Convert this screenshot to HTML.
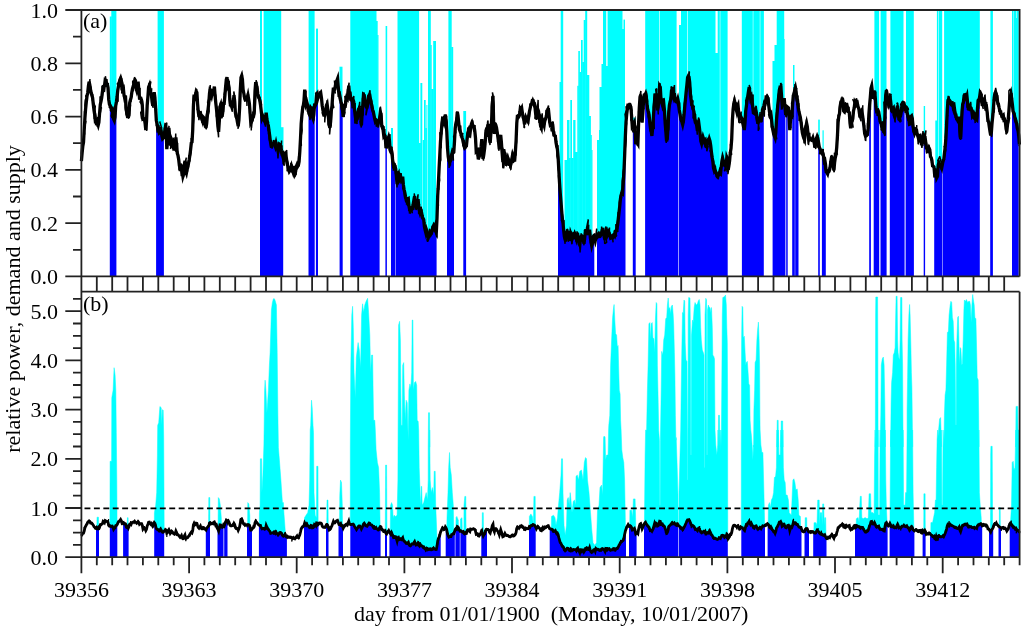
<!DOCTYPE html>
<html><head><meta charset="utf-8"><title>relative power, demand and supply</title>
<style>html,body{margin:0;padding:0;background:#fff}svg{display:block}text{font-family:"Liberation Serif","Times New Roman",serif;fill:#000}</style>
</head><body>
<svg width="1024" height="627" viewBox="0 0 1024 627">
<rect width="1024" height="627" fill="#fff"/>
<defs>
<clipPath id="aboveA"><path d="M81.4,10.0 L81.4,161.1 L82.1,153.0 L82.8,146.3 L83.5,142.4 L84.2,130.0 L84.9,118.2 L85.6,109.0 L86.3,102.2 L87.0,96.2 L87.7,92.7 L88.4,86.3 L89.1,81.7 L89.8,84.7 L90.5,89.8 L91.2,93.3 L91.9,95.6 L92.6,97.8 L93.3,104.3 L94.0,110.2 L94.7,114.8 L95.4,121.6 L96.1,121.4 L96.8,120.4 L97.5,123.1 L98.2,125.2 L98.9,122.3 L99.6,113.0 L100.3,104.4 L101.0,101.4 L101.7,97.7 L102.4,92.0 L103.1,86.9 L103.8,86.0 L104.5,85.6 L105.2,80.0 L105.9,80.5 L106.6,83.3 L107.3,84.3 L108.0,87.6 L108.7,99.2 L109.4,104.1 L110.1,105.3 L110.8,107.2 L111.5,108.5 L112.2,108.4 L112.9,114.7 L113.6,119.0 L114.3,120.5 L115.0,117.0 L115.7,105.9 L116.4,101.7 L117.1,96.8 L117.8,90.0 L118.5,86.3 L119.2,82.7 L119.9,79.8 L120.6,78.2 L121.3,80.7 L122.0,89.4 L122.7,89.9 L123.4,88.8 L124.1,95.8 L124.8,96.5 L125.5,96.7 L126.2,109.4 L126.9,113.4 L127.6,111.9 L128.3,117.9 L129.0,113.6 L129.7,102.7 L130.4,99.9 L131.1,97.7 L131.8,92.5 L132.5,88.6 L133.2,86.2 L133.9,84.1 L134.6,80.5 L135.3,84.2 L136.0,88.2 L136.7,90.5 L137.4,87.5 L138.1,81.7 L138.8,89.7 L139.5,98.3 L140.2,98.4 L140.9,98.3 L141.6,100.4 L142.3,105.2 L143.0,119.1 L143.7,118.8 L144.4,118.8 L145.1,123.4 L145.8,130.0 L146.5,121.6 L147.2,105.2 L147.9,96.8 L148.6,87.1 L149.3,85.4 L150.0,90.6 L150.7,92.9 L151.4,95.1 L152.1,101.7 L152.8,105.8 L153.5,97.7 L154.2,92.3 L154.9,97.4 L155.6,107.8 L156.3,120.2 L157.0,123.8 L157.7,128.0 L158.4,127.5 L159.1,131.5 L159.8,130.3 L160.5,127.3 L161.2,131.5 L161.9,136.2 L162.6,138.9 L163.3,138.2 L164.0,135.6 L164.7,131.5 L165.4,127.1 L166.1,128.3 L166.8,149.2 L167.5,142.3 L168.2,130.6 L168.9,127.9 L169.6,136.0 L170.3,144.2 L171.0,145.0 L171.7,140.4 L172.4,142.3 L173.1,145.9 L173.8,148.9 L174.5,148.7 L175.2,145.0 L175.9,137.5 L176.6,145.5 L177.3,153.3 L178.0,155.4 L178.7,159.5 L179.4,165.6 L180.1,168.4 L180.8,168.2 L181.5,164.8 L182.2,171.6 L182.9,176.3 L183.6,173.9 L184.3,164.9 L185.0,160.9 L185.7,171.2 L186.4,173.1 L187.1,169.6 L187.8,167.2 L188.5,163.2 L189.2,159.5 L189.9,154.9 L190.6,149.6 L191.3,143.0 L192.0,142.2 L192.7,130.3 L193.4,106.4 L194.1,94.7 L194.8,98.8 L195.5,94.7 L196.2,91.4 L196.9,92.5 L197.6,103.8 L198.3,112.0 L199.0,117.1 L199.7,112.7 L200.4,112.6 L201.1,116.3 L201.8,119.1 L202.5,121.1 L203.2,117.0 L203.9,117.7 L204.6,121.7 L205.3,124.9 L206.0,127.9 L206.7,123.3 L207.4,115.3 L208.1,109.1 L208.8,102.9 L209.5,93.4 L210.2,88.7 L210.9,93.4 L211.6,95.7 L212.3,92.3 L213.0,92.9 L213.7,90.0 L214.4,86.7 L215.1,95.9 L215.8,103.1 L216.5,109.2 L217.2,116.7 L217.9,126.3 L218.6,131.8 L219.3,121.4 L220.0,107.4 L220.7,105.3 L221.4,111.4 L222.1,116.7 L222.8,111.9 L223.5,103.3 L224.2,103.3 L224.9,95.7 L225.6,86.9 L226.3,79.5 L227.0,77.1 L227.7,85.8 L228.4,84.2 L229.1,87.9 L229.8,99.1 L230.5,103.6 L231.2,106.0 L231.9,106.1 L232.6,106.2 L233.3,101.6 L234.0,95.3 L234.7,101.3 L235.4,112.9 L236.1,116.6 L236.8,118.4 L237.5,122.4 L238.2,126.1 L238.9,120.4 L239.6,108.2 L240.3,90.1 L241.0,77.5 L241.7,75.7 L242.4,79.3 L243.1,89.6 L243.8,93.2 L244.5,97.1 L245.2,99.4 L245.9,99.0 L246.6,99.5 L247.3,98.4 L248.0,95.4 L248.7,99.2 L249.4,103.7 L250.1,113.1 L250.8,123.0 L251.5,121.8 L252.2,120.4 L252.9,115.9 L253.6,116.0 L254.3,111.0 L255.0,91.3 L255.7,82.2 L256.4,84.7 L257.1,87.7 L257.8,94.0 L258.5,97.5 L259.2,97.9 L259.9,101.3 L260.6,105.6 L261.3,111.6 L262.0,117.7 L262.7,115.8 L263.4,117.5 L264.1,120.2 L264.8,121.6 L265.5,118.2 L266.2,112.6 L266.9,119.1 L267.6,123.6 L268.3,125.5 L269.0,130.5 L269.7,135.7 L270.4,141.4 L271.1,145.2 L271.8,144.6 L272.5,144.7 L273.2,143.9 L273.9,142.8 L274.6,144.2 L275.3,146.4 L276.0,143.4 L276.7,146.7 L277.4,148.2 L278.1,151.7 L278.8,149.3 L279.5,144.2 L280.2,144.7 L280.9,147.1 L281.6,150.8 L282.3,153.9 L283.0,157.2 L283.7,159.5 L284.4,155.8 L285.1,152.0 L285.8,161.1 L286.5,159.0 L287.2,163.9 L287.9,166.6 L288.6,169.2 L289.3,171.5 L290.0,170.5 L290.7,168.6 L291.4,166.3 L292.1,169.3 L292.8,171.4 L293.5,165.9 L294.2,170.4 L294.9,173.6 L295.6,171.7 L296.3,166.4 L297.0,164.7 L297.7,166.3 L298.4,165.1 L299.1,161.6 L299.8,151.6 L300.5,138.6 L301.2,123.4 L301.9,115.2 L302.6,108.8 L303.3,105.7 L304.0,100.6 L304.7,89.7 L305.4,97.5 L306.1,104.1 L306.8,102.3 L307.5,105.2 L308.2,108.6 L308.9,113.5 L309.6,114.8 L310.3,115.0 L311.0,108.3 L311.7,109.4 L312.4,116.9 L313.1,118.7 L313.8,114.5 L314.5,105.5 L315.2,105.7 L315.9,104.0 L316.6,95.0 L317.3,93.8 L318.0,97.4 L318.7,94.8 L319.4,94.6 L320.1,94.3 L320.8,93.3 L321.5,98.1 L322.2,105.7 L322.9,109.3 L323.6,113.1 L324.3,113.8 L325.0,114.5 L325.7,112.0 L326.4,105.4 L327.1,103.9 L327.8,109.5 L328.5,118.4 L329.2,125.2 L329.9,127.8 L330.6,121.8 L331.3,110.9 L332.0,105.6 L332.7,95.3 L333.4,87.7 L334.1,90.2 L334.8,89.3 L335.5,84.7 L336.2,83.0 L336.9,80.6 L337.6,78.7 L338.3,87.6 L339.0,95.2 L339.7,95.1 L340.4,98.5 L341.1,102.5 L341.8,105.1 L342.5,110.3 L343.2,116.7 L343.9,111.2 L344.6,105.6 L345.3,105.8 L346.0,101.1 L346.7,97.4 L347.4,98.4 L348.1,92.2 L348.8,85.7 L349.5,94.1 L350.2,98.2 L350.9,98.8 L351.6,100.2 L352.3,100.4 L353.0,99.3 L353.7,101.6 L354.4,108.4 L355.1,114.9 L355.8,119.9 L356.5,120.2 L357.2,119.1 L357.9,113.1 L358.6,109.1 L359.3,108.1 L360.0,109.4 L360.7,116.2 L361.4,125.5 L362.1,114.1 L362.8,104.7 L363.5,94.7 L364.2,95.3 L364.9,100.9 L365.6,104.5 L366.3,107.1 L367.0,107.3 L367.7,104.6 L368.4,96.9 L369.1,95.2 L369.8,95.2 L370.5,99.5 L371.2,103.1 L371.9,105.9 L372.6,109.9 L373.3,111.4 L374.0,115.3 L374.7,118.9 L375.4,121.7 L376.1,120.9 L376.8,122.6 L377.5,122.5 L378.2,123.5 L378.9,120.2 L379.6,117.9 L380.3,112.3 L381.0,113.7 L381.7,125.0 L382.4,127.8 L383.1,130.0 L383.8,136.0 L384.5,135.0 L385.2,136.0 L385.9,146.8 L386.6,146.9 L387.3,141.1 L388.0,139.2 L388.7,137.0 L389.4,139.7 L390.1,150.4 L390.8,151.8 L391.5,150.8 L392.2,156.0 L392.9,162.6 L393.6,167.3 L394.3,167.5 L395.0,166.4 L395.7,168.7 L396.4,176.1 L397.1,184.2 L397.8,175.7 L398.5,174.2 L399.2,179.9 L399.9,178.5 L400.6,177.3 L401.3,180.2 L402.0,179.0 L402.7,176.6 L403.4,184.9 L404.1,189.6 L404.8,192.6 L405.5,196.4 L406.2,199.6 L406.9,201.4 L407.6,199.2 L408.3,198.7 L409.0,206.3 L409.7,209.6 L410.4,210.9 L411.1,209.7 L411.8,208.8 L412.5,207.7 L413.2,204.1 L413.9,199.9 L414.6,196.1 L415.3,201.8 L416.0,207.7 L416.7,207.4 L417.4,201.7 L418.1,199.1 L418.8,208.3 L419.5,210.8 L420.2,206.9 L420.9,210.4 L421.6,213.1 L422.3,217.4 L423.0,218.5 L423.7,219.6 L424.4,226.4 L425.1,230.0 L425.8,232.7 L426.5,229.8 L427.2,231.9 L427.9,237.4 L428.6,234.6 L429.3,234.0 L430.0,233.3 L430.7,234.5 L431.4,233.4 L432.1,230.8 L432.8,227.3 L433.5,225.8 L434.2,227.7 L434.9,230.0 L435.6,231.0 L436.3,232.5 L437.0,218.1 L437.7,195.6 L438.4,183.2 L439.1,168.2 L439.8,154.9 L440.5,141.2 L441.2,133.0 L441.9,123.9 L442.6,118.1 L443.3,118.2 L444.0,121.1 L444.7,117.2 L445.4,114.6 L446.1,120.7 L446.8,131.8 L447.5,147.9 L448.2,156.5 L448.9,160.8 L449.6,162.1 L450.3,161.2 L451.0,159.6 L451.7,154.6 L452.4,151.7 L453.1,152.9 L453.8,152.3 L454.5,141.5 L455.2,128.5 L455.9,123.2 L456.6,120.3 L457.3,111.8 L458.0,115.4 L458.7,122.6 L459.4,129.1 L460.1,131.4 L460.8,133.0 L461.5,134.3 L462.2,137.9 L462.9,140.1 L463.6,144.1 L464.3,146.8 L465.0,146.2 L465.7,146.6 L466.4,145.9 L467.1,139.0 L467.8,133.1 L468.5,131.2 L469.2,133.6 L469.9,134.5 L470.6,128.9 L471.3,124.3 L472.0,122.7 L472.7,124.9 L473.4,126.7 L474.1,126.7 L474.8,131.0 L475.5,138.0 L476.2,151.4 L476.9,150.7 L477.6,151.4 L478.3,159.4 L479.0,156.9 L479.7,154.3 L480.4,150.5 L481.1,146.2 L481.8,139.2 L482.5,151.9 L483.2,158.6 L483.9,153.9 L484.6,148.6 L485.3,141.1 L486.0,130.6 L486.7,128.5 L487.4,127.2 L488.1,124.0 L488.8,128.1 L489.5,138.4 L490.2,143.0 L490.9,133.0 L491.6,120.6 L492.3,104.5 L493.0,95.9 L493.7,124.5 L494.4,134.0 L495.1,124.2 L495.8,125.0 L496.5,127.6 L497.2,132.3 L497.9,137.2 L498.6,142.3 L499.3,149.3 L500.0,140.1 L500.7,135.0 L501.4,142.4 L502.1,152.3 L502.8,161.1 L503.5,161.6 L504.2,159.8 L504.9,152.7 L505.6,160.4 L506.3,162.1 L507.0,159.6 L507.7,157.6 L508.4,159.9 L509.1,163.8 L509.8,163.7 L510.5,165.7 L511.2,163.0 L511.9,158.6 L512.6,154.9 L513.3,157.0 L514.0,160.0 L514.7,160.0 L515.4,151.3 L516.1,140.3 L516.8,122.8 L517.5,114.8 L518.2,117.5 L518.9,116.4 L519.6,114.4 L520.3,108.5 L521.0,109.5 L521.7,108.1 L522.4,112.9 L523.1,117.3 L523.8,119.3 L524.5,124.4 L525.2,121.7 L525.9,117.8 L526.6,119.5 L527.3,119.8 L528.0,121.2 L528.7,116.7 L529.4,111.7 L530.1,108.5 L530.8,105.4 L531.5,104.7 L532.2,102.8 L532.9,100.8 L533.6,102.4 L534.3,103.1 L535.0,107.4 L535.7,114.4 L536.4,119.1 L537.1,114.4 L537.8,109.2 L538.5,111.1 L539.2,116.2 L539.9,120.4 L540.6,126.1 L541.3,127.8 L542.0,118.5 L542.7,119.6 L543.4,123.3 L544.1,125.4 L544.8,120.3 L545.5,119.2 L546.2,116.4 L546.9,113.3 L547.6,110.9 L548.3,108.1 L549.0,114.9 L549.7,121.9 L550.4,125.7 L551.1,125.5 L551.8,124.1 L552.5,123.8 L553.2,130.1 L553.9,135.2 L554.6,135.6 L555.3,136.0 L556.0,142.2 L556.7,146.5 L557.4,149.2 L558.1,156.8 L558.8,170.0 L559.5,182.3 L560.2,192.8 L560.9,201.1 L561.6,210.1 L562.3,218.6 L563.0,223.2 L563.7,230.7 L564.4,236.6 L565.1,239.3 L565.8,238.6 L566.5,233.4 L567.2,231.5 L567.9,232.1 L568.6,237.5 L569.3,239.1 L570.0,239.3 L570.7,233.3 L571.4,235.2 L572.1,239.3 L572.8,237.7 L573.5,235.4 L574.2,236.3 L574.9,233.6 L575.6,235.0 L576.3,238.0 L577.0,234.4 L577.7,234.4 L578.4,239.5 L579.1,243.8 L579.8,245.2 L580.5,236.9 L581.2,236.5 L581.9,241.4 L582.6,236.7 L583.3,237.4 L584.0,243.8 L584.7,237.5 L585.4,231.1 L586.1,231.1 L586.8,229.9 L587.5,229.0 L588.2,233.9 L588.9,234.0 L589.6,229.7 L590.3,236.8 L591.0,241.9 L591.7,245.6 L592.4,242.8 L593.1,240.6 L593.8,235.0 L594.5,238.7 L595.2,241.0 L595.9,237.6 L596.6,236.1 L597.3,236.8 L598.0,235.6 L598.7,234.3 L599.4,236.0 L600.1,236.2 L600.8,234.9 L601.5,233.2 L602.2,230.1 L602.9,229.8 L603.6,233.5 L604.3,237.3 L605.0,239.8 L605.7,231.8 L606.4,230.8 L607.1,235.9 L607.8,234.3 L608.5,232.0 L609.2,232.8 L609.9,235.6 L610.6,238.2 L611.3,237.9 L612.0,237.4 L612.7,237.4 L613.4,234.8 L614.1,234.4 L614.8,235.6 L615.5,233.0 L616.2,230.2 L616.9,228.5 L617.6,225.2 L618.3,218.7 L619.0,212.7 L619.7,206.6 L620.4,199.3 L621.1,195.3 L621.8,192.7 L622.5,193.4 L623.2,183.8 L623.9,172.7 L624.6,156.6 L625.3,137.8 L626.0,122.3 L626.7,114.3 L627.4,108.8 L628.1,103.7 L628.8,107.2 L629.5,107.6 L630.2,106.2 L630.9,107.2 L631.6,116.3 L632.3,126.9 L633.0,126.2 L633.7,125.0 L634.4,123.1 L635.1,132.3 L635.8,144.2 L636.5,141.8 L637.2,142.7 L637.9,143.9 L638.6,123.4 L639.3,107.7 L640.0,97.0 L640.7,94.7 L641.4,106.7 L642.1,122.5 L642.8,113.5 L643.5,102.2 L644.2,96.8 L644.9,95.4 L645.6,93.8 L646.3,97.1 L647.0,104.4 L647.7,109.4 L648.4,112.2 L649.1,115.1 L649.8,122.6 L650.5,128.5 L651.2,131.5 L651.9,135.9 L652.6,128.5 L653.3,119.0 L654.0,107.3 L654.7,99.2 L655.4,100.7 L656.1,93.4 L656.8,96.5 L657.5,110.3 L658.2,107.3 L658.9,97.7 L659.6,86.1 L660.3,87.3 L661.0,100.1 L661.7,102.5 L662.4,98.7 L663.1,105.4 L663.8,103.8 L664.5,110.8 L665.2,123.6 L665.9,132.1 L666.6,141.3 L667.3,138.3 L668.0,127.4 L668.7,112.7 L669.4,105.3 L670.1,101.7 L670.8,99.6 L671.5,90.7 L672.2,90.3 L672.9,93.7 L673.6,96.4 L674.3,93.1 L675.0,98.6 L675.7,101.3 L676.4,101.6 L677.1,101.3 L677.8,99.0 L678.5,102.4 L679.2,109.5 L679.9,113.5 L680.6,117.7 L681.3,120.5 L682.0,122.0 L682.7,124.6 L683.4,121.3 L684.1,114.3 L684.8,106.1 L685.5,98.9 L686.2,91.4 L686.9,85.0 L687.6,77.4 L688.3,76.0 L689.0,76.9 L689.7,82.5 L690.4,94.3 L691.1,99.6 L691.8,105.0 L692.5,105.7 L693.2,109.2 L693.9,111.6 L694.6,116.6 L695.3,122.2 L696.0,122.5 L696.7,125.7 L697.4,130.7 L698.1,124.2 L698.8,123.0 L699.5,128.5 L700.2,134.8 L700.9,141.3 L701.6,143.5 L702.3,140.1 L703.0,137.1 L703.7,139.3 L704.4,140.4 L705.1,139.8 L705.8,146.4 L706.5,146.9 L707.2,142.3 L707.9,140.7 L708.6,141.7 L709.3,139.0 L710.0,141.2 L710.7,145.4 L711.4,151.9 L712.1,157.3 L712.8,161.2 L713.5,167.9 L714.2,170.4 L714.9,168.9 L715.6,171.8 L716.3,173.2 L717.0,176.1 L717.7,176.7 L718.4,175.0 L719.1,173.4 L719.8,173.4 L720.5,173.9 L721.2,167.4 L721.9,161.2 L722.6,157.9 L723.3,160.5 L724.0,164.2 L724.7,165.5 L725.4,165.5 L726.1,165.9 L726.8,157.6 L727.5,159.4 L728.2,169.8 L728.9,165.7 L729.6,160.7 L730.3,152.6 L731.0,148.5 L731.7,139.1 L732.4,120.1 L733.1,109.5 L733.8,103.8 L734.5,100.9 L735.2,103.7 L735.9,108.1 L736.6,110.9 L737.3,106.7 L738.0,105.1 L738.7,112.3 L739.4,118.6 L740.1,117.5 L740.8,116.5 L741.5,118.0 L742.2,119.1 L742.9,122.6 L743.6,124.2 L744.3,130.0 L745.0,122.9 L745.7,111.1 L746.4,106.1 L747.1,100.2 L747.8,96.0 L748.5,91.2 L749.2,87.1 L749.9,93.3 L750.6,98.4 L751.3,96.9 L752.0,101.6 L752.7,106.9 L753.4,112.9 L754.1,113.2 L754.8,112.0 L755.5,109.9 L756.2,111.6 L756.9,116.2 L757.6,121.7 L758.3,122.4 L759.0,120.3 L759.7,119.5 L760.4,117.8 L761.1,122.0 L761.8,116.8 L762.5,109.6 L763.2,108.1 L763.9,105.6 L764.6,102.5 L765.3,103.2 L766.0,100.0 L766.7,97.1 L767.4,97.0 L768.1,99.9 L768.8,106.0 L769.5,112.0 L770.2,114.7 L770.9,113.7 L771.6,120.2 L772.3,127.1 L773.0,130.8 L773.7,134.1 L774.4,136.2 L775.1,137.9 L775.8,132.7 L776.5,120.0 L777.2,112.0 L777.9,104.0 L778.6,97.7 L779.3,90.2 L780.0,87.2 L780.7,87.4 L781.4,94.2 L782.1,105.1 L782.8,104.0 L783.5,100.7 L784.2,98.1 L784.9,106.5 L785.6,113.6 L786.3,113.8 L787.0,112.4 L787.7,107.2 L788.4,107.8 L789.1,116.4 L789.8,130.1 L790.5,120.7 L791.2,114.9 L791.9,115.7 L792.6,104.2 L793.3,95.6 L794.0,94.3 L794.7,90.1 L795.4,87.8 L796.1,91.6 L796.8,98.4 L797.5,99.9 L798.2,107.2 L798.9,111.5 L799.6,114.4 L800.3,117.2 L801.0,121.7 L801.7,127.5 L802.4,132.9 L803.1,135.7 L803.8,138.1 L804.5,139.7 L805.2,128.8 L805.9,126.3 L806.6,123.2 L807.3,126.6 L808.0,134.0 L808.7,140.0 L809.4,139.0 L810.1,139.3 L810.8,139.6 L811.5,140.2 L812.2,139.7 L812.9,137.9 L813.6,140.8 L814.3,143.4 L815.0,147.8 L815.7,143.2 L816.4,138.3 L817.1,136.4 L817.8,138.3 L818.5,142.4 L819.2,146.6 L819.9,148.5 L820.6,150.4 L821.3,151.4 L822.0,152.7 L822.7,152.9 L823.4,155.6 L824.1,160.6 L824.8,159.9 L825.5,164.3 L826.2,171.6 L826.9,172.6 L827.6,173.9 L828.3,170.8 L829.0,170.8 L829.7,169.4 L830.4,164.9 L831.1,159.8 L831.8,155.9 L832.5,159.3 L833.2,165.9 L833.9,170.4 L834.6,162.5 L835.3,157.5 L836.0,154.7 L836.7,147.6 L837.4,136.5 L838.1,122.6 L838.8,116.4 L839.5,113.6 L840.2,106.0 L840.9,102.0 L841.6,101.9 L842.3,97.7 L843.0,101.2 L843.7,111.1 L844.4,111.8 L845.1,108.8 L845.8,109.4 L846.5,103.0 L847.2,106.1 L847.9,109.5 L848.6,111.9 L849.3,112.6 L850.0,123.0 L850.7,128.3 L851.4,122.1 L852.1,121.3 L852.8,118.8 L853.5,111.0 L854.2,107.9 L854.9,102.3 L855.6,103.6 L856.3,101.4 L857.0,101.4 L857.7,105.2 L858.4,107.6 L859.1,109.6 L859.8,115.7 L860.5,115.5 L861.2,112.5 L861.9,111.0 L862.6,115.8 L863.3,121.0 L864.0,127.0 L864.7,133.6 L865.4,135.8 L866.1,135.7 L866.8,133.3 L867.5,133.7 L868.2,128.2 L868.9,114.0 L869.6,104.9 L870.3,97.4 L871.0,88.2 L871.7,85.9 L872.4,91.9 L873.1,98.6 L873.8,96.3 L874.5,90.8 L875.2,96.6 L875.9,106.5 L876.6,111.2 L877.3,110.8 L878.0,110.3 L878.7,112.0 L879.4,116.2 L880.1,121.3 L880.8,122.9 L881.5,123.4 L882.2,123.5 L882.9,127.5 L883.6,131.7 L884.3,132.3 L885.0,112.8 L885.7,95.2 L886.4,90.3 L887.1,94.1 L887.8,102.4 L888.5,104.4 L889.2,101.0 L889.9,96.3 L890.6,100.6 L891.3,107.7 L892.0,111.9 L892.7,108.8 L893.4,108.0 L894.1,115.1 L894.8,117.0 L895.5,114.7 L896.2,114.5 L896.9,108.3 L897.6,105.6 L898.3,113.7 L899.0,120.0 L899.7,117.6 L900.4,115.8 L901.1,111.6 L901.8,106.5 L902.5,103.6 L903.2,102.4 L903.9,102.8 L904.6,105.8 L905.3,111.1 L906.0,108.3 L906.7,109.3 L907.4,114.1 L908.1,116.0 L908.8,118.9 L909.5,124.2 L910.2,123.9 L910.9,116.6 L911.6,115.9 L912.3,118.6 L913.0,125.3 L913.7,131.0 L914.4,133.1 L915.1,130.7 L915.8,129.3 L916.5,129.9 L917.2,134.4 L917.9,136.4 L918.6,139.0 L919.3,136.5 L920.0,136.5 L920.7,137.6 L921.4,143.9 L922.1,144.0 L922.8,137.0 L923.5,137.7 L924.2,139.7 L924.9,136.1 L925.6,141.3 L926.3,148.0 L927.0,148.9 L927.7,149.7 L928.4,150.7 L929.1,148.2 L929.8,149.7 L930.5,156.6 L931.2,157.6 L931.9,160.3 L932.6,165.9 L933.3,166.2 L934.0,167.1 L934.7,175.3 L935.4,175.0 L936.1,169.6 L936.8,177.6 L937.5,176.2 L938.2,165.0 L938.9,162.7 L939.6,164.2 L940.3,165.6 L941.0,166.3 L941.7,168.1 L942.4,164.5 L943.1,160.2 L943.8,159.2 L944.5,153.0 L945.2,146.8 L945.9,138.7 L946.6,125.0 L947.3,109.8 L948.0,100.1 L948.7,99.3 L949.4,102.4 L950.1,101.8 L950.8,103.9 L951.5,105.0 L952.2,105.4 L952.9,105.5 L953.6,109.6 L954.3,110.8 L955.0,113.9 L955.7,115.3 L956.4,118.0 L957.1,118.9 L957.8,120.5 L958.5,119.8 L959.2,116.6 L959.9,131.4 L960.6,139.0 L961.3,124.7 L962.0,111.6 L962.7,104.3 L963.4,101.9 L964.1,95.7 L964.8,95.2 L965.5,97.6 L966.2,97.9 L966.9,95.8 L967.6,102.6 L968.3,107.0 L969.0,106.2 L969.7,108.3 L970.4,107.5 L971.1,108.0 L971.8,111.0 L972.5,116.5 L973.2,115.7 L973.9,113.8 L974.6,115.7 L975.3,115.6 L976.0,119.3 L976.7,119.9 L977.4,109.5 L978.1,100.3 L978.8,99.5 L979.5,97.9 L980.2,92.6 L980.9,93.7 L981.6,99.3 L982.3,105.7 L983.0,102.9 L983.7,100.1 L984.4,98.8 L985.1,103.5 L985.8,107.5 L986.5,106.8 L987.2,112.5 L987.9,121.0 L988.6,121.7 L989.3,126.8 L990.0,131.6 L990.7,135.5 L991.4,132.0 L992.1,122.5 L992.8,115.6 L993.5,107.0 L994.2,97.6 L994.9,93.3 L995.6,92.0 L996.3,93.9 L997.0,97.2 L997.7,102.6 L998.4,104.0 L999.1,107.5 L999.8,110.6 L1000.5,111.8 L1001.2,113.9 L1001.9,116.3 L1002.6,116.2 L1003.3,115.4 L1004.0,120.1 L1004.7,119.8 L1005.4,122.4 L1006.1,128.9 L1006.8,131.5 L1007.5,124.9 L1008.2,119.4 L1008.9,110.6 L1009.6,101.2 L1010.3,96.7 L1011.0,94.0 L1011.7,98.4 L1012.4,104.6 L1013.1,111.1 L1013.8,112.9 L1014.5,115.6 L1015.2,119.2 L1015.9,122.0 L1016.6,123.4 L1017.3,128.4 L1018.0,130.6 L1018.7,135.2 L1019.4,144.4 L1019.6,10.0 Z"/></clipPath>
<clipPath id="belowA"><path d="M81.4,276.4 L81.4,161.1 L82.1,153.0 L82.8,146.3 L83.5,142.4 L84.2,130.0 L84.9,118.2 L85.6,109.0 L86.3,102.2 L87.0,96.2 L87.7,92.7 L88.4,86.3 L89.1,81.7 L89.8,84.7 L90.5,89.8 L91.2,93.3 L91.9,95.6 L92.6,97.8 L93.3,104.3 L94.0,110.2 L94.7,114.8 L95.4,121.6 L96.1,121.4 L96.8,120.4 L97.5,123.1 L98.2,125.2 L98.9,122.3 L99.6,113.0 L100.3,104.4 L101.0,101.4 L101.7,97.7 L102.4,92.0 L103.1,86.9 L103.8,86.0 L104.5,85.6 L105.2,80.0 L105.9,80.5 L106.6,83.3 L107.3,84.3 L108.0,87.6 L108.7,99.2 L109.4,104.1 L110.1,105.3 L110.8,107.2 L111.5,108.5 L112.2,108.4 L112.9,114.7 L113.6,119.0 L114.3,120.5 L115.0,117.0 L115.7,105.9 L116.4,101.7 L117.1,96.8 L117.8,90.0 L118.5,86.3 L119.2,82.7 L119.9,79.8 L120.6,78.2 L121.3,80.7 L122.0,89.4 L122.7,89.9 L123.4,88.8 L124.1,95.8 L124.8,96.5 L125.5,96.7 L126.2,109.4 L126.9,113.4 L127.6,111.9 L128.3,117.9 L129.0,113.6 L129.7,102.7 L130.4,99.9 L131.1,97.7 L131.8,92.5 L132.5,88.6 L133.2,86.2 L133.9,84.1 L134.6,80.5 L135.3,84.2 L136.0,88.2 L136.7,90.5 L137.4,87.5 L138.1,81.7 L138.8,89.7 L139.5,98.3 L140.2,98.4 L140.9,98.3 L141.6,100.4 L142.3,105.2 L143.0,119.1 L143.7,118.8 L144.4,118.8 L145.1,123.4 L145.8,130.0 L146.5,121.6 L147.2,105.2 L147.9,96.8 L148.6,87.1 L149.3,85.4 L150.0,90.6 L150.7,92.9 L151.4,95.1 L152.1,101.7 L152.8,105.8 L153.5,97.7 L154.2,92.3 L154.9,97.4 L155.6,107.8 L156.3,120.2 L157.0,123.8 L157.7,128.0 L158.4,127.5 L159.1,131.5 L159.8,130.3 L160.5,127.3 L161.2,131.5 L161.9,136.2 L162.6,138.9 L163.3,138.2 L164.0,135.6 L164.7,131.5 L165.4,127.1 L166.1,128.3 L166.8,149.2 L167.5,142.3 L168.2,130.6 L168.9,127.9 L169.6,136.0 L170.3,144.2 L171.0,145.0 L171.7,140.4 L172.4,142.3 L173.1,145.9 L173.8,148.9 L174.5,148.7 L175.2,145.0 L175.9,137.5 L176.6,145.5 L177.3,153.3 L178.0,155.4 L178.7,159.5 L179.4,165.6 L180.1,168.4 L180.8,168.2 L181.5,164.8 L182.2,171.6 L182.9,176.3 L183.6,173.9 L184.3,164.9 L185.0,160.9 L185.7,171.2 L186.4,173.1 L187.1,169.6 L187.8,167.2 L188.5,163.2 L189.2,159.5 L189.9,154.9 L190.6,149.6 L191.3,143.0 L192.0,142.2 L192.7,130.3 L193.4,106.4 L194.1,94.7 L194.8,98.8 L195.5,94.7 L196.2,91.4 L196.9,92.5 L197.6,103.8 L198.3,112.0 L199.0,117.1 L199.7,112.7 L200.4,112.6 L201.1,116.3 L201.8,119.1 L202.5,121.1 L203.2,117.0 L203.9,117.7 L204.6,121.7 L205.3,124.9 L206.0,127.9 L206.7,123.3 L207.4,115.3 L208.1,109.1 L208.8,102.9 L209.5,93.4 L210.2,88.7 L210.9,93.4 L211.6,95.7 L212.3,92.3 L213.0,92.9 L213.7,90.0 L214.4,86.7 L215.1,95.9 L215.8,103.1 L216.5,109.2 L217.2,116.7 L217.9,126.3 L218.6,131.8 L219.3,121.4 L220.0,107.4 L220.7,105.3 L221.4,111.4 L222.1,116.7 L222.8,111.9 L223.5,103.3 L224.2,103.3 L224.9,95.7 L225.6,86.9 L226.3,79.5 L227.0,77.1 L227.7,85.8 L228.4,84.2 L229.1,87.9 L229.8,99.1 L230.5,103.6 L231.2,106.0 L231.9,106.1 L232.6,106.2 L233.3,101.6 L234.0,95.3 L234.7,101.3 L235.4,112.9 L236.1,116.6 L236.8,118.4 L237.5,122.4 L238.2,126.1 L238.9,120.4 L239.6,108.2 L240.3,90.1 L241.0,77.5 L241.7,75.7 L242.4,79.3 L243.1,89.6 L243.8,93.2 L244.5,97.1 L245.2,99.4 L245.9,99.0 L246.6,99.5 L247.3,98.4 L248.0,95.4 L248.7,99.2 L249.4,103.7 L250.1,113.1 L250.8,123.0 L251.5,121.8 L252.2,120.4 L252.9,115.9 L253.6,116.0 L254.3,111.0 L255.0,91.3 L255.7,82.2 L256.4,84.7 L257.1,87.7 L257.8,94.0 L258.5,97.5 L259.2,97.9 L259.9,101.3 L260.6,105.6 L261.3,111.6 L262.0,117.7 L262.7,115.8 L263.4,117.5 L264.1,120.2 L264.8,121.6 L265.5,118.2 L266.2,112.6 L266.9,119.1 L267.6,123.6 L268.3,125.5 L269.0,130.5 L269.7,135.7 L270.4,141.4 L271.1,145.2 L271.8,144.6 L272.5,144.7 L273.2,143.9 L273.9,142.8 L274.6,144.2 L275.3,146.4 L276.0,143.4 L276.7,146.7 L277.4,148.2 L278.1,151.7 L278.8,149.3 L279.5,144.2 L280.2,144.7 L280.9,147.1 L281.6,150.8 L282.3,153.9 L283.0,157.2 L283.7,159.5 L284.4,155.8 L285.1,152.0 L285.8,161.1 L286.5,159.0 L287.2,163.9 L287.9,166.6 L288.6,169.2 L289.3,171.5 L290.0,170.5 L290.7,168.6 L291.4,166.3 L292.1,169.3 L292.8,171.4 L293.5,165.9 L294.2,170.4 L294.9,173.6 L295.6,171.7 L296.3,166.4 L297.0,164.7 L297.7,166.3 L298.4,165.1 L299.1,161.6 L299.8,151.6 L300.5,138.6 L301.2,123.4 L301.9,115.2 L302.6,108.8 L303.3,105.7 L304.0,100.6 L304.7,89.7 L305.4,97.5 L306.1,104.1 L306.8,102.3 L307.5,105.2 L308.2,108.6 L308.9,113.5 L309.6,114.8 L310.3,115.0 L311.0,108.3 L311.7,109.4 L312.4,116.9 L313.1,118.7 L313.8,114.5 L314.5,105.5 L315.2,105.7 L315.9,104.0 L316.6,95.0 L317.3,93.8 L318.0,97.4 L318.7,94.8 L319.4,94.6 L320.1,94.3 L320.8,93.3 L321.5,98.1 L322.2,105.7 L322.9,109.3 L323.6,113.1 L324.3,113.8 L325.0,114.5 L325.7,112.0 L326.4,105.4 L327.1,103.9 L327.8,109.5 L328.5,118.4 L329.2,125.2 L329.9,127.8 L330.6,121.8 L331.3,110.9 L332.0,105.6 L332.7,95.3 L333.4,87.7 L334.1,90.2 L334.8,89.3 L335.5,84.7 L336.2,83.0 L336.9,80.6 L337.6,78.7 L338.3,87.6 L339.0,95.2 L339.7,95.1 L340.4,98.5 L341.1,102.5 L341.8,105.1 L342.5,110.3 L343.2,116.7 L343.9,111.2 L344.6,105.6 L345.3,105.8 L346.0,101.1 L346.7,97.4 L347.4,98.4 L348.1,92.2 L348.8,85.7 L349.5,94.1 L350.2,98.2 L350.9,98.8 L351.6,100.2 L352.3,100.4 L353.0,99.3 L353.7,101.6 L354.4,108.4 L355.1,114.9 L355.8,119.9 L356.5,120.2 L357.2,119.1 L357.9,113.1 L358.6,109.1 L359.3,108.1 L360.0,109.4 L360.7,116.2 L361.4,125.5 L362.1,114.1 L362.8,104.7 L363.5,94.7 L364.2,95.3 L364.9,100.9 L365.6,104.5 L366.3,107.1 L367.0,107.3 L367.7,104.6 L368.4,96.9 L369.1,95.2 L369.8,95.2 L370.5,99.5 L371.2,103.1 L371.9,105.9 L372.6,109.9 L373.3,111.4 L374.0,115.3 L374.7,118.9 L375.4,121.7 L376.1,120.9 L376.8,122.6 L377.5,122.5 L378.2,123.5 L378.9,120.2 L379.6,117.9 L380.3,112.3 L381.0,113.7 L381.7,125.0 L382.4,127.8 L383.1,130.0 L383.8,136.0 L384.5,135.0 L385.2,136.0 L385.9,146.8 L386.6,146.9 L387.3,141.1 L388.0,139.2 L388.7,137.0 L389.4,139.7 L390.1,150.4 L390.8,151.8 L391.5,150.8 L392.2,156.0 L392.9,162.6 L393.6,167.3 L394.3,167.5 L395.0,166.4 L395.7,168.7 L396.4,176.1 L397.1,184.2 L397.8,175.7 L398.5,174.2 L399.2,179.9 L399.9,178.5 L400.6,177.3 L401.3,180.2 L402.0,179.0 L402.7,176.6 L403.4,184.9 L404.1,189.6 L404.8,192.6 L405.5,196.4 L406.2,199.6 L406.9,201.4 L407.6,199.2 L408.3,198.7 L409.0,206.3 L409.7,209.6 L410.4,210.9 L411.1,209.7 L411.8,208.8 L412.5,207.7 L413.2,204.1 L413.9,199.9 L414.6,196.1 L415.3,201.8 L416.0,207.7 L416.7,207.4 L417.4,201.7 L418.1,199.1 L418.8,208.3 L419.5,210.8 L420.2,206.9 L420.9,210.4 L421.6,213.1 L422.3,217.4 L423.0,218.5 L423.7,219.6 L424.4,226.4 L425.1,230.0 L425.8,232.7 L426.5,229.8 L427.2,231.9 L427.9,237.4 L428.6,234.6 L429.3,234.0 L430.0,233.3 L430.7,234.5 L431.4,233.4 L432.1,230.8 L432.8,227.3 L433.5,225.8 L434.2,227.7 L434.9,230.0 L435.6,231.0 L436.3,232.5 L437.0,218.1 L437.7,195.6 L438.4,183.2 L439.1,168.2 L439.8,154.9 L440.5,141.2 L441.2,133.0 L441.9,123.9 L442.6,118.1 L443.3,118.2 L444.0,121.1 L444.7,117.2 L445.4,114.6 L446.1,120.7 L446.8,131.8 L447.5,147.9 L448.2,156.5 L448.9,160.8 L449.6,162.1 L450.3,161.2 L451.0,159.6 L451.7,154.6 L452.4,151.7 L453.1,152.9 L453.8,152.3 L454.5,141.5 L455.2,128.5 L455.9,123.2 L456.6,120.3 L457.3,111.8 L458.0,115.4 L458.7,122.6 L459.4,129.1 L460.1,131.4 L460.8,133.0 L461.5,134.3 L462.2,137.9 L462.9,140.1 L463.6,144.1 L464.3,146.8 L465.0,146.2 L465.7,146.6 L466.4,145.9 L467.1,139.0 L467.8,133.1 L468.5,131.2 L469.2,133.6 L469.9,134.5 L470.6,128.9 L471.3,124.3 L472.0,122.7 L472.7,124.9 L473.4,126.7 L474.1,126.7 L474.8,131.0 L475.5,138.0 L476.2,151.4 L476.9,150.7 L477.6,151.4 L478.3,159.4 L479.0,156.9 L479.7,154.3 L480.4,150.5 L481.1,146.2 L481.8,139.2 L482.5,151.9 L483.2,158.6 L483.9,153.9 L484.6,148.6 L485.3,141.1 L486.0,130.6 L486.7,128.5 L487.4,127.2 L488.1,124.0 L488.8,128.1 L489.5,138.4 L490.2,143.0 L490.9,133.0 L491.6,120.6 L492.3,104.5 L493.0,95.9 L493.7,124.5 L494.4,134.0 L495.1,124.2 L495.8,125.0 L496.5,127.6 L497.2,132.3 L497.9,137.2 L498.6,142.3 L499.3,149.3 L500.0,140.1 L500.7,135.0 L501.4,142.4 L502.1,152.3 L502.8,161.1 L503.5,161.6 L504.2,159.8 L504.9,152.7 L505.6,160.4 L506.3,162.1 L507.0,159.6 L507.7,157.6 L508.4,159.9 L509.1,163.8 L509.8,163.7 L510.5,165.7 L511.2,163.0 L511.9,158.6 L512.6,154.9 L513.3,157.0 L514.0,160.0 L514.7,160.0 L515.4,151.3 L516.1,140.3 L516.8,122.8 L517.5,114.8 L518.2,117.5 L518.9,116.4 L519.6,114.4 L520.3,108.5 L521.0,109.5 L521.7,108.1 L522.4,112.9 L523.1,117.3 L523.8,119.3 L524.5,124.4 L525.2,121.7 L525.9,117.8 L526.6,119.5 L527.3,119.8 L528.0,121.2 L528.7,116.7 L529.4,111.7 L530.1,108.5 L530.8,105.4 L531.5,104.7 L532.2,102.8 L532.9,100.8 L533.6,102.4 L534.3,103.1 L535.0,107.4 L535.7,114.4 L536.4,119.1 L537.1,114.4 L537.8,109.2 L538.5,111.1 L539.2,116.2 L539.9,120.4 L540.6,126.1 L541.3,127.8 L542.0,118.5 L542.7,119.6 L543.4,123.3 L544.1,125.4 L544.8,120.3 L545.5,119.2 L546.2,116.4 L546.9,113.3 L547.6,110.9 L548.3,108.1 L549.0,114.9 L549.7,121.9 L550.4,125.7 L551.1,125.5 L551.8,124.1 L552.5,123.8 L553.2,130.1 L553.9,135.2 L554.6,135.6 L555.3,136.0 L556.0,142.2 L556.7,146.5 L557.4,149.2 L558.1,156.8 L558.8,170.0 L559.5,182.3 L560.2,192.8 L560.9,201.1 L561.6,210.1 L562.3,218.6 L563.0,223.2 L563.7,230.7 L564.4,236.6 L565.1,239.3 L565.8,238.6 L566.5,233.4 L567.2,231.5 L567.9,232.1 L568.6,237.5 L569.3,239.1 L570.0,239.3 L570.7,233.3 L571.4,235.2 L572.1,239.3 L572.8,237.7 L573.5,235.4 L574.2,236.3 L574.9,233.6 L575.6,235.0 L576.3,238.0 L577.0,234.4 L577.7,234.4 L578.4,239.5 L579.1,243.8 L579.8,245.2 L580.5,236.9 L581.2,236.5 L581.9,241.4 L582.6,236.7 L583.3,237.4 L584.0,243.8 L584.7,237.5 L585.4,231.1 L586.1,231.1 L586.8,229.9 L587.5,229.0 L588.2,233.9 L588.9,234.0 L589.6,229.7 L590.3,236.8 L591.0,241.9 L591.7,245.6 L592.4,242.8 L593.1,240.6 L593.8,235.0 L594.5,238.7 L595.2,241.0 L595.9,237.6 L596.6,236.1 L597.3,236.8 L598.0,235.6 L598.7,234.3 L599.4,236.0 L600.1,236.2 L600.8,234.9 L601.5,233.2 L602.2,230.1 L602.9,229.8 L603.6,233.5 L604.3,237.3 L605.0,239.8 L605.7,231.8 L606.4,230.8 L607.1,235.9 L607.8,234.3 L608.5,232.0 L609.2,232.8 L609.9,235.6 L610.6,238.2 L611.3,237.9 L612.0,237.4 L612.7,237.4 L613.4,234.8 L614.1,234.4 L614.8,235.6 L615.5,233.0 L616.2,230.2 L616.9,228.5 L617.6,225.2 L618.3,218.7 L619.0,212.7 L619.7,206.6 L620.4,199.3 L621.1,195.3 L621.8,192.7 L622.5,193.4 L623.2,183.8 L623.9,172.7 L624.6,156.6 L625.3,137.8 L626.0,122.3 L626.7,114.3 L627.4,108.8 L628.1,103.7 L628.8,107.2 L629.5,107.6 L630.2,106.2 L630.9,107.2 L631.6,116.3 L632.3,126.9 L633.0,126.2 L633.7,125.0 L634.4,123.1 L635.1,132.3 L635.8,144.2 L636.5,141.8 L637.2,142.7 L637.9,143.9 L638.6,123.4 L639.3,107.7 L640.0,97.0 L640.7,94.7 L641.4,106.7 L642.1,122.5 L642.8,113.5 L643.5,102.2 L644.2,96.8 L644.9,95.4 L645.6,93.8 L646.3,97.1 L647.0,104.4 L647.7,109.4 L648.4,112.2 L649.1,115.1 L649.8,122.6 L650.5,128.5 L651.2,131.5 L651.9,135.9 L652.6,128.5 L653.3,119.0 L654.0,107.3 L654.7,99.2 L655.4,100.7 L656.1,93.4 L656.8,96.5 L657.5,110.3 L658.2,107.3 L658.9,97.7 L659.6,86.1 L660.3,87.3 L661.0,100.1 L661.7,102.5 L662.4,98.7 L663.1,105.4 L663.8,103.8 L664.5,110.8 L665.2,123.6 L665.9,132.1 L666.6,141.3 L667.3,138.3 L668.0,127.4 L668.7,112.7 L669.4,105.3 L670.1,101.7 L670.8,99.6 L671.5,90.7 L672.2,90.3 L672.9,93.7 L673.6,96.4 L674.3,93.1 L675.0,98.6 L675.7,101.3 L676.4,101.6 L677.1,101.3 L677.8,99.0 L678.5,102.4 L679.2,109.5 L679.9,113.5 L680.6,117.7 L681.3,120.5 L682.0,122.0 L682.7,124.6 L683.4,121.3 L684.1,114.3 L684.8,106.1 L685.5,98.9 L686.2,91.4 L686.9,85.0 L687.6,77.4 L688.3,76.0 L689.0,76.9 L689.7,82.5 L690.4,94.3 L691.1,99.6 L691.8,105.0 L692.5,105.7 L693.2,109.2 L693.9,111.6 L694.6,116.6 L695.3,122.2 L696.0,122.5 L696.7,125.7 L697.4,130.7 L698.1,124.2 L698.8,123.0 L699.5,128.5 L700.2,134.8 L700.9,141.3 L701.6,143.5 L702.3,140.1 L703.0,137.1 L703.7,139.3 L704.4,140.4 L705.1,139.8 L705.8,146.4 L706.5,146.9 L707.2,142.3 L707.9,140.7 L708.6,141.7 L709.3,139.0 L710.0,141.2 L710.7,145.4 L711.4,151.9 L712.1,157.3 L712.8,161.2 L713.5,167.9 L714.2,170.4 L714.9,168.9 L715.6,171.8 L716.3,173.2 L717.0,176.1 L717.7,176.7 L718.4,175.0 L719.1,173.4 L719.8,173.4 L720.5,173.9 L721.2,167.4 L721.9,161.2 L722.6,157.9 L723.3,160.5 L724.0,164.2 L724.7,165.5 L725.4,165.5 L726.1,165.9 L726.8,157.6 L727.5,159.4 L728.2,169.8 L728.9,165.7 L729.6,160.7 L730.3,152.6 L731.0,148.5 L731.7,139.1 L732.4,120.1 L733.1,109.5 L733.8,103.8 L734.5,100.9 L735.2,103.7 L735.9,108.1 L736.6,110.9 L737.3,106.7 L738.0,105.1 L738.7,112.3 L739.4,118.6 L740.1,117.5 L740.8,116.5 L741.5,118.0 L742.2,119.1 L742.9,122.6 L743.6,124.2 L744.3,130.0 L745.0,122.9 L745.7,111.1 L746.4,106.1 L747.1,100.2 L747.8,96.0 L748.5,91.2 L749.2,87.1 L749.9,93.3 L750.6,98.4 L751.3,96.9 L752.0,101.6 L752.7,106.9 L753.4,112.9 L754.1,113.2 L754.8,112.0 L755.5,109.9 L756.2,111.6 L756.9,116.2 L757.6,121.7 L758.3,122.4 L759.0,120.3 L759.7,119.5 L760.4,117.8 L761.1,122.0 L761.8,116.8 L762.5,109.6 L763.2,108.1 L763.9,105.6 L764.6,102.5 L765.3,103.2 L766.0,100.0 L766.7,97.1 L767.4,97.0 L768.1,99.9 L768.8,106.0 L769.5,112.0 L770.2,114.7 L770.9,113.7 L771.6,120.2 L772.3,127.1 L773.0,130.8 L773.7,134.1 L774.4,136.2 L775.1,137.9 L775.8,132.7 L776.5,120.0 L777.2,112.0 L777.9,104.0 L778.6,97.7 L779.3,90.2 L780.0,87.2 L780.7,87.4 L781.4,94.2 L782.1,105.1 L782.8,104.0 L783.5,100.7 L784.2,98.1 L784.9,106.5 L785.6,113.6 L786.3,113.8 L787.0,112.4 L787.7,107.2 L788.4,107.8 L789.1,116.4 L789.8,130.1 L790.5,120.7 L791.2,114.9 L791.9,115.7 L792.6,104.2 L793.3,95.6 L794.0,94.3 L794.7,90.1 L795.4,87.8 L796.1,91.6 L796.8,98.4 L797.5,99.9 L798.2,107.2 L798.9,111.5 L799.6,114.4 L800.3,117.2 L801.0,121.7 L801.7,127.5 L802.4,132.9 L803.1,135.7 L803.8,138.1 L804.5,139.7 L805.2,128.8 L805.9,126.3 L806.6,123.2 L807.3,126.6 L808.0,134.0 L808.7,140.0 L809.4,139.0 L810.1,139.3 L810.8,139.6 L811.5,140.2 L812.2,139.7 L812.9,137.9 L813.6,140.8 L814.3,143.4 L815.0,147.8 L815.7,143.2 L816.4,138.3 L817.1,136.4 L817.8,138.3 L818.5,142.4 L819.2,146.6 L819.9,148.5 L820.6,150.4 L821.3,151.4 L822.0,152.7 L822.7,152.9 L823.4,155.6 L824.1,160.6 L824.8,159.9 L825.5,164.3 L826.2,171.6 L826.9,172.6 L827.6,173.9 L828.3,170.8 L829.0,170.8 L829.7,169.4 L830.4,164.9 L831.1,159.8 L831.8,155.9 L832.5,159.3 L833.2,165.9 L833.9,170.4 L834.6,162.5 L835.3,157.5 L836.0,154.7 L836.7,147.6 L837.4,136.5 L838.1,122.6 L838.8,116.4 L839.5,113.6 L840.2,106.0 L840.9,102.0 L841.6,101.9 L842.3,97.7 L843.0,101.2 L843.7,111.1 L844.4,111.8 L845.1,108.8 L845.8,109.4 L846.5,103.0 L847.2,106.1 L847.9,109.5 L848.6,111.9 L849.3,112.6 L850.0,123.0 L850.7,128.3 L851.4,122.1 L852.1,121.3 L852.8,118.8 L853.5,111.0 L854.2,107.9 L854.9,102.3 L855.6,103.6 L856.3,101.4 L857.0,101.4 L857.7,105.2 L858.4,107.6 L859.1,109.6 L859.8,115.7 L860.5,115.5 L861.2,112.5 L861.9,111.0 L862.6,115.8 L863.3,121.0 L864.0,127.0 L864.7,133.6 L865.4,135.8 L866.1,135.7 L866.8,133.3 L867.5,133.7 L868.2,128.2 L868.9,114.0 L869.6,104.9 L870.3,97.4 L871.0,88.2 L871.7,85.9 L872.4,91.9 L873.1,98.6 L873.8,96.3 L874.5,90.8 L875.2,96.6 L875.9,106.5 L876.6,111.2 L877.3,110.8 L878.0,110.3 L878.7,112.0 L879.4,116.2 L880.1,121.3 L880.8,122.9 L881.5,123.4 L882.2,123.5 L882.9,127.5 L883.6,131.7 L884.3,132.3 L885.0,112.8 L885.7,95.2 L886.4,90.3 L887.1,94.1 L887.8,102.4 L888.5,104.4 L889.2,101.0 L889.9,96.3 L890.6,100.6 L891.3,107.7 L892.0,111.9 L892.7,108.8 L893.4,108.0 L894.1,115.1 L894.8,117.0 L895.5,114.7 L896.2,114.5 L896.9,108.3 L897.6,105.6 L898.3,113.7 L899.0,120.0 L899.7,117.6 L900.4,115.8 L901.1,111.6 L901.8,106.5 L902.5,103.6 L903.2,102.4 L903.9,102.8 L904.6,105.8 L905.3,111.1 L906.0,108.3 L906.7,109.3 L907.4,114.1 L908.1,116.0 L908.8,118.9 L909.5,124.2 L910.2,123.9 L910.9,116.6 L911.6,115.9 L912.3,118.6 L913.0,125.3 L913.7,131.0 L914.4,133.1 L915.1,130.7 L915.8,129.3 L916.5,129.9 L917.2,134.4 L917.9,136.4 L918.6,139.0 L919.3,136.5 L920.0,136.5 L920.7,137.6 L921.4,143.9 L922.1,144.0 L922.8,137.0 L923.5,137.7 L924.2,139.7 L924.9,136.1 L925.6,141.3 L926.3,148.0 L927.0,148.9 L927.7,149.7 L928.4,150.7 L929.1,148.2 L929.8,149.7 L930.5,156.6 L931.2,157.6 L931.9,160.3 L932.6,165.9 L933.3,166.2 L934.0,167.1 L934.7,175.3 L935.4,175.0 L936.1,169.6 L936.8,177.6 L937.5,176.2 L938.2,165.0 L938.9,162.7 L939.6,164.2 L940.3,165.6 L941.0,166.3 L941.7,168.1 L942.4,164.5 L943.1,160.2 L943.8,159.2 L944.5,153.0 L945.2,146.8 L945.9,138.7 L946.6,125.0 L947.3,109.8 L948.0,100.1 L948.7,99.3 L949.4,102.4 L950.1,101.8 L950.8,103.9 L951.5,105.0 L952.2,105.4 L952.9,105.5 L953.6,109.6 L954.3,110.8 L955.0,113.9 L955.7,115.3 L956.4,118.0 L957.1,118.9 L957.8,120.5 L958.5,119.8 L959.2,116.6 L959.9,131.4 L960.6,139.0 L961.3,124.7 L962.0,111.6 L962.7,104.3 L963.4,101.9 L964.1,95.7 L964.8,95.2 L965.5,97.6 L966.2,97.9 L966.9,95.8 L967.6,102.6 L968.3,107.0 L969.0,106.2 L969.7,108.3 L970.4,107.5 L971.1,108.0 L971.8,111.0 L972.5,116.5 L973.2,115.7 L973.9,113.8 L974.6,115.7 L975.3,115.6 L976.0,119.3 L976.7,119.9 L977.4,109.5 L978.1,100.3 L978.8,99.5 L979.5,97.9 L980.2,92.6 L980.9,93.7 L981.6,99.3 L982.3,105.7 L983.0,102.9 L983.7,100.1 L984.4,98.8 L985.1,103.5 L985.8,107.5 L986.5,106.8 L987.2,112.5 L987.9,121.0 L988.6,121.7 L989.3,126.8 L990.0,131.6 L990.7,135.5 L991.4,132.0 L992.1,122.5 L992.8,115.6 L993.5,107.0 L994.2,97.6 L994.9,93.3 L995.6,92.0 L996.3,93.9 L997.0,97.2 L997.7,102.6 L998.4,104.0 L999.1,107.5 L999.8,110.6 L1000.5,111.8 L1001.2,113.9 L1001.9,116.3 L1002.6,116.2 L1003.3,115.4 L1004.0,120.1 L1004.7,119.8 L1005.4,122.4 L1006.1,128.9 L1006.8,131.5 L1007.5,124.9 L1008.2,119.4 L1008.9,110.6 L1009.6,101.2 L1010.3,96.7 L1011.0,94.0 L1011.7,98.4 L1012.4,104.6 L1013.1,111.1 L1013.8,112.9 L1014.5,115.6 L1015.2,119.2 L1015.9,122.0 L1016.6,123.4 L1017.3,128.4 L1018.0,130.6 L1018.7,135.2 L1019.4,144.4 L1019.6,276.4 Z"/></clipPath>
<clipPath id="aboveB"><path d="M81.4,291.7 L81.4,535.9 L82.1,534.5 L82.8,533.4 L83.5,533.1 L84.2,531.0 L84.9,528.0 L85.6,526.3 L86.3,525.0 L87.0,524.1 L87.7,522.3 L88.4,521.6 L89.1,521.0 L89.8,521.4 L90.5,523.1 L91.2,523.3 L91.9,523.2 L92.6,524.2 L93.3,525.2 L94.0,526.6 L94.7,527.3 L95.4,528.3 L96.1,528.6 L96.8,527.4 L97.5,528.3 L98.2,528.9 L98.9,528.8 L99.6,527.0 L100.3,524.8 L101.0,524.8 L101.7,524.1 L102.4,523.8 L103.1,521.4 L103.8,521.9 L104.5,522.7 L105.2,520.6 L105.9,521.0 L106.6,521.4 L107.3,521.6 L108.0,522.3 L108.7,525.4 L109.4,526.1 L110.1,525.8 L110.8,526.3 L111.5,526.1 L112.2,526.0 L112.9,527.3 L113.6,529.3 L114.3,528.2 L115.0,528.1 L115.7,525.7 L116.4,525.5 L117.1,524.8 L117.8,523.1 L118.5,521.5 L119.2,521.2 L119.9,520.5 L120.6,519.5 L121.3,520.9 L122.0,523.2 L122.7,522.7 L123.4,522.5 L124.1,523.8 L124.8,523.5 L125.5,524.0 L126.2,526.7 L126.9,527.2 L127.6,526.5 L128.3,528.0 L129.0,526.4 L129.7,524.2 L130.4,523.8 L131.1,524.5 L131.8,522.8 L132.5,522.4 L133.2,522.2 L133.9,521.9 L134.6,521.2 L135.3,522.2 L136.0,522.5 L136.7,523.3 L137.4,522.6 L138.1,521.6 L138.8,522.4 L139.5,524.4 L140.2,523.8 L140.9,523.7 L141.6,523.7 L142.3,525.5 L143.0,529.1 L143.7,528.2 L144.4,528.4 L145.1,528.7 L145.8,530.6 L146.5,529.2 L147.2,525.9 L147.9,524.3 L148.6,522.2 L149.3,522.1 L150.0,523.6 L150.7,524.4 L151.4,523.6 L152.1,525.3 L152.8,525.8 L153.5,523.6 L154.2,522.4 L154.9,523.3 L155.6,525.9 L156.3,528.5 L157.0,529.1 L157.7,529.9 L158.4,529.9 L159.1,530.7 L159.8,530.6 L160.5,529.3 L161.2,529.9 L161.9,531.5 L162.6,532.3 L163.3,532.2 L164.0,531.2 L164.7,530.8 L165.4,529.6 L166.1,530.1 L166.8,533.2 L167.5,532.6 L168.2,530.6 L168.9,529.6 L169.6,531.0 L170.3,533.4 L171.0,532.4 L171.7,531.2 L172.4,531.8 L173.1,533.1 L173.8,533.9 L174.5,534.2 L175.2,533.3 L175.9,531.0 L176.6,532.5 L177.3,534.4 L178.0,534.7 L178.7,535.4 L179.4,536.5 L180.1,537.4 L180.8,536.6 L181.5,535.5 L182.2,537.6 L182.9,538.7 L183.6,538.5 L184.3,536.4 L185.0,535.0 L185.7,538.0 L186.4,538.3 L187.1,537.9 L187.8,537.5 L188.5,536.3 L189.2,535.8 L189.9,534.1 L190.6,533.2 L191.3,532.1 L192.0,532.8 L192.7,530.6 L193.4,525.0 L194.1,523.4 L194.8,525.0 L195.5,524.4 L196.2,523.2 L196.9,523.4 L197.6,525.7 L198.3,527.6 L199.0,528.3 L199.7,527.3 L200.4,526.1 L201.1,528.3 L201.8,528.9 L202.5,528.9 L203.2,527.5 L203.9,527.7 L204.6,528.8 L205.3,529.0 L206.0,529.9 L206.7,528.2 L207.4,527.3 L208.1,526.5 L208.8,525.8 L209.5,523.0 L210.2,522.7 L210.9,524.0 L211.6,523.8 L212.3,523.2 L213.0,523.7 L213.7,522.5 L214.4,522.1 L215.1,523.7 L215.8,525.7 L216.5,525.5 L217.2,528.1 L217.9,529.3 L218.6,531.0 L219.3,527.8 L220.0,524.9 L220.7,525.0 L221.4,526.8 L222.1,527.3 L222.8,526.8 L223.5,524.9 L224.2,525.8 L224.9,523.9 L225.6,522.1 L226.3,520.1 L227.0,520.6 L227.7,521.9 L228.4,521.0 L229.1,522.3 L229.8,524.5 L230.5,525.8 L231.2,525.9 L231.9,525.8 L232.6,525.0 L233.3,525.1 L234.0,523.4 L234.7,524.5 L235.4,527.6 L236.1,528.5 L236.8,528.4 L237.5,528.7 L238.2,530.4 L238.9,528.8 L239.6,526.8 L240.3,523.0 L241.0,519.3 L241.7,519.0 L242.4,520.5 L243.1,523.3 L243.8,524.1 L244.5,523.9 L245.2,525.3 L245.9,524.9 L246.6,524.8 L247.3,525.0 L248.0,524.5 L248.7,524.7 L249.4,525.2 L250.1,527.2 L250.8,530.1 L251.5,530.0 L252.2,528.5 L252.9,528.2 L253.6,527.5 L254.3,526.5 L255.0,522.6 L255.7,521.2 L256.4,522.1 L257.1,522.8 L257.8,523.8 L258.5,524.6 L259.2,525.1 L259.9,525.2 L260.6,526.2 L261.3,527.6 L262.0,528.8 L262.7,528.5 L263.4,528.7 L264.1,528.6 L264.8,529.2 L265.5,528.7 L266.2,525.4 L266.9,527.0 L267.6,528.3 L268.3,529.4 L269.0,530.4 L269.7,531.1 L270.4,532.6 L271.1,533.0 L271.8,533.1 L272.5,532.8 L273.2,532.6 L273.9,532.0 L274.6,533.0 L275.3,533.6 L276.0,532.1 L276.7,533.2 L277.4,533.7 L278.1,534.8 L278.8,534.1 L279.5,532.8 L280.2,532.7 L280.9,532.7 L281.6,533.3 L282.3,535.3 L283.0,536.0 L283.7,536.1 L284.4,535.0 L285.1,534.2 L285.8,536.2 L286.5,536.8 L287.2,536.4 L287.9,537.3 L288.6,536.8 L289.3,537.2 L290.0,536.9 L290.7,537.0 L291.4,537.3 L292.1,538.0 L292.8,538.3 L293.5,537.5 L294.2,538.2 L294.9,538.8 L295.6,537.8 L296.3,536.9 L297.0,536.0 L297.7,537.5 L298.4,537.8 L299.1,536.4 L299.8,534.7 L300.5,532.0 L301.2,528.7 L301.9,527.5 L302.6,527.1 L303.3,526.4 L304.0,525.5 L304.7,522.9 L305.4,524.2 L306.1,525.2 L306.8,524.1 L307.5,525.4 L308.2,525.8 L308.9,526.9 L309.6,527.6 L310.3,527.4 L311.0,525.4 L311.7,525.6 L312.4,527.9 L313.1,527.7 L313.8,526.8 L314.5,524.3 L315.2,524.7 L315.9,525.7 L316.6,522.9 L317.3,523.0 L318.0,524.6 L318.7,524.0 L319.4,523.1 L320.1,523.3 L320.8,523.0 L321.5,523.5 L322.2,526.2 L322.9,527.0 L323.6,527.3 L324.3,527.2 L325.0,527.4 L325.7,526.6 L326.4,524.7 L327.1,524.6 L327.8,525.6 L328.5,528.1 L329.2,530.0 L329.9,529.5 L330.6,528.7 L331.3,526.8 L332.0,525.6 L332.7,523.5 L333.4,521.5 L334.1,523.0 L334.8,522.9 L335.5,521.9 L336.2,521.1 L336.9,521.0 L337.6,520.6 L338.3,522.5 L339.0,524.4 L339.7,524.5 L340.4,523.9 L341.1,525.4 L341.8,525.3 L342.5,526.3 L343.2,528.2 L343.9,526.8 L344.6,525.3 L345.3,525.5 L346.0,524.4 L346.7,524.0 L347.4,524.8 L348.1,523.1 L348.8,521.2 L349.5,524.1 L350.2,524.1 L350.9,524.3 L351.6,524.4 L352.3,524.3 L353.0,524.1 L353.7,524.7 L354.4,526.2 L355.1,527.3 L355.8,528.4 L356.5,529.6 L357.2,528.5 L357.9,527.6 L358.6,526.1 L359.3,525.9 L360.0,526.0 L360.7,527.4 L361.4,529.0 L362.1,527.7 L362.8,526.0 L363.5,523.9 L364.2,523.2 L364.9,524.2 L365.6,525.5 L366.3,526.1 L367.0,526.3 L367.7,525.2 L368.4,524.0 L369.1,523.0 L369.8,523.3 L370.5,524.6 L371.2,524.9 L371.9,525.0 L372.6,526.2 L373.3,527.2 L374.0,526.9 L374.7,528.3 L375.4,528.5 L376.1,527.7 L376.8,528.9 L377.5,529.2 L378.2,529.9 L378.9,529.3 L379.6,527.6 L380.3,526.6 L381.0,526.9 L381.7,529.7 L382.4,529.6 L383.1,530.5 L383.8,531.4 L384.5,531.5 L385.2,531.0 L385.9,533.3 L386.6,534.0 L387.3,532.6 L388.0,531.5 L388.7,530.5 L389.4,531.9 L390.1,533.2 L390.8,534.1 L391.5,532.6 L392.2,534.1 L392.9,535.5 L393.6,537.6 L394.3,537.5 L395.0,536.6 L395.7,536.7 L396.4,538.7 L397.1,541.1 L397.8,538.0 L398.5,537.5 L399.2,539.7 L399.9,539.4 L400.6,538.8 L401.3,539.4 L402.0,538.5 L402.7,537.6 L403.4,540.3 L404.1,540.8 L404.8,541.7 L405.5,542.5 L406.2,543.4 L406.9,543.5 L407.6,543.1 L408.3,542.3 L409.0,544.6 L409.7,545.5 L410.4,545.8 L411.1,544.9 L411.8,544.0 L412.5,544.0 L413.2,544.0 L413.9,542.7 L414.6,541.6 L415.3,543.5 L416.0,545.0 L416.7,544.8 L417.4,543.5 L418.1,543.0 L418.8,545.2 L419.5,546.0 L420.2,544.5 L420.9,545.4 L421.6,545.7 L422.3,546.1 L423.0,547.1 L423.7,546.9 L424.4,548.4 L425.1,548.9 L425.8,549.2 L426.5,548.2 L427.2,548.3 L427.9,549.7 L428.6,549.4 L429.3,549.2 L430.0,548.8 L430.7,549.6 L431.4,549.8 L432.1,549.5 L432.8,548.9 L433.5,548.1 L434.2,549.1 L434.9,549.1 L435.6,549.5 L436.3,549.4 L437.0,546.1 L437.7,541.0 L438.4,538.5 L439.1,537.0 L439.8,535.0 L440.5,532.2 L441.2,530.7 L441.9,529.0 L442.6,527.7 L443.3,528.3 L444.0,529.5 L444.7,529.0 L445.4,526.9 L446.1,528.0 L446.8,530.2 L447.5,533.8 L448.2,535.6 L448.9,537.0 L449.6,536.5 L450.3,536.5 L451.0,536.5 L451.7,534.5 L452.4,534.4 L453.1,533.7 L453.8,533.8 L454.5,531.7 L455.2,529.5 L455.9,528.6 L456.6,529.1 L457.3,526.7 L458.0,527.1 L458.7,528.6 L459.4,530.4 L460.1,531.3 L460.8,531.0 L461.5,531.6 L462.2,532.0 L462.9,531.9 L463.6,533.0 L464.3,533.7 L465.0,532.8 L465.7,533.6 L466.4,533.5 L467.1,530.8 L467.8,529.8 L468.5,529.7 L469.2,530.8 L469.9,531.5 L470.6,529.1 L471.3,529.4 L472.0,529.4 L472.7,529.1 L473.4,528.8 L474.1,529.0 L474.8,529.5 L475.5,531.3 L476.2,534.2 L476.9,533.8 L477.6,533.8 L478.3,535.9 L479.0,536.1 L479.7,534.9 L480.4,533.9 L481.1,532.0 L481.8,530.9 L482.5,534.1 L483.2,536.0 L483.9,534.7 L484.6,534.2 L485.3,531.9 L486.0,529.7 L486.7,529.3 L487.4,529.6 L488.1,529.5 L488.8,530.0 L489.5,532.2 L490.2,533.0 L490.9,530.4 L491.6,528.8 L492.3,525.4 L493.0,524.2 L493.7,530.2 L494.4,531.9 L495.1,528.8 L495.8,528.6 L496.5,529.2 L497.2,530.6 L497.9,531.5 L498.6,532.6 L499.3,534.7 L500.0,532.0 L500.7,529.6 L501.4,531.9 L502.1,534.4 L502.8,536.8 L503.5,536.5 L504.2,534.9 L504.9,533.4 L505.6,534.8 L506.3,535.5 L507.0,535.3 L507.7,535.4 L508.4,535.9 L509.1,536.5 L509.8,536.4 L510.5,536.7 L511.2,536.2 L511.9,535.2 L512.6,534.9 L513.3,535.9 L514.0,535.8 L514.7,535.3 L515.4,534.4 L516.1,532.4 L516.8,528.3 L517.5,527.1 L518.2,527.6 L518.9,528.3 L519.6,527.0 L520.3,526.1 L521.0,526.6 L521.7,525.8 L522.4,526.6 L523.1,526.8 L523.8,527.9 L524.5,529.4 L525.2,529.6 L525.9,528.1 L526.6,528.5 L527.3,528.7 L528.0,528.8 L528.7,528.2 L529.4,526.5 L530.1,526.7 L530.8,526.2 L531.5,525.4 L532.2,525.5 L532.9,524.7 L533.6,524.9 L534.3,525.1 L535.0,525.9 L535.7,527.1 L536.4,528.7 L537.1,527.4 L537.8,526.4 L538.5,527.1 L539.2,528.1 L539.9,528.5 L540.6,530.4 L541.3,530.7 L542.0,528.7 L542.7,527.6 L543.4,529.2 L544.1,528.6 L544.8,527.1 L545.5,527.5 L546.2,526.7 L546.9,526.6 L547.6,526.0 L548.3,525.8 L549.0,527.5 L549.7,528.7 L550.4,528.9 L551.1,529.4 L551.8,529.3 L552.5,529.6 L553.2,531.2 L553.9,531.3 L554.6,531.1 L555.3,530.5 L556.0,532.2 L556.7,533.7 L557.4,533.2 L558.1,534.6 L558.8,537.5 L559.5,540.1 L560.2,542.5 L560.9,543.2 L561.6,545.0 L562.3,546.4 L563.0,546.7 L563.7,547.9 L564.4,550.1 L565.1,550.8 L565.8,550.2 L566.5,549.1 L567.2,548.2 L567.9,548.3 L568.6,549.4 L569.3,550.1 L570.0,550.6 L570.7,548.9 L571.4,549.5 L572.1,550.6 L572.8,550.0 L573.5,549.5 L574.2,549.6 L574.9,549.6 L575.6,549.5 L576.3,550.6 L577.0,548.8 L577.7,548.1 L578.4,550.3 L579.1,551.0 L579.8,552.6 L580.5,549.7 L581.2,549.8 L581.9,551.1 L582.6,549.8 L583.3,549.8 L584.0,551.8 L584.7,550.7 L585.4,548.9 L586.1,549.2 L586.8,547.7 L587.5,548.0 L588.2,549.5 L588.9,549.6 L589.6,547.7 L590.3,550.3 L591.0,551.9 L591.7,552.5 L592.4,552.1 L593.1,550.6 L593.8,549.6 L594.5,549.4 L595.2,551.1 L595.9,548.4 L596.6,549.0 L597.3,549.5 L598.0,549.2 L598.7,549.6 L599.4,550.4 L600.1,550.1 L600.8,550.3 L601.5,549.0 L602.2,548.6 L602.9,548.9 L603.6,549.8 L604.3,550.0 L605.0,551.3 L605.7,548.5 L606.4,548.7 L607.1,549.8 L607.8,548.9 L608.5,549.1 L609.2,548.8 L609.9,550.0 L610.6,550.4 L611.3,550.1 L612.0,549.7 L612.7,549.9 L613.4,548.7 L614.1,549.1 L614.8,549.2 L615.5,549.7 L616.2,548.5 L616.9,548.2 L617.6,548.3 L618.3,547.0 L619.0,545.2 L619.7,544.5 L620.4,542.6 L621.1,541.6 L621.8,541.2 L622.5,540.9 L623.2,540.3 L623.9,538.4 L624.6,534.5 L625.3,531.4 L626.0,529.2 L626.7,526.9 L627.4,526.0 L628.1,524.7 L628.8,526.0 L629.5,526.1 L630.2,525.8 L630.9,526.3 L631.6,528.3 L632.3,530.0 L633.0,529.6 L633.7,529.0 L634.4,528.4 L635.1,530.4 L635.8,533.7 L636.5,532.9 L637.2,532.8 L637.9,533.6 L638.6,529.3 L639.3,526.2 L640.0,524.2 L640.7,523.7 L641.4,525.8 L642.1,528.6 L642.8,527.0 L643.5,525.6 L644.2,523.9 L644.9,523.4 L645.6,522.5 L646.3,524.0 L647.0,524.8 L647.7,525.8 L648.4,526.7 L649.1,527.3 L649.8,529.6 L650.5,530.3 L651.2,530.4 L651.9,531.2 L652.6,529.8 L653.3,528.1 L654.0,525.7 L654.7,523.1 L655.4,524.7 L656.1,523.4 L656.8,523.9 L657.5,526.0 L658.2,525.7 L658.9,523.6 L659.6,521.2 L660.3,521.4 L661.0,524.6 L661.7,524.6 L662.4,524.1 L663.1,525.7 L663.8,525.8 L664.5,526.5 L665.2,528.7 L665.9,530.6 L666.6,533.1 L667.3,532.5 L668.0,530.7 L668.7,526.7 L669.4,525.8 L670.1,525.3 L670.8,524.6 L671.5,523.6 L672.2,522.8 L672.9,523.9 L673.6,523.7 L674.3,522.9 L675.0,523.9 L675.7,524.9 L676.4,525.0 L677.1,525.3 L677.8,524.3 L678.5,525.3 L679.2,526.1 L679.9,526.8 L680.6,528.0 L681.3,528.6 L682.0,528.3 L682.7,529.6 L683.4,528.6 L684.1,527.2 L684.8,526.0 L685.5,524.2 L686.2,522.8 L686.9,521.0 L687.6,519.9 L688.3,519.8 L689.0,519.6 L689.7,520.8 L690.4,522.7 L691.1,524.5 L691.8,525.4 L692.5,525.8 L693.2,525.8 L693.9,526.4 L694.6,527.7 L695.3,529.4 L696.0,529.1 L696.7,529.8 L697.4,530.6 L698.1,528.8 L698.8,528.2 L699.5,529.1 L700.2,531.0 L700.9,532.4 L701.6,532.9 L702.3,531.9 L703.0,532.0 L703.7,531.4 L704.4,532.1 L705.1,531.3 L705.8,533.8 L706.5,533.5 L707.2,532.7 L707.9,532.7 L708.6,533.1 L709.3,531.4 L710.0,532.0 L710.7,532.9 L711.4,534.5 L712.1,535.4 L712.8,536.6 L713.5,538.0 L714.2,538.4 L714.9,538.0 L715.6,538.3 L716.3,539.1 L717.0,539.3 L717.7,539.3 L718.4,539.0 L719.1,537.7 L719.8,537.9 L720.5,538.4 L721.2,536.8 L721.9,535.5 L722.6,535.2 L723.3,535.5 L724.0,536.0 L724.7,535.8 L725.4,536.4 L726.1,537.0 L726.8,534.3 L727.5,535.0 L728.2,538.6 L728.9,537.5 L729.6,536.3 L730.3,534.3 L731.0,534.4 L731.7,532.6 L732.4,528.9 L733.1,526.4 L733.8,525.4 L734.5,525.3 L735.2,525.7 L735.9,526.4 L736.6,526.7 L737.3,526.1 L738.0,525.7 L738.7,527.6 L739.4,528.9 L740.1,528.2 L740.8,526.8 L741.5,527.3 L742.2,527.5 L742.9,528.6 L743.6,529.2 L744.3,530.2 L745.0,529.3 L745.7,526.5 L746.4,524.5 L747.1,524.5 L747.8,522.8 L748.5,522.5 L749.2,521.2 L749.9,523.4 L750.6,524.5 L751.3,523.3 L752.0,524.9 L752.7,525.8 L753.4,527.7 L754.1,528.2 L754.8,526.7 L755.5,526.1 L756.2,525.9 L756.9,527.5 L757.6,528.9 L758.3,528.8 L759.0,528.2 L759.7,527.8 L760.4,527.6 L761.1,528.6 L761.8,527.4 L762.5,526.5 L763.2,526.3 L763.9,525.9 L764.6,525.4 L765.3,525.8 L766.0,525.5 L766.7,524.3 L767.4,523.6 L768.1,524.2 L768.8,525.2 L769.5,526.8 L770.2,527.7 L770.9,526.8 L771.6,528.0 L772.3,529.9 L773.0,530.5 L773.7,531.4 L774.4,531.7 L775.1,533.3 L775.8,531.3 L776.5,528.0 L777.2,527.1 L777.9,525.5 L778.6,524.1 L779.3,522.2 L780.0,522.3 L780.7,521.6 L781.4,523.2 L782.1,526.3 L782.8,525.8 L783.5,525.3 L784.2,524.7 L784.9,526.1 L785.6,527.6 L786.3,527.9 L787.0,527.1 L787.7,525.3 L788.4,525.1 L789.1,526.9 L789.8,530.6 L790.5,528.2 L791.2,526.7 L791.9,527.2 L792.6,525.4 L793.3,522.7 L794.0,523.6 L794.7,522.8 L795.4,522.7 L796.1,523.7 L796.8,524.5 L797.5,524.5 L798.2,526.0 L798.9,526.7 L799.6,527.0 L800.3,527.5 L801.0,527.5 L801.7,529.7 L802.4,531.2 L803.1,531.6 L803.8,531.8 L804.5,531.6 L805.2,529.5 L805.9,528.8 L806.6,529.0 L807.3,529.0 L808.0,530.7 L808.7,531.9 L809.4,532.1 L810.1,531.9 L810.8,532.5 L811.5,532.0 L812.2,532.0 L812.9,531.7 L813.6,532.4 L814.3,532.9 L815.0,533.1 L815.7,533.0 L816.4,531.4 L817.1,530.1 L817.8,530.7 L818.5,531.5 L819.2,532.5 L819.9,533.0 L820.6,534.1 L821.3,534.5 L822.0,534.6 L822.7,534.8 L823.4,535.2 L824.1,535.6 L824.8,534.9 L825.5,536.5 L826.2,538.1 L826.9,538.1 L827.6,538.4 L828.3,537.1 L829.0,537.2 L829.7,537.7 L830.4,536.1 L831.1,535.3 L831.8,534.4 L832.5,535.6 L833.2,537.0 L833.9,538.2 L834.6,535.8 L835.3,535.9 L836.0,535.3 L836.7,532.9 L837.4,530.6 L838.1,527.6 L838.8,527.2 L839.5,526.4 L840.2,525.7 L840.9,525.4 L841.6,524.9 L842.3,524.0 L843.0,525.0 L843.7,527.1 L844.4,527.3 L845.1,525.9 L845.8,526.9 L846.5,525.6 L847.2,526.4 L847.9,526.2 L848.6,526.0 L849.3,525.6 L850.0,528.7 L850.7,529.7 L851.4,528.8 L852.1,529.2 L852.8,528.5 L853.5,526.8 L854.2,525.6 L854.9,525.4 L855.6,525.9 L856.3,525.5 L857.0,525.7 L857.7,526.5 L858.4,526.6 L859.1,526.7 L859.8,527.8 L860.5,528.3 L861.2,527.2 L861.9,527.3 L862.6,527.4 L863.3,528.6 L864.0,529.9 L864.7,531.1 L865.4,532.0 L866.1,531.9 L866.8,530.9 L867.5,531.1 L868.2,530.3 L868.9,527.9 L869.6,525.8 L870.3,524.2 L871.0,521.6 L871.7,521.4 L872.4,523.3 L873.1,524.1 L873.8,524.0 L874.5,522.7 L875.2,524.3 L875.9,526.1 L876.6,526.9 L877.3,526.5 L878.0,526.6 L878.7,526.1 L879.4,528.1 L880.1,529.4 L880.8,529.4 L881.5,529.6 L882.2,529.2 L882.9,529.3 L883.6,530.7 L884.3,530.9 L885.0,526.6 L885.7,523.2 L886.4,522.6 L887.1,524.1 L887.8,525.5 L888.5,525.9 L889.2,524.9 L889.9,523.5 L890.6,524.9 L891.3,526.8 L892.0,527.0 L892.7,526.2 L893.4,526.0 L894.1,527.4 L894.8,527.8 L895.5,527.3 L896.2,526.8 L896.9,525.6 L897.6,524.2 L898.3,525.8 L899.0,527.9 L899.7,527.6 L900.4,527.8 L901.1,527.7 L901.8,526.5 L902.5,526.3 L903.2,526.2 L903.9,525.2 L904.6,526.0 L905.3,526.6 L906.0,526.2 L906.7,525.8 L907.4,527.2 L908.1,528.0 L908.8,528.5 L909.5,530.0 L910.2,528.9 L910.9,527.0 L911.6,526.5 L912.3,527.5 L913.0,529.7 L913.7,530.3 L914.4,530.9 L915.1,530.2 L915.8,529.9 L916.5,530.0 L917.2,530.6 L917.9,531.4 L918.6,531.6 L919.3,530.5 L920.0,530.5 L920.7,530.4 L921.4,532.8 L922.1,533.0 L922.8,530.8 L923.5,531.6 L924.2,532.0 L924.9,530.6 L925.6,531.9 L926.3,534.3 L927.0,533.9 L927.7,533.6 L928.4,533.9 L929.1,533.0 L929.8,533.4 L930.5,534.4 L931.2,534.9 L931.9,535.3 L932.6,536.3 L933.3,536.7 L934.0,536.2 L934.7,538.6 L935.4,539.1 L936.1,536.7 L936.8,539.3 L937.5,539.3 L938.2,536.0 L938.9,535.7 L939.6,536.6 L940.3,536.7 L941.0,536.8 L941.7,536.6 L942.4,536.5 L943.1,535.7 L943.8,536.2 L944.5,534.9 L945.2,533.3 L945.9,531.3 L946.6,528.8 L947.3,525.8 L948.0,524.1 L948.7,524.3 L949.4,525.7 L950.1,524.9 L950.8,525.0 L951.5,525.2 L952.2,525.7 L952.9,526.1 L953.6,526.4 L954.3,526.9 L955.0,527.1 L955.7,527.5 L956.4,528.0 L957.1,528.3 L957.8,528.4 L958.5,528.4 L959.2,527.2 L959.9,530.2 L960.6,531.7 L961.3,529.4 L962.0,526.5 L962.7,525.3 L963.4,525.4 L964.1,524.7 L964.8,524.2 L965.5,524.2 L966.2,524.5 L966.9,524.1 L967.6,525.7 L968.3,526.8 L969.0,526.3 L969.7,526.9 L970.4,526.7 L971.1,526.8 L971.8,527.1 L972.5,527.7 L973.2,527.7 L973.9,527.3 L974.6,528.4 L975.3,527.8 L976.0,527.9 L976.7,528.4 L977.4,525.8 L978.1,524.9 L978.8,525.0 L979.5,524.1 L980.2,524.1 L980.9,523.6 L981.6,524.1 L982.3,525.9 L983.0,525.6 L983.7,524.5 L984.4,524.7 L985.1,524.8 L985.8,525.8 L986.5,525.4 L987.2,526.4 L987.9,528.8 L988.6,528.8 L989.3,529.8 L990.0,530.9 L990.7,532.1 L991.4,530.4 L992.1,529.3 L992.8,528.3 L993.5,526.1 L994.2,524.5 L994.9,524.6 L995.6,524.2 L996.3,523.0 L997.0,524.5 L997.7,525.0 L998.4,526.1 L999.1,526.4 L999.8,527.2 L1000.5,527.4 L1001.2,527.9 L1001.9,528.1 L1002.6,527.7 L1003.3,527.4 L1004.0,528.5 L1004.7,528.2 L1005.4,528.7 L1006.1,529.4 L1006.8,530.9 L1007.5,529.7 L1008.2,529.1 L1008.9,526.9 L1009.6,524.2 L1010.3,523.2 L1011.0,524.0 L1011.7,524.7 L1012.4,525.5 L1013.1,527.0 L1013.8,527.0 L1014.5,528.2 L1015.2,528.6 L1015.9,528.1 L1016.6,529.2 L1017.3,530.3 L1018.0,530.3 L1018.7,531.0 L1019.4,532.8 L1019.6,291.7 Z"/></clipPath>
<clipPath id="belowB"><path d="M81.4,557.2 L81.4,535.9 L82.1,534.5 L82.8,533.4 L83.5,533.1 L84.2,531.0 L84.9,528.0 L85.6,526.3 L86.3,525.0 L87.0,524.1 L87.7,522.3 L88.4,521.6 L89.1,521.0 L89.8,521.4 L90.5,523.1 L91.2,523.3 L91.9,523.2 L92.6,524.2 L93.3,525.2 L94.0,526.6 L94.7,527.3 L95.4,528.3 L96.1,528.6 L96.8,527.4 L97.5,528.3 L98.2,528.9 L98.9,528.8 L99.6,527.0 L100.3,524.8 L101.0,524.8 L101.7,524.1 L102.4,523.8 L103.1,521.4 L103.8,521.9 L104.5,522.7 L105.2,520.6 L105.9,521.0 L106.6,521.4 L107.3,521.6 L108.0,522.3 L108.7,525.4 L109.4,526.1 L110.1,525.8 L110.8,526.3 L111.5,526.1 L112.2,526.0 L112.9,527.3 L113.6,529.3 L114.3,528.2 L115.0,528.1 L115.7,525.7 L116.4,525.5 L117.1,524.8 L117.8,523.1 L118.5,521.5 L119.2,521.2 L119.9,520.5 L120.6,519.5 L121.3,520.9 L122.0,523.2 L122.7,522.7 L123.4,522.5 L124.1,523.8 L124.8,523.5 L125.5,524.0 L126.2,526.7 L126.9,527.2 L127.6,526.5 L128.3,528.0 L129.0,526.4 L129.7,524.2 L130.4,523.8 L131.1,524.5 L131.8,522.8 L132.5,522.4 L133.2,522.2 L133.9,521.9 L134.6,521.2 L135.3,522.2 L136.0,522.5 L136.7,523.3 L137.4,522.6 L138.1,521.6 L138.8,522.4 L139.5,524.4 L140.2,523.8 L140.9,523.7 L141.6,523.7 L142.3,525.5 L143.0,529.1 L143.7,528.2 L144.4,528.4 L145.1,528.7 L145.8,530.6 L146.5,529.2 L147.2,525.9 L147.9,524.3 L148.6,522.2 L149.3,522.1 L150.0,523.6 L150.7,524.4 L151.4,523.6 L152.1,525.3 L152.8,525.8 L153.5,523.6 L154.2,522.4 L154.9,523.3 L155.6,525.9 L156.3,528.5 L157.0,529.1 L157.7,529.9 L158.4,529.9 L159.1,530.7 L159.8,530.6 L160.5,529.3 L161.2,529.9 L161.9,531.5 L162.6,532.3 L163.3,532.2 L164.0,531.2 L164.7,530.8 L165.4,529.6 L166.1,530.1 L166.8,533.2 L167.5,532.6 L168.2,530.6 L168.9,529.6 L169.6,531.0 L170.3,533.4 L171.0,532.4 L171.7,531.2 L172.4,531.8 L173.1,533.1 L173.8,533.9 L174.5,534.2 L175.2,533.3 L175.9,531.0 L176.6,532.5 L177.3,534.4 L178.0,534.7 L178.7,535.4 L179.4,536.5 L180.1,537.4 L180.8,536.6 L181.5,535.5 L182.2,537.6 L182.9,538.7 L183.6,538.5 L184.3,536.4 L185.0,535.0 L185.7,538.0 L186.4,538.3 L187.1,537.9 L187.8,537.5 L188.5,536.3 L189.2,535.8 L189.9,534.1 L190.6,533.2 L191.3,532.1 L192.0,532.8 L192.7,530.6 L193.4,525.0 L194.1,523.4 L194.8,525.0 L195.5,524.4 L196.2,523.2 L196.9,523.4 L197.6,525.7 L198.3,527.6 L199.0,528.3 L199.7,527.3 L200.4,526.1 L201.1,528.3 L201.8,528.9 L202.5,528.9 L203.2,527.5 L203.9,527.7 L204.6,528.8 L205.3,529.0 L206.0,529.9 L206.7,528.2 L207.4,527.3 L208.1,526.5 L208.8,525.8 L209.5,523.0 L210.2,522.7 L210.9,524.0 L211.6,523.8 L212.3,523.2 L213.0,523.7 L213.7,522.5 L214.4,522.1 L215.1,523.7 L215.8,525.7 L216.5,525.5 L217.2,528.1 L217.9,529.3 L218.6,531.0 L219.3,527.8 L220.0,524.9 L220.7,525.0 L221.4,526.8 L222.1,527.3 L222.8,526.8 L223.5,524.9 L224.2,525.8 L224.9,523.9 L225.6,522.1 L226.3,520.1 L227.0,520.6 L227.7,521.9 L228.4,521.0 L229.1,522.3 L229.8,524.5 L230.5,525.8 L231.2,525.9 L231.9,525.8 L232.6,525.0 L233.3,525.1 L234.0,523.4 L234.7,524.5 L235.4,527.6 L236.1,528.5 L236.8,528.4 L237.5,528.7 L238.2,530.4 L238.9,528.8 L239.6,526.8 L240.3,523.0 L241.0,519.3 L241.7,519.0 L242.4,520.5 L243.1,523.3 L243.8,524.1 L244.5,523.9 L245.2,525.3 L245.9,524.9 L246.6,524.8 L247.3,525.0 L248.0,524.5 L248.7,524.7 L249.4,525.2 L250.1,527.2 L250.8,530.1 L251.5,530.0 L252.2,528.5 L252.9,528.2 L253.6,527.5 L254.3,526.5 L255.0,522.6 L255.7,521.2 L256.4,522.1 L257.1,522.8 L257.8,523.8 L258.5,524.6 L259.2,525.1 L259.9,525.2 L260.6,526.2 L261.3,527.6 L262.0,528.8 L262.7,528.5 L263.4,528.7 L264.1,528.6 L264.8,529.2 L265.5,528.7 L266.2,525.4 L266.9,527.0 L267.6,528.3 L268.3,529.4 L269.0,530.4 L269.7,531.1 L270.4,532.6 L271.1,533.0 L271.8,533.1 L272.5,532.8 L273.2,532.6 L273.9,532.0 L274.6,533.0 L275.3,533.6 L276.0,532.1 L276.7,533.2 L277.4,533.7 L278.1,534.8 L278.8,534.1 L279.5,532.8 L280.2,532.7 L280.9,532.7 L281.6,533.3 L282.3,535.3 L283.0,536.0 L283.7,536.1 L284.4,535.0 L285.1,534.2 L285.8,536.2 L286.5,536.8 L287.2,536.4 L287.9,537.3 L288.6,536.8 L289.3,537.2 L290.0,536.9 L290.7,537.0 L291.4,537.3 L292.1,538.0 L292.8,538.3 L293.5,537.5 L294.2,538.2 L294.9,538.8 L295.6,537.8 L296.3,536.9 L297.0,536.0 L297.7,537.5 L298.4,537.8 L299.1,536.4 L299.8,534.7 L300.5,532.0 L301.2,528.7 L301.9,527.5 L302.6,527.1 L303.3,526.4 L304.0,525.5 L304.7,522.9 L305.4,524.2 L306.1,525.2 L306.8,524.1 L307.5,525.4 L308.2,525.8 L308.9,526.9 L309.6,527.6 L310.3,527.4 L311.0,525.4 L311.7,525.6 L312.4,527.9 L313.1,527.7 L313.8,526.8 L314.5,524.3 L315.2,524.7 L315.9,525.7 L316.6,522.9 L317.3,523.0 L318.0,524.6 L318.7,524.0 L319.4,523.1 L320.1,523.3 L320.8,523.0 L321.5,523.5 L322.2,526.2 L322.9,527.0 L323.6,527.3 L324.3,527.2 L325.0,527.4 L325.7,526.6 L326.4,524.7 L327.1,524.6 L327.8,525.6 L328.5,528.1 L329.2,530.0 L329.9,529.5 L330.6,528.7 L331.3,526.8 L332.0,525.6 L332.7,523.5 L333.4,521.5 L334.1,523.0 L334.8,522.9 L335.5,521.9 L336.2,521.1 L336.9,521.0 L337.6,520.6 L338.3,522.5 L339.0,524.4 L339.7,524.5 L340.4,523.9 L341.1,525.4 L341.8,525.3 L342.5,526.3 L343.2,528.2 L343.9,526.8 L344.6,525.3 L345.3,525.5 L346.0,524.4 L346.7,524.0 L347.4,524.8 L348.1,523.1 L348.8,521.2 L349.5,524.1 L350.2,524.1 L350.9,524.3 L351.6,524.4 L352.3,524.3 L353.0,524.1 L353.7,524.7 L354.4,526.2 L355.1,527.3 L355.8,528.4 L356.5,529.6 L357.2,528.5 L357.9,527.6 L358.6,526.1 L359.3,525.9 L360.0,526.0 L360.7,527.4 L361.4,529.0 L362.1,527.7 L362.8,526.0 L363.5,523.9 L364.2,523.2 L364.9,524.2 L365.6,525.5 L366.3,526.1 L367.0,526.3 L367.7,525.2 L368.4,524.0 L369.1,523.0 L369.8,523.3 L370.5,524.6 L371.2,524.9 L371.9,525.0 L372.6,526.2 L373.3,527.2 L374.0,526.9 L374.7,528.3 L375.4,528.5 L376.1,527.7 L376.8,528.9 L377.5,529.2 L378.2,529.9 L378.9,529.3 L379.6,527.6 L380.3,526.6 L381.0,526.9 L381.7,529.7 L382.4,529.6 L383.1,530.5 L383.8,531.4 L384.5,531.5 L385.2,531.0 L385.9,533.3 L386.6,534.0 L387.3,532.6 L388.0,531.5 L388.7,530.5 L389.4,531.9 L390.1,533.2 L390.8,534.1 L391.5,532.6 L392.2,534.1 L392.9,535.5 L393.6,537.6 L394.3,537.5 L395.0,536.6 L395.7,536.7 L396.4,538.7 L397.1,541.1 L397.8,538.0 L398.5,537.5 L399.2,539.7 L399.9,539.4 L400.6,538.8 L401.3,539.4 L402.0,538.5 L402.7,537.6 L403.4,540.3 L404.1,540.8 L404.8,541.7 L405.5,542.5 L406.2,543.4 L406.9,543.5 L407.6,543.1 L408.3,542.3 L409.0,544.6 L409.7,545.5 L410.4,545.8 L411.1,544.9 L411.8,544.0 L412.5,544.0 L413.2,544.0 L413.9,542.7 L414.6,541.6 L415.3,543.5 L416.0,545.0 L416.7,544.8 L417.4,543.5 L418.1,543.0 L418.8,545.2 L419.5,546.0 L420.2,544.5 L420.9,545.4 L421.6,545.7 L422.3,546.1 L423.0,547.1 L423.7,546.9 L424.4,548.4 L425.1,548.9 L425.8,549.2 L426.5,548.2 L427.2,548.3 L427.9,549.7 L428.6,549.4 L429.3,549.2 L430.0,548.8 L430.7,549.6 L431.4,549.8 L432.1,549.5 L432.8,548.9 L433.5,548.1 L434.2,549.1 L434.9,549.1 L435.6,549.5 L436.3,549.4 L437.0,546.1 L437.7,541.0 L438.4,538.5 L439.1,537.0 L439.8,535.0 L440.5,532.2 L441.2,530.7 L441.9,529.0 L442.6,527.7 L443.3,528.3 L444.0,529.5 L444.7,529.0 L445.4,526.9 L446.1,528.0 L446.8,530.2 L447.5,533.8 L448.2,535.6 L448.9,537.0 L449.6,536.5 L450.3,536.5 L451.0,536.5 L451.7,534.5 L452.4,534.4 L453.1,533.7 L453.8,533.8 L454.5,531.7 L455.2,529.5 L455.9,528.6 L456.6,529.1 L457.3,526.7 L458.0,527.1 L458.7,528.6 L459.4,530.4 L460.1,531.3 L460.8,531.0 L461.5,531.6 L462.2,532.0 L462.9,531.9 L463.6,533.0 L464.3,533.7 L465.0,532.8 L465.7,533.6 L466.4,533.5 L467.1,530.8 L467.8,529.8 L468.5,529.7 L469.2,530.8 L469.9,531.5 L470.6,529.1 L471.3,529.4 L472.0,529.4 L472.7,529.1 L473.4,528.8 L474.1,529.0 L474.8,529.5 L475.5,531.3 L476.2,534.2 L476.9,533.8 L477.6,533.8 L478.3,535.9 L479.0,536.1 L479.7,534.9 L480.4,533.9 L481.1,532.0 L481.8,530.9 L482.5,534.1 L483.2,536.0 L483.9,534.7 L484.6,534.2 L485.3,531.9 L486.0,529.7 L486.7,529.3 L487.4,529.6 L488.1,529.5 L488.8,530.0 L489.5,532.2 L490.2,533.0 L490.9,530.4 L491.6,528.8 L492.3,525.4 L493.0,524.2 L493.7,530.2 L494.4,531.9 L495.1,528.8 L495.8,528.6 L496.5,529.2 L497.2,530.6 L497.9,531.5 L498.6,532.6 L499.3,534.7 L500.0,532.0 L500.7,529.6 L501.4,531.9 L502.1,534.4 L502.8,536.8 L503.5,536.5 L504.2,534.9 L504.9,533.4 L505.6,534.8 L506.3,535.5 L507.0,535.3 L507.7,535.4 L508.4,535.9 L509.1,536.5 L509.8,536.4 L510.5,536.7 L511.2,536.2 L511.9,535.2 L512.6,534.9 L513.3,535.9 L514.0,535.8 L514.7,535.3 L515.4,534.4 L516.1,532.4 L516.8,528.3 L517.5,527.1 L518.2,527.6 L518.9,528.3 L519.6,527.0 L520.3,526.1 L521.0,526.6 L521.7,525.8 L522.4,526.6 L523.1,526.8 L523.8,527.9 L524.5,529.4 L525.2,529.6 L525.9,528.1 L526.6,528.5 L527.3,528.7 L528.0,528.8 L528.7,528.2 L529.4,526.5 L530.1,526.7 L530.8,526.2 L531.5,525.4 L532.2,525.5 L532.9,524.7 L533.6,524.9 L534.3,525.1 L535.0,525.9 L535.7,527.1 L536.4,528.7 L537.1,527.4 L537.8,526.4 L538.5,527.1 L539.2,528.1 L539.9,528.5 L540.6,530.4 L541.3,530.7 L542.0,528.7 L542.7,527.6 L543.4,529.2 L544.1,528.6 L544.8,527.1 L545.5,527.5 L546.2,526.7 L546.9,526.6 L547.6,526.0 L548.3,525.8 L549.0,527.5 L549.7,528.7 L550.4,528.9 L551.1,529.4 L551.8,529.3 L552.5,529.6 L553.2,531.2 L553.9,531.3 L554.6,531.1 L555.3,530.5 L556.0,532.2 L556.7,533.7 L557.4,533.2 L558.1,534.6 L558.8,537.5 L559.5,540.1 L560.2,542.5 L560.9,543.2 L561.6,545.0 L562.3,546.4 L563.0,546.7 L563.7,547.9 L564.4,550.1 L565.1,550.8 L565.8,550.2 L566.5,549.1 L567.2,548.2 L567.9,548.3 L568.6,549.4 L569.3,550.1 L570.0,550.6 L570.7,548.9 L571.4,549.5 L572.1,550.6 L572.8,550.0 L573.5,549.5 L574.2,549.6 L574.9,549.6 L575.6,549.5 L576.3,550.6 L577.0,548.8 L577.7,548.1 L578.4,550.3 L579.1,551.0 L579.8,552.6 L580.5,549.7 L581.2,549.8 L581.9,551.1 L582.6,549.8 L583.3,549.8 L584.0,551.8 L584.7,550.7 L585.4,548.9 L586.1,549.2 L586.8,547.7 L587.5,548.0 L588.2,549.5 L588.9,549.6 L589.6,547.7 L590.3,550.3 L591.0,551.9 L591.7,552.5 L592.4,552.1 L593.1,550.6 L593.8,549.6 L594.5,549.4 L595.2,551.1 L595.9,548.4 L596.6,549.0 L597.3,549.5 L598.0,549.2 L598.7,549.6 L599.4,550.4 L600.1,550.1 L600.8,550.3 L601.5,549.0 L602.2,548.6 L602.9,548.9 L603.6,549.8 L604.3,550.0 L605.0,551.3 L605.7,548.5 L606.4,548.7 L607.1,549.8 L607.8,548.9 L608.5,549.1 L609.2,548.8 L609.9,550.0 L610.6,550.4 L611.3,550.1 L612.0,549.7 L612.7,549.9 L613.4,548.7 L614.1,549.1 L614.8,549.2 L615.5,549.7 L616.2,548.5 L616.9,548.2 L617.6,548.3 L618.3,547.0 L619.0,545.2 L619.7,544.5 L620.4,542.6 L621.1,541.6 L621.8,541.2 L622.5,540.9 L623.2,540.3 L623.9,538.4 L624.6,534.5 L625.3,531.4 L626.0,529.2 L626.7,526.9 L627.4,526.0 L628.1,524.7 L628.8,526.0 L629.5,526.1 L630.2,525.8 L630.9,526.3 L631.6,528.3 L632.3,530.0 L633.0,529.6 L633.7,529.0 L634.4,528.4 L635.1,530.4 L635.8,533.7 L636.5,532.9 L637.2,532.8 L637.9,533.6 L638.6,529.3 L639.3,526.2 L640.0,524.2 L640.7,523.7 L641.4,525.8 L642.1,528.6 L642.8,527.0 L643.5,525.6 L644.2,523.9 L644.9,523.4 L645.6,522.5 L646.3,524.0 L647.0,524.8 L647.7,525.8 L648.4,526.7 L649.1,527.3 L649.8,529.6 L650.5,530.3 L651.2,530.4 L651.9,531.2 L652.6,529.8 L653.3,528.1 L654.0,525.7 L654.7,523.1 L655.4,524.7 L656.1,523.4 L656.8,523.9 L657.5,526.0 L658.2,525.7 L658.9,523.6 L659.6,521.2 L660.3,521.4 L661.0,524.6 L661.7,524.6 L662.4,524.1 L663.1,525.7 L663.8,525.8 L664.5,526.5 L665.2,528.7 L665.9,530.6 L666.6,533.1 L667.3,532.5 L668.0,530.7 L668.7,526.7 L669.4,525.8 L670.1,525.3 L670.8,524.6 L671.5,523.6 L672.2,522.8 L672.9,523.9 L673.6,523.7 L674.3,522.9 L675.0,523.9 L675.7,524.9 L676.4,525.0 L677.1,525.3 L677.8,524.3 L678.5,525.3 L679.2,526.1 L679.9,526.8 L680.6,528.0 L681.3,528.6 L682.0,528.3 L682.7,529.6 L683.4,528.6 L684.1,527.2 L684.8,526.0 L685.5,524.2 L686.2,522.8 L686.9,521.0 L687.6,519.9 L688.3,519.8 L689.0,519.6 L689.7,520.8 L690.4,522.7 L691.1,524.5 L691.8,525.4 L692.5,525.8 L693.2,525.8 L693.9,526.4 L694.6,527.7 L695.3,529.4 L696.0,529.1 L696.7,529.8 L697.4,530.6 L698.1,528.8 L698.8,528.2 L699.5,529.1 L700.2,531.0 L700.9,532.4 L701.6,532.9 L702.3,531.9 L703.0,532.0 L703.7,531.4 L704.4,532.1 L705.1,531.3 L705.8,533.8 L706.5,533.5 L707.2,532.7 L707.9,532.7 L708.6,533.1 L709.3,531.4 L710.0,532.0 L710.7,532.9 L711.4,534.5 L712.1,535.4 L712.8,536.6 L713.5,538.0 L714.2,538.4 L714.9,538.0 L715.6,538.3 L716.3,539.1 L717.0,539.3 L717.7,539.3 L718.4,539.0 L719.1,537.7 L719.8,537.9 L720.5,538.4 L721.2,536.8 L721.9,535.5 L722.6,535.2 L723.3,535.5 L724.0,536.0 L724.7,535.8 L725.4,536.4 L726.1,537.0 L726.8,534.3 L727.5,535.0 L728.2,538.6 L728.9,537.5 L729.6,536.3 L730.3,534.3 L731.0,534.4 L731.7,532.6 L732.4,528.9 L733.1,526.4 L733.8,525.4 L734.5,525.3 L735.2,525.7 L735.9,526.4 L736.6,526.7 L737.3,526.1 L738.0,525.7 L738.7,527.6 L739.4,528.9 L740.1,528.2 L740.8,526.8 L741.5,527.3 L742.2,527.5 L742.9,528.6 L743.6,529.2 L744.3,530.2 L745.0,529.3 L745.7,526.5 L746.4,524.5 L747.1,524.5 L747.8,522.8 L748.5,522.5 L749.2,521.2 L749.9,523.4 L750.6,524.5 L751.3,523.3 L752.0,524.9 L752.7,525.8 L753.4,527.7 L754.1,528.2 L754.8,526.7 L755.5,526.1 L756.2,525.9 L756.9,527.5 L757.6,528.9 L758.3,528.8 L759.0,528.2 L759.7,527.8 L760.4,527.6 L761.1,528.6 L761.8,527.4 L762.5,526.5 L763.2,526.3 L763.9,525.9 L764.6,525.4 L765.3,525.8 L766.0,525.5 L766.7,524.3 L767.4,523.6 L768.1,524.2 L768.8,525.2 L769.5,526.8 L770.2,527.7 L770.9,526.8 L771.6,528.0 L772.3,529.9 L773.0,530.5 L773.7,531.4 L774.4,531.7 L775.1,533.3 L775.8,531.3 L776.5,528.0 L777.2,527.1 L777.9,525.5 L778.6,524.1 L779.3,522.2 L780.0,522.3 L780.7,521.6 L781.4,523.2 L782.1,526.3 L782.8,525.8 L783.5,525.3 L784.2,524.7 L784.9,526.1 L785.6,527.6 L786.3,527.9 L787.0,527.1 L787.7,525.3 L788.4,525.1 L789.1,526.9 L789.8,530.6 L790.5,528.2 L791.2,526.7 L791.9,527.2 L792.6,525.4 L793.3,522.7 L794.0,523.6 L794.7,522.8 L795.4,522.7 L796.1,523.7 L796.8,524.5 L797.5,524.5 L798.2,526.0 L798.9,526.7 L799.6,527.0 L800.3,527.5 L801.0,527.5 L801.7,529.7 L802.4,531.2 L803.1,531.6 L803.8,531.8 L804.5,531.6 L805.2,529.5 L805.9,528.8 L806.6,529.0 L807.3,529.0 L808.0,530.7 L808.7,531.9 L809.4,532.1 L810.1,531.9 L810.8,532.5 L811.5,532.0 L812.2,532.0 L812.9,531.7 L813.6,532.4 L814.3,532.9 L815.0,533.1 L815.7,533.0 L816.4,531.4 L817.1,530.1 L817.8,530.7 L818.5,531.5 L819.2,532.5 L819.9,533.0 L820.6,534.1 L821.3,534.5 L822.0,534.6 L822.7,534.8 L823.4,535.2 L824.1,535.6 L824.8,534.9 L825.5,536.5 L826.2,538.1 L826.9,538.1 L827.6,538.4 L828.3,537.1 L829.0,537.2 L829.7,537.7 L830.4,536.1 L831.1,535.3 L831.8,534.4 L832.5,535.6 L833.2,537.0 L833.9,538.2 L834.6,535.8 L835.3,535.9 L836.0,535.3 L836.7,532.9 L837.4,530.6 L838.1,527.6 L838.8,527.2 L839.5,526.4 L840.2,525.7 L840.9,525.4 L841.6,524.9 L842.3,524.0 L843.0,525.0 L843.7,527.1 L844.4,527.3 L845.1,525.9 L845.8,526.9 L846.5,525.6 L847.2,526.4 L847.9,526.2 L848.6,526.0 L849.3,525.6 L850.0,528.7 L850.7,529.7 L851.4,528.8 L852.1,529.2 L852.8,528.5 L853.5,526.8 L854.2,525.6 L854.9,525.4 L855.6,525.9 L856.3,525.5 L857.0,525.7 L857.7,526.5 L858.4,526.6 L859.1,526.7 L859.8,527.8 L860.5,528.3 L861.2,527.2 L861.9,527.3 L862.6,527.4 L863.3,528.6 L864.0,529.9 L864.7,531.1 L865.4,532.0 L866.1,531.9 L866.8,530.9 L867.5,531.1 L868.2,530.3 L868.9,527.9 L869.6,525.8 L870.3,524.2 L871.0,521.6 L871.7,521.4 L872.4,523.3 L873.1,524.1 L873.8,524.0 L874.5,522.7 L875.2,524.3 L875.9,526.1 L876.6,526.9 L877.3,526.5 L878.0,526.6 L878.7,526.1 L879.4,528.1 L880.1,529.4 L880.8,529.4 L881.5,529.6 L882.2,529.2 L882.9,529.3 L883.6,530.7 L884.3,530.9 L885.0,526.6 L885.7,523.2 L886.4,522.6 L887.1,524.1 L887.8,525.5 L888.5,525.9 L889.2,524.9 L889.9,523.5 L890.6,524.9 L891.3,526.8 L892.0,527.0 L892.7,526.2 L893.4,526.0 L894.1,527.4 L894.8,527.8 L895.5,527.3 L896.2,526.8 L896.9,525.6 L897.6,524.2 L898.3,525.8 L899.0,527.9 L899.7,527.6 L900.4,527.8 L901.1,527.7 L901.8,526.5 L902.5,526.3 L903.2,526.2 L903.9,525.2 L904.6,526.0 L905.3,526.6 L906.0,526.2 L906.7,525.8 L907.4,527.2 L908.1,528.0 L908.8,528.5 L909.5,530.0 L910.2,528.9 L910.9,527.0 L911.6,526.5 L912.3,527.5 L913.0,529.7 L913.7,530.3 L914.4,530.9 L915.1,530.2 L915.8,529.9 L916.5,530.0 L917.2,530.6 L917.9,531.4 L918.6,531.6 L919.3,530.5 L920.0,530.5 L920.7,530.4 L921.4,532.8 L922.1,533.0 L922.8,530.8 L923.5,531.6 L924.2,532.0 L924.9,530.6 L925.6,531.9 L926.3,534.3 L927.0,533.9 L927.7,533.6 L928.4,533.9 L929.1,533.0 L929.8,533.4 L930.5,534.4 L931.2,534.9 L931.9,535.3 L932.6,536.3 L933.3,536.7 L934.0,536.2 L934.7,538.6 L935.4,539.1 L936.1,536.7 L936.8,539.3 L937.5,539.3 L938.2,536.0 L938.9,535.7 L939.6,536.6 L940.3,536.7 L941.0,536.8 L941.7,536.6 L942.4,536.5 L943.1,535.7 L943.8,536.2 L944.5,534.9 L945.2,533.3 L945.9,531.3 L946.6,528.8 L947.3,525.8 L948.0,524.1 L948.7,524.3 L949.4,525.7 L950.1,524.9 L950.8,525.0 L951.5,525.2 L952.2,525.7 L952.9,526.1 L953.6,526.4 L954.3,526.9 L955.0,527.1 L955.7,527.5 L956.4,528.0 L957.1,528.3 L957.8,528.4 L958.5,528.4 L959.2,527.2 L959.9,530.2 L960.6,531.7 L961.3,529.4 L962.0,526.5 L962.7,525.3 L963.4,525.4 L964.1,524.7 L964.8,524.2 L965.5,524.2 L966.2,524.5 L966.9,524.1 L967.6,525.7 L968.3,526.8 L969.0,526.3 L969.7,526.9 L970.4,526.7 L971.1,526.8 L971.8,527.1 L972.5,527.7 L973.2,527.7 L973.9,527.3 L974.6,528.4 L975.3,527.8 L976.0,527.9 L976.7,528.4 L977.4,525.8 L978.1,524.9 L978.8,525.0 L979.5,524.1 L980.2,524.1 L980.9,523.6 L981.6,524.1 L982.3,525.9 L983.0,525.6 L983.7,524.5 L984.4,524.7 L985.1,524.8 L985.8,525.8 L986.5,525.4 L987.2,526.4 L987.9,528.8 L988.6,528.8 L989.3,529.8 L990.0,530.9 L990.7,532.1 L991.4,530.4 L992.1,529.3 L992.8,528.3 L993.5,526.1 L994.2,524.5 L994.9,524.6 L995.6,524.2 L996.3,523.0 L997.0,524.5 L997.7,525.0 L998.4,526.1 L999.1,526.4 L999.8,527.2 L1000.5,527.4 L1001.2,527.9 L1001.9,528.1 L1002.6,527.7 L1003.3,527.4 L1004.0,528.5 L1004.7,528.2 L1005.4,528.7 L1006.1,529.4 L1006.8,530.9 L1007.5,529.7 L1008.2,529.1 L1008.9,526.9 L1009.6,524.2 L1010.3,523.2 L1011.0,524.0 L1011.7,524.7 L1012.4,525.5 L1013.1,527.0 L1013.8,527.0 L1014.5,528.2 L1015.2,528.6 L1015.9,528.1 L1016.6,529.2 L1017.3,530.3 L1018.0,530.3 L1018.7,531.0 L1019.4,532.8 L1019.6,557.2 Z"/></clipPath>
</defs>
<g clip-path="url(#aboveA)" fill="#00ffff">
<rect x="109.8" y="16.5" width="2.0" height="259.9"/>
<rect x="111.3" y="10.0" width="5.1" height="266.4"/>
<rect x="157.6" y="10.0" width="6.3" height="266.4"/>
<rect x="260.0" y="10.0" width="2.0" height="266.4"/>
<rect x="263.6" y="10.0" width="17.6" height="266.4"/>
<rect x="280.7" y="127.2" width="2.8" height="149.2"/>
<rect x="308.6" y="10.0" width="6.0" height="266.4"/>
<rect x="316.0" y="28.6" width="2.0" height="247.8"/>
<rect x="339.5" y="66.7" width="3.0" height="209.7"/>
<rect x="350.3" y="10.0" width="26.2" height="266.4"/>
<rect x="376.0" y="21.0" width="1.7" height="255.4"/>
<rect x="377.2" y="35.0" width="1.3" height="241.4"/>
<rect x="385.6" y="26.0" width="1.6" height="250.4"/>
<rect x="391.0" y="128.0" width="2.0" height="148.4"/>
<rect x="397.5" y="10.0" width="21.6" height="266.4"/>
<rect x="418.6" y="143.0" width="2.3" height="133.4"/>
<rect x="420.4" y="83.0" width="1.9" height="193.4"/>
<rect x="422.6" y="140.0" width="1.9" height="136.4"/>
<rect x="424.0" y="100.0" width="1.7" height="176.4"/>
<rect x="425.2" y="128.0" width="1.7" height="148.4"/>
<rect x="426.4" y="105.0" width="1.0" height="171.4"/>
<rect x="427.8" y="140.0" width="0.7" height="136.4"/>
<rect x="428.0" y="10.0" width="2.8" height="266.4"/>
<rect x="430.3" y="45.0" width="1.4" height="231.4"/>
<rect x="431.2" y="89.0" width="2.5" height="187.4"/>
<rect x="433.2" y="41.0" width="2.8" height="235.4"/>
<rect x="448.4" y="10.0" width="3.3" height="266.4"/>
<rect x="451.2" y="47.0" width="2.0" height="229.4"/>
<rect x="463.3" y="111.0" width="2.8" height="165.4"/>
<rect x="559.5" y="82.0" width="1.7" height="194.4"/>
<rect x="560.7" y="10.0" width="2.5" height="266.4"/>
<rect x="564.5" y="160.0" width="3.0" height="116.4"/>
<rect x="567.0" y="120.0" width="2.5" height="156.4"/>
<rect x="569.0" y="158.0" width="1.8" height="118.4"/>
<rect x="570.3" y="100.0" width="1.7" height="176.4"/>
<rect x="571.5" y="158.0" width="2.2" height="118.4"/>
<rect x="573.2" y="120.0" width="2.3" height="156.4"/>
<rect x="575.0" y="152.0" width="2.8" height="124.4"/>
<rect x="577.3" y="85.8" width="1.5" height="190.6"/>
<rect x="578.3" y="51.0" width="1.6" height="225.4"/>
<rect x="579.4" y="72.0" width="2.1" height="204.4"/>
<rect x="581.0" y="40.0" width="1.7" height="236.4"/>
<rect x="582.2" y="62.0" width="2.0" height="214.4"/>
<rect x="583.7" y="20.0" width="2.0" height="256.4"/>
<rect x="585.2" y="10.0" width="2.0" height="266.4"/>
<rect x="586.7" y="75.0" width="2.6" height="201.4"/>
<rect x="588.8" y="116.0" width="2.1" height="160.4"/>
<rect x="590.4" y="135.0" width="1.4" height="141.4"/>
<rect x="591.3" y="150.0" width="1.2" height="126.4"/>
<rect x="597.0" y="140.0" width="2.5" height="136.4"/>
<rect x="599.0" y="130.0" width="1.0" height="146.4"/>
<rect x="599.5" y="87.0" width="2.5" height="189.4"/>
<rect x="601.5" y="64.0" width="2.0" height="212.4"/>
<rect x="603.0" y="10.0" width="3.2" height="266.4"/>
<rect x="605.7" y="66.0" width="2.4" height="210.4"/>
<rect x="607.6" y="10.0" width="14.9" height="266.4"/>
<rect x="622.0" y="29.0" width="2.0" height="247.4"/>
<rect x="623.5" y="19.6" width="1.5" height="256.8"/>
<rect x="632.6" y="117.6" width="3.2" height="158.8"/>
<rect x="645.2" y="10.0" width="14.1" height="266.4"/>
<rect x="659.9" y="10.0" width="16.7" height="266.4"/>
<rect x="679.0" y="25.0" width="2.5" height="251.4"/>
<rect x="681.0" y="10.0" width="6.3" height="266.4"/>
<rect x="687.9" y="10.0" width="27.6" height="266.4"/>
<rect x="715.0" y="53.0" width="3.2" height="223.4"/>
<rect x="717.7" y="10.0" width="2.1" height="266.4"/>
<rect x="720.3" y="10.0" width="7.3" height="266.4"/>
<rect x="741.8" y="10.0" width="11.0" height="266.4"/>
<rect x="753.3" y="10.0" width="6.5" height="266.4"/>
<rect x="760.3" y="10.0" width="3.6" height="266.4"/>
<rect x="772.5" y="61.0" width="2.5" height="215.4"/>
<rect x="774.5" y="45.0" width="2.7" height="231.4"/>
<rect x="776.7" y="10.0" width="7.5" height="266.4"/>
<rect x="783.7" y="39.0" width="0.9" height="237.4"/>
<rect x="786.2" y="107.0" width="1.5" height="169.4"/>
<rect x="793.0" y="65.0" width="1.5" height="211.4"/>
<rect x="818.2" y="119.6" width="1.6" height="156.8"/>
<rect x="822.5" y="130.3" width="1.2" height="146.1"/>
<rect x="874.4" y="10.0" width="4.7" height="266.4"/>
<rect x="880.6" y="10.0" width="5.9" height="266.4"/>
<rect x="890.4" y="10.0" width="13.1" height="266.4"/>
<rect x="906.0" y="10.0" width="7.8" height="266.4"/>
<rect x="923.7" y="106.0" width="1.4" height="170.4"/>
<rect x="935.3" y="120.5" width="2.1" height="155.9"/>
<rect x="936.9" y="10.0" width="1.5" height="266.4"/>
<rect x="938.9" y="10.0" width="3.3" height="266.4"/>
<rect x="944.1" y="10.0" width="35.7" height="266.4"/>
<rect x="990.4" y="10.0" width="2.5" height="266.4"/>
<rect x="1012.0" y="10.0" width="1.6" height="266.4"/>
<rect x="1014.0" y="10.0" width="2.5" height="266.4"/>
<rect x="1016.0" y="18.0" width="1.5" height="258.4"/>
<rect x="1017.0" y="10.0" width="1.8" height="266.4"/>
</g>
<g clip-path="url(#belowA)" fill="#0000ff">
<rect x="109.8" y="10.0" width="6.6" height="266.4"/>
<rect x="156.1" y="10.0" width="7.8" height="266.4"/>
<rect x="260.0" y="10.0" width="23.2" height="266.4"/>
<rect x="308.5" y="10.0" width="6.2" height="266.4"/>
<rect x="315.9" y="10.0" width="2.1" height="266.4"/>
<rect x="339.6" y="10.0" width="3.1" height="266.4"/>
<rect x="350.3" y="10.0" width="29.3" height="266.4"/>
<rect x="385.4" y="10.0" width="1.5" height="266.4"/>
<rect x="391.0" y="10.0" width="4.5" height="266.4"/>
<rect x="396.0" y="10.0" width="40.6" height="266.4"/>
<rect x="447.0" y="10.0" width="7.0" height="266.4"/>
<rect x="463.3" y="10.0" width="2.8" height="266.4"/>
<rect x="558.0" y="10.0" width="36.3" height="266.4"/>
<rect x="597.0" y="10.0" width="28.5" height="266.4"/>
<rect x="632.8" y="10.0" width="2.9" height="266.4"/>
<rect x="645.1" y="10.0" width="32.9" height="266.4"/>
<rect x="678.6" y="10.0" width="49.1" height="266.4"/>
<rect x="741.9" y="10.0" width="21.9" height="266.4"/>
<rect x="772.6" y="10.0" width="12.8" height="266.4"/>
<rect x="786.2" y="10.0" width="1.5" height="266.4"/>
<rect x="792.2" y="10.0" width="2.6" height="266.4"/>
<rect x="795.2" y="10.0" width="3.3" height="266.4"/>
<rect x="818.2" y="10.0" width="1.6" height="266.4"/>
<rect x="821.9" y="10.0" width="3.9" height="266.4"/>
<rect x="869.2" y="10.0" width="1.7" height="266.4"/>
<rect x="873.7" y="10.0" width="5.5" height="266.4"/>
<rect x="880.5" y="10.0" width="6.1" height="266.4"/>
<rect x="889.8" y="10.0" width="14.8" height="266.4"/>
<rect x="905.6" y="10.0" width="8.3" height="266.4"/>
<rect x="923.7" y="10.0" width="1.4" height="266.4"/>
<rect x="934.2" y="10.0" width="8.1" height="266.4"/>
<rect x="942.7" y="10.0" width="37.1" height="266.4"/>
<rect x="990.2" y="10.0" width="2.7" height="266.4"/>
<rect x="1012.0" y="10.0" width="6.7" height="266.4"/>
</g>
<g clip-path="url(#aboveB)" fill="#00ffff" stroke="#00ffff" stroke-width="0.5" stroke-linejoin="miter">
<path d="M96.5,557.2 L97.0,517.2 L98.5,517.2 L99.0,557.2 Z"/>
<path d="M109.8,557.2 L110.1,461.3 L111.6,461.3 L111.8,397.7 L113.1,390.2 L114.1,367.7 L115.1,375.2 L115.8,390.2 L116.3,432.5 L116.8,480.1 L117.3,557.2 Z"/>
<path d="M126.9,557.2 L127.4,517.7 L128.1,517.7 L128.6,557.2 Z"/>
<path d="M154.2,557.2 L154.4,512.7 L155.7,505.2 L156.7,492.6 L157.4,455.1 L157.7,425.3 L158.7,422.8 L159.9,406.5 L161.2,407.7 L161.7,425.3 L162.4,409.7 L163.2,410.2 L163.7,437.5 L164.2,530.2 L164.2,557.2 Z"/>
<path d="M208.3,557.2 L208.8,497.6 L209.8,497.6 L210.0,557.2 Z"/>
<path d="M217.8,557.2 L218.3,497.6 L219.3,498.9 L220.3,505.2 L221.3,517.7 L221.8,557.2 Z"/>
<path d="M247.3,557.2 L247.8,502.6 L248.8,503.9 L249.8,515.2 L250.3,557.2 Z"/>
<path d="M258.9,557.2 L259.4,512.7 L260.1,505.2 L260.4,458.8 L261.6,458.8 L261.9,492.6 L262.9,475.1 L263.9,445.0 L264.1,430.3 L264.6,390.2 L265.1,380.2 L265.9,390.2 L266.9,412.7 L267.6,402.7 L268.4,390.2 L269.4,365.2 L270.1,352.6 L270.9,327.6 L271.4,310.0 L272.4,302.5 L273.4,298.8 L274.4,298.8 L275.1,300.5 L276.4,305.0 L277.2,352.6 L277.9,415.3 L278.4,447.5 L279.4,460.1 L280.9,480.1 L282.4,502.6 L283.4,502.6 L283.9,512.7 L285.2,530.2 L286.9,557.2 Z"/>
<path d="M304.0,557.2 L304.5,517.7 L306.0,515.2 L307.7,512.7 L309.0,505.2 L309.7,480.1 L310.2,430.0 L310.7,425.3 L311.5,400.2 L312.2,407.7 L313.0,425.3 L313.5,432.5 L314.0,492.6 L315.2,515.2 L316.5,517.7 L316.7,466.3 L318.0,466.3 L318.2,557.2 Z"/>
<path d="M326.5,557.2 L327.0,500.1 L328.0,500.1 L328.5,557.2 Z"/>
<path d="M339.3,557.2 L339.8,495.1 L340.5,480.1 L341.5,482.6 L342.3,505.2 L342.8,557.2 Z"/>
<path d="M350.3,557.2 L350.3,447.1 L350.8,365.2 L351.8,315.1 L352.6,306.3 L353.3,327.6 L354.1,372.7 L355.3,397.7 L356.3,357.6 L358.1,342.6 L359.3,350.1 L360.6,367.7 L361.6,315.1 L362.6,303.8 L363.6,312.5 L364.8,305.0 L366.1,301.3 L367.6,298.3 L368.6,312.5 L369.8,335.1 L370.6,372.7 L371.6,355.1 L372.6,355.1 L373.1,390.2 L373.6,420.3 L374.8,420.3 L375.3,430.0 L376.1,450.0 L377.4,462.6 L378.6,467.6 L379.6,492.6 L380.6,557.2 Z"/>
<path d="M385.1,557.2 L385.6,465.1 L386.6,465.1 L387.1,557.2 Z"/>
<path d="M389.9,557.2 L390.6,505.2 L391.6,502.6 L392.6,505.2 L393.1,517.7 L394.1,515.2 L395.6,516.4 L397.1,515.2 L397.9,480.1 L398.1,430.0 L398.6,325.1 L399.6,321.3 L400.4,340.1 L401.2,425.3 L402.2,425.3 L402.7,365.2 L403.7,362.6 L404.4,395.2 L405.2,420.3 L406.2,400.2 L407.2,402.7 L408.2,440.3 L408.9,390.2 L409.9,383.9 L410.9,387.7 L411.7,372.7 L412.2,320.1 L412.9,320.1 L413.4,390.2 L414.4,382.7 L415.7,381.4 L416.7,385.2 L417.2,420.3 L418.2,421.5 L418.7,430.0 L419.2,467.6 L420.2,495.1 L420.9,505.2 L421.2,486.4 L421.7,486.4 L422.2,505.2 L423.7,502.6 L424.9,497.6 L426.2,492.6 L427.5,500.1 L428.2,480.1 L428.2,447.1 L428.5,412.7 L429.5,412.7 L429.7,447.1 L429.7,430.0 L430.2,480.1 L431.2,492.6 L432.5,487.6 L433.7,495.1 L434.2,471.3 L435.2,471.3 L435.7,505.2 L436.7,530.2 L437.7,557.2 Z"/>
<path d="M446.2,557.2 L447.0,517.7 L448.0,492.6 L448.7,467.6 L449.5,452.5 L450.2,467.6 L451.3,475.1 L452.3,492.6 L453.3,505.2 L454.3,557.2 Z"/>
<path d="M455.5,557.2 L456.0,517.7 L456.8,516.4 L458.3,520.2 L459.0,557.2 Z"/>
<path d="M460.0,557.2 L460.5,518.9 L462.0,517.7 L462.8,557.2 Z"/>
<path d="M463.8,557.2 L464.0,505.2 L464.8,496.4 L465.8,496.4 L466.3,557.2 Z"/>
<path d="M481.8,557.2 L482.3,512.7 L483.3,512.7 L483.8,557.2 Z"/>
<path d="M528.9,557.2 L529.4,516.4 L530.9,513.9 L532.4,516.4 L533.4,525.2 L533.9,496.4 L535.2,496.4 L535.7,557.2 Z"/>
<path d="M550.9,557.2 L551.5,516.4 L553.5,515.2 L555.0,517.7 L556.0,525.2 L557.5,517.7 L558.5,505.2 L559.7,492.6 L561.0,475.1 L561.5,458.8 L562.5,458.8 L563.0,492.6 L564.0,525.2 L565.2,535.2 L566.5,525.2 L567.2,500.1 L568.2,497.6 L569.2,505.2 L570.2,492.6 L571.0,500.1 L572.0,512.7 L573.2,501.4 L574.5,500.1 L575.7,505.2 L576.0,476.3 L577.3,475.1 L578.5,480.1 L579.8,471.3 L581.5,470.1 L583.0,480.1 L584.3,462.6 L585.5,457.6 L586.5,458.8 L587.5,480.1 L589.0,492.6 L590.5,512.7 L591.8,530.2 L593.0,542.7 L594.8,545.2 L596.5,542.7 L597.5,510.2 L599.0,505.2 L600.0,487.6 L601.6,485.1 L602.6,495.1 L603.3,455.1 L603.6,437.5 L603.8,436.5 L604.8,436.5 L605.1,437.5 L605.6,460.1 L606.6,455.1 L608.1,455.1 L608.6,430.0 L608.8,425.3 L609.8,415.3 L610.6,365.2 L611.6,340.1 L612.6,317.6 L613.6,307.5 L614.1,304.5 L614.8,320.1 L615.6,333.8 L616.6,335.1 L617.3,346.4 L618.1,345.6 L618.6,365.2 L619.3,390.2 L620.1,394.0 L620.6,420.3 L621.1,430.0 L621.8,450.0 L622.8,457.6 L623.8,462.6 L624.6,480.1 L625.3,517.7 L625.8,557.2 Z"/>
<path d="M629.4,557.2 L629.9,510.2 L631.6,510.2 L632.6,517.7 L633.4,498.9 L635.1,498.9 L635.6,517.7 L636.4,557.2 Z"/>
<path d="M644.1,557.2 L644.6,505.2 L645.1,455.1 L645.6,430.0 L646.6,430.3 L647.4,390.2 L648.1,365.2 L648.9,323.8 L649.9,322.6 L650.6,340.1 L651.2,323.8 L652.2,322.6 L652.9,337.6 L653.9,338.8 L654.7,352.6 L655.4,320.1 L656.2,302.5 L656.9,303.8 L657.4,365.2 L658.2,402.7 L658.7,430.3 L659.4,440.3 L659.7,505.2 L660.2,505.2 L660.4,440.3 L661.2,390.2 L661.7,351.4 L662.9,355.1 L663.7,340.1 L664.7,335.1 L665.7,318.8 L666.7,317.6 L667.4,305.0 L668.2,298.0 L668.9,308.8 L669.9,307.5 L670.7,313.8 L671.4,306.3 L672.4,305.0 L673.2,315.1 L673.7,325.1 L674.4,352.6 L674.9,375.2 L675.4,415.3 L675.9,440.3 L676.2,437.5 L677.2,467.6 L678.0,495.1 L678.2,557.2 L678.7,557.2 L679.0,492.6 L680.0,455.1 L680.7,430.0 L681.2,390.2 L682.0,340.1 L682.5,312.5 L683.2,313.8 L684.0,300.0 L684.7,301.3 L685.2,342.6 L686.0,360.1 L687.0,361.4 L687.5,447.1 L687.5,480.1 L688.0,480.1 L688.0,447.1 L688.2,315.1 L688.7,297.5 L690.0,298.0 L690.5,340.1 L690.7,447.1 L690.7,455.1 L691.2,455.1 L691.2,447.1 L691.5,335.1 L692.5,320.1 L693.2,322.6 L694.2,307.5 L695.0,302.5 L696.2,305.0 L697.5,303.8 L698.2,301.3 L699.2,299.5 L700.0,305.0 L700.7,327.6 L701.3,340.1 L702.3,350.1 L703.3,352.6 L704.0,355.1 L704.3,447.1 L704.3,467.6 L704.8,467.6 L704.8,447.1 L705.0,315.1 L705.8,298.3 L706.5,300.0 L706.8,447.1 L706.8,455.1 L707.3,455.1 L707.3,447.1 L707.5,310.0 L708.3,305.0 L709.3,307.5 L710.0,307.5 L710.8,312.5 L711.5,307.5 L712.3,327.6 L712.8,355.1 L713.8,356.4 L714.5,358.9 L715.0,430.0 L715.8,445.0 L716.8,455.1 L717.8,445.0 L718.0,430.0 L718.3,447.1 L718.5,415.3 L719.5,415.3 L719.8,447.1 L720.0,430.0 L720.5,450.0 L721.0,430.0 L721.3,447.1 L721.8,382.7 L722.3,315.1 L722.8,297.5 L723.8,297.0 L724.8,296.3 L725.5,295.0 L726.3,305.0 L726.8,327.6 L727.3,342.6 L727.6,390.2 L727.8,557.2 Z"/>
<path d="M741.3,557.2 L741.3,447.1 L741.6,340.1 L742.1,306.3 L742.8,307.5 L743.3,337.6 L744.3,336.3 L745.1,352.6 L745.8,365.2 L746.3,362.6 L747.3,361.4 L748.1,372.7 L748.8,383.9 L749.6,385.2 L750.1,420.3 L750.8,430.3 L751.4,435.3 L752.1,445.0 L752.9,460.1 L753.4,445.0 L753.6,447.1 L753.9,410.2 L754.6,390.2 L755.1,362.6 L756.1,360.1 L756.9,340.1 L757.6,330.1 L758.4,322.1 L759.1,340.1 L759.6,365.2 L759.9,415.3 L760.1,430.0 L760.9,445.0 L761.9,452.5 L762.9,452.5 L763.6,480.1 L764.4,512.7 L765.1,557.2 Z"/>
<path d="M767.9,557.2 L768.4,505.2 L769.4,502.6 L770.4,507.7 L771.4,500.1 L772.6,497.6 L773.6,492.6 L774.4,477.6 L775.6,476.3 L776.4,467.6 L776.9,430.0 L776.9,447.1 L777.2,420.3 L778.2,420.3 L778.4,447.1 L778.4,430.0 L778.9,455.1 L780.2,455.1 L780.7,430.0 L780.9,447.1 L781.2,421.0 L782.7,421.0 L782.9,447.1 L782.9,430.0 L783.4,467.6 L784.2,480.1 L785.2,482.6 L785.9,495.1 L787.2,495.1 L788.4,500.1 L789.2,512.7 L790.4,513.9 L791.4,515.2 L792.2,495.1 L792.9,480.1 L793.9,478.8 L794.9,482.6 L795.9,490.1 L797.2,488.9 L798.2,500.1 L798.9,515.2 L800.4,516.4 L801.2,557.2 Z"/>
<path d="M805.0,557.2 L805.2,517.7 L806.7,517.7 L807.2,557.2 Z"/>
<path d="M813.5,557.2 L814.0,522.7 L816.0,522.7 L817.0,525.2 L817.7,500.1 L819.2,500.1 L819.7,525.2 L820.2,512.7 L821.7,512.7 L822.2,525.2 L822.7,503.9 L823.7,503.9 L824.2,525.2 L824.7,517.7 L825.7,517.7 L826.3,557.2 Z"/>
<path d="M855.6,557.2 L856.3,518.8 L858.1,517.6 L859.1,522.6 L859.8,505.1 L860.3,496.3 L861.3,496.3 L861.8,517.6 L863.1,518.8 L865.1,517.6 L867.1,518.8 L868.3,517.6 L869.1,493.8 L870.6,493.8 L871.1,512.6 L872.6,512.6 L874.1,513.8 L874.6,455.0 L875.1,430.0 L875.3,446.9 L875.6,315.0 L875.8,297.0 L877.6,297.0 L877.8,340.1 L878.1,446.9 L878.1,430.0 L878.3,515.1 L879.6,515.1 L880.1,430.0 L880.1,446.9 L880.8,415.1 L881.3,365.1 L882.3,358.8 L883.3,357.1 L884.1,365.1 L884.8,402.6 L885.3,446.9 L885.3,430.0 L885.8,480.1 L886.3,505.1 L887.1,522.6 L887.6,557.2 Z"/>
<path d="M889.6,557.2 L890.1,505.1 L890.6,430.0 L890.6,446.9 L891.1,402.6 L891.6,382.6 L892.6,372.6 L893.3,355.1 L894.3,352.6 L895.1,347.6 L895.6,320.0 L896.1,296.3 L897.1,296.3 L897.6,340.1 L898.1,352.6 L898.8,357.6 L899.6,360.1 L900.1,340.1 L900.6,297.5 L901.9,297.5 L902.1,340.1 L902.6,365.1 L902.9,415.1 L903.1,446.9 L903.1,430.0 L903.6,505.1 L904.4,505.1 L905.1,505.1 L905.6,492.6 L906.6,492.6 L906.9,455.0 L907.1,430.0 L907.1,410.1 L907.6,377.6 L908.1,340.1 L908.9,315.0 L909.6,304.5 L910.1,315.0 L910.9,347.6 L911.4,372.6 L911.9,387.6 L912.4,427.6 L912.6,446.9 L912.6,430.0 L913.1,492.6 L913.6,515.1 L914.4,557.2 Z"/>
<path d="M923.6,557.2 L923.9,493.8 L925.1,493.8 L925.4,557.2 Z"/>
<path d="M930.4,557.2 L930.9,522.6 L932.6,522.6 L933.6,517.6 L934.6,512.6 L935.4,500.1 L936.1,500.1 L936.6,467.5 L937.1,440.0 L937.6,430.0 L937.6,440.2 L938.6,430.1 L939.6,418.9 L940.6,417.6 L941.4,440.2 L941.6,446.9 L941.6,430.0 L941.9,505.1 L942.6,505.1 L943.1,430.0 L943.9,446.9 L944.4,415.1 L945.1,395.1 L945.9,390.1 L946.6,365.1 L947.4,332.5 L948.4,331.3 L949.1,315.0 L950.2,305.0 L950.9,301.3 L951.7,302.5 L952.4,317.5 L953.2,321.3 L953.9,340.1 L954.7,342.6 L955.2,365.1 L955.7,425.1 L956.2,425.1 L956.4,365.1 L956.9,340.1 L957.7,317.5 L958.4,316.3 L958.9,340.1 L959.4,365.1 L960.2,347.6 L960.9,348.8 L961.7,365.1 L962.4,363.8 L963.2,340.1 L963.9,310.0 L964.4,300.0 L965.7,301.3 L966.4,299.5 L967.7,302.5 L968.7,301.3 L969.7,301.3 L970.4,305.0 L971.2,322.5 L971.9,305.0 L972.7,294.5 L973.4,300.0 L974.2,305.0 L974.9,317.5 L975.9,318.8 L976.7,352.6 L977.2,377.6 L978.2,380.1 L978.7,415.1 L978.9,446.9 L978.9,430.0 L979.4,492.6 L980.2,505.1 L981.2,517.6 L982.2,557.2 Z"/>
<path d="M990.4,557.2 L990.7,455.0 L990.9,446.3 L992.2,446.3 L992.4,480.1 L992.7,557.2 Z"/>
<path d="M999.2,557.2 L999.4,507.6 L1000.2,507.6 L1000.5,557.2 Z"/>
<path d="M1010.0,557.2 L1010.5,522.6 L1011.5,505.1 L1012.2,462.5 L1013.2,461.3 L1014.0,470.0 L1015.0,467.5 L1015.5,442.5 L1015.7,430.0 L1015.7,446.9 L1016.0,406.4 L1017.7,406.4 L1018.2,446.9 L1018.2,430.0 L1019.2,430.0 L1019.5,557.2 Z"/>
</g>
<g clip-path="url(#belowB)" fill="#0000ff">
<rect x="96.0" y="291.7" width="3.0" height="265.5"/>
<rect x="109.8" y="291.7" width="7.5" height="265.5"/>
<rect x="123.1" y="291.7" width="5.5" height="265.5"/>
<rect x="154.2" y="291.7" width="10.0" height="265.5"/>
<rect x="205.8" y="291.7" width="4.2" height="265.5"/>
<rect x="217.5" y="291.7" width="6.0" height="265.5"/>
<rect x="224.2" y="291.7" width="3.3" height="265.5"/>
<rect x="247.0" y="291.7" width="5.0" height="265.5"/>
<rect x="258.9" y="291.7" width="28.0" height="265.5"/>
<rect x="304.0" y="291.7" width="14.5" height="265.5"/>
<rect x="326.0" y="291.7" width="2.5" height="265.5"/>
<rect x="338.5" y="291.7" width="4.5" height="265.5"/>
<rect x="350.3" y="291.7" width="30.3" height="265.5"/>
<rect x="385.0" y="291.7" width="2.0" height="265.5"/>
<rect x="389.4" y="291.7" width="51.3" height="265.5"/>
<rect x="445.7" y="291.7" width="9.1" height="265.5"/>
<rect x="455.4" y="291.7" width="4.4" height="265.5"/>
<rect x="460.4" y="291.7" width="5.9" height="265.5"/>
<rect x="481.3" y="291.7" width="5.7" height="265.5"/>
<rect x="529.0" y="291.7" width="6.7" height="265.5"/>
<rect x="549.7" y="291.7" width="76.3" height="265.5"/>
<rect x="629.0" y="291.7" width="7.6" height="265.5"/>
<rect x="644.0" y="291.7" width="34.0" height="265.5"/>
<rect x="678.6" y="291.7" width="49.2" height="265.5"/>
<rect x="741.3" y="291.7" width="23.7" height="265.5"/>
<rect x="767.6" y="291.7" width="33.9" height="265.5"/>
<rect x="804.5" y="291.7" width="4.5" height="265.5"/>
<rect x="813.2" y="291.7" width="13.3" height="265.5"/>
<rect x="855.0" y="291.7" width="32.6" height="265.5"/>
<rect x="889.6" y="291.7" width="24.8" height="265.5"/>
<rect x="922.6" y="291.7" width="3.0" height="265.5"/>
<rect x="930.0" y="291.7" width="52.2" height="265.5"/>
<rect x="989.0" y="291.7" width="4.2" height="265.5"/>
<rect x="998.5" y="291.7" width="2.5" height="265.5"/>
<rect x="1009.7" y="291.7" width="9.5" height="265.5"/>
</g>
<path d="M81.4,508.3 H1019.6" stroke="#000" stroke-width="1.7" stroke-dasharray="5.9,3.52" stroke-dashoffset="6.32" fill="none"/>
<path d="M81.4,161.1 L82.1,153.0 L82.8,146.3 L83.5,142.4 L84.2,130.0 L84.9,118.2 L85.6,109.0 L86.3,102.2 L87.0,96.2 L87.7,92.7 L88.4,86.3 L89.1,81.7 L89.8,84.7 L90.5,89.8 L91.2,93.3 L91.9,95.6 L92.6,97.8 L93.3,104.3 L94.0,110.2 L94.7,114.8 L95.4,121.6 L96.1,121.4 L96.8,120.4 L97.5,123.1 L98.2,125.2 L98.9,122.3 L99.6,113.0 L100.3,104.4 L101.0,101.4 L101.7,97.7 L102.4,92.0 L103.1,86.9 L103.8,86.0 L104.5,85.6 L105.2,80.0 L105.9,80.5 L106.6,83.3 L107.3,84.3 L108.0,87.6 L108.7,99.2 L109.4,104.1 L110.1,105.3 L110.8,107.2 L111.5,108.5 L112.2,108.4 L112.9,114.7 L113.6,119.0 L114.3,120.5 L115.0,117.0 L115.7,105.9 L116.4,101.7 L117.1,96.8 L117.8,90.0 L118.5,86.3 L119.2,82.7 L119.9,79.8 L120.6,78.2 L121.3,80.7 L122.0,89.4 L122.7,89.9 L123.4,88.8 L124.1,95.8 L124.8,96.5 L125.5,96.7 L126.2,109.4 L126.9,113.4 L127.6,111.9 L128.3,117.9 L129.0,113.6 L129.7,102.7 L130.4,99.9 L131.1,97.7 L131.8,92.5 L132.5,88.6 L133.2,86.2 L133.9,84.1 L134.6,80.5 L135.3,84.2 L136.0,88.2 L136.7,90.5 L137.4,87.5 L138.1,81.7 L138.8,89.7 L139.5,98.3 L140.2,98.4 L140.9,98.3 L141.6,100.4 L142.3,105.2 L143.0,119.1 L143.7,118.8 L144.4,118.8 L145.1,123.4 L145.8,130.0 L146.5,121.6 L147.2,105.2 L147.9,96.8 L148.6,87.1 L149.3,85.4 L150.0,90.6 L150.7,92.9 L151.4,95.1 L152.1,101.7 L152.8,105.8 L153.5,97.7 L154.2,92.3 L154.9,97.4 L155.6,107.8 L156.3,120.2 L157.0,123.8 L157.7,128.0 L158.4,127.5 L159.1,131.5 L159.8,130.3 L160.5,127.3 L161.2,131.5 L161.9,136.2 L162.6,138.9 L163.3,138.2 L164.0,135.6 L164.7,131.5 L165.4,127.1 L166.1,128.3 L166.8,149.2 L167.5,142.3 L168.2,130.6 L168.9,127.9 L169.6,136.0 L170.3,144.2 L171.0,145.0 L171.7,140.4 L172.4,142.3 L173.1,145.9 L173.8,148.9 L174.5,148.7 L175.2,145.0 L175.9,137.5 L176.6,145.5 L177.3,153.3 L178.0,155.4 L178.7,159.5 L179.4,165.6 L180.1,168.4 L180.8,168.2 L181.5,164.8 L182.2,171.6 L182.9,176.3 L183.6,173.9 L184.3,164.9 L185.0,160.9 L185.7,171.2 L186.4,173.1 L187.1,169.6 L187.8,167.2 L188.5,163.2 L189.2,159.5 L189.9,154.9 L190.6,149.6 L191.3,143.0 L192.0,142.2 L192.7,130.3 L193.4,106.4 L194.1,94.7 L194.8,98.8 L195.5,94.7 L196.2,91.4 L196.9,92.5 L197.6,103.8 L198.3,112.0 L199.0,117.1 L199.7,112.7 L200.4,112.6 L201.1,116.3 L201.8,119.1 L202.5,121.1 L203.2,117.0 L203.9,117.7 L204.6,121.7 L205.3,124.9 L206.0,127.9 L206.7,123.3 L207.4,115.3 L208.1,109.1 L208.8,102.9 L209.5,93.4 L210.2,88.7 L210.9,93.4 L211.6,95.7 L212.3,92.3 L213.0,92.9 L213.7,90.0 L214.4,86.7 L215.1,95.9 L215.8,103.1 L216.5,109.2 L217.2,116.7 L217.9,126.3 L218.6,131.8 L219.3,121.4 L220.0,107.4 L220.7,105.3 L221.4,111.4 L222.1,116.7 L222.8,111.9 L223.5,103.3 L224.2,103.3 L224.9,95.7 L225.6,86.9 L226.3,79.5 L227.0,77.1 L227.7,85.8 L228.4,84.2 L229.1,87.9 L229.8,99.1 L230.5,103.6 L231.2,106.0 L231.9,106.1 L232.6,106.2 L233.3,101.6 L234.0,95.3 L234.7,101.3 L235.4,112.9 L236.1,116.6 L236.8,118.4 L237.5,122.4 L238.2,126.1 L238.9,120.4 L239.6,108.2 L240.3,90.1 L241.0,77.5 L241.7,75.7 L242.4,79.3 L243.1,89.6 L243.8,93.2 L244.5,97.1 L245.2,99.4 L245.9,99.0 L246.6,99.5 L247.3,98.4 L248.0,95.4 L248.7,99.2 L249.4,103.7 L250.1,113.1 L250.8,123.0 L251.5,121.8 L252.2,120.4 L252.9,115.9 L253.6,116.0 L254.3,111.0 L255.0,91.3 L255.7,82.2 L256.4,84.7 L257.1,87.7 L257.8,94.0 L258.5,97.5 L259.2,97.9 L259.9,101.3 L260.6,105.6 L261.3,111.6 L262.0,117.7 L262.7,115.8 L263.4,117.5 L264.1,120.2 L264.8,121.6 L265.5,118.2 L266.2,112.6 L266.9,119.1 L267.6,123.6 L268.3,125.5 L269.0,130.5 L269.7,135.7 L270.4,141.4 L271.1,145.2 L271.8,144.6 L272.5,144.7 L273.2,143.9 L273.9,142.8 L274.6,144.2 L275.3,146.4 L276.0,143.4 L276.7,146.7 L277.4,148.2 L278.1,151.7 L278.8,149.3 L279.5,144.2 L280.2,144.7 L280.9,147.1 L281.6,150.8 L282.3,153.9 L283.0,157.2 L283.7,159.5 L284.4,155.8 L285.1,152.0 L285.8,161.1 L286.5,159.0 L287.2,163.9 L287.9,166.6 L288.6,169.2 L289.3,171.5 L290.0,170.5 L290.7,168.6 L291.4,166.3 L292.1,169.3 L292.8,171.4 L293.5,165.9 L294.2,170.4 L294.9,173.6 L295.6,171.7 L296.3,166.4 L297.0,164.7 L297.7,166.3 L298.4,165.1 L299.1,161.6 L299.8,151.6 L300.5,138.6 L301.2,123.4 L301.9,115.2 L302.6,108.8 L303.3,105.7 L304.0,100.6 L304.7,89.7 L305.4,97.5 L306.1,104.1 L306.8,102.3 L307.5,105.2 L308.2,108.6 L308.9,113.5 L309.6,114.8 L310.3,115.0 L311.0,108.3 L311.7,109.4 L312.4,116.9 L313.1,118.7 L313.8,114.5 L314.5,105.5 L315.2,105.7 L315.9,104.0 L316.6,95.0 L317.3,93.8 L318.0,97.4 L318.7,94.8 L319.4,94.6 L320.1,94.3 L320.8,93.3 L321.5,98.1 L322.2,105.7 L322.9,109.3 L323.6,113.1 L324.3,113.8 L325.0,114.5 L325.7,112.0 L326.4,105.4 L327.1,103.9 L327.8,109.5 L328.5,118.4 L329.2,125.2 L329.9,127.8 L330.6,121.8 L331.3,110.9 L332.0,105.6 L332.7,95.3 L333.4,87.7 L334.1,90.2 L334.8,89.3 L335.5,84.7 L336.2,83.0 L336.9,80.6 L337.6,78.7 L338.3,87.6 L339.0,95.2 L339.7,95.1 L340.4,98.5 L341.1,102.5 L341.8,105.1 L342.5,110.3 L343.2,116.7 L343.9,111.2 L344.6,105.6 L345.3,105.8 L346.0,101.1 L346.7,97.4 L347.4,98.4 L348.1,92.2 L348.8,85.7 L349.5,94.1 L350.2,98.2 L350.9,98.8 L351.6,100.2 L352.3,100.4 L353.0,99.3 L353.7,101.6 L354.4,108.4 L355.1,114.9 L355.8,119.9 L356.5,120.2 L357.2,119.1 L357.9,113.1 L358.6,109.1 L359.3,108.1 L360.0,109.4 L360.7,116.2 L361.4,125.5 L362.1,114.1 L362.8,104.7 L363.5,94.7 L364.2,95.3 L364.9,100.9 L365.6,104.5 L366.3,107.1 L367.0,107.3 L367.7,104.6 L368.4,96.9 L369.1,95.2 L369.8,95.2 L370.5,99.5 L371.2,103.1 L371.9,105.9 L372.6,109.9 L373.3,111.4 L374.0,115.3 L374.7,118.9 L375.4,121.7 L376.1,120.9 L376.8,122.6 L377.5,122.5 L378.2,123.5 L378.9,120.2 L379.6,117.9 L380.3,112.3 L381.0,113.7 L381.7,125.0 L382.4,127.8 L383.1,130.0 L383.8,136.0 L384.5,135.0 L385.2,136.0 L385.9,146.8 L386.6,146.9 L387.3,141.1 L388.0,139.2 L388.7,137.0 L389.4,139.7 L390.1,150.4 L390.8,151.8 L391.5,150.8 L392.2,156.0 L392.9,162.6 L393.6,167.3 L394.3,167.5 L395.0,166.4 L395.7,168.7 L396.4,176.1 L397.1,184.2 L397.8,175.7 L398.5,174.2 L399.2,179.9 L399.9,178.5 L400.6,177.3 L401.3,180.2 L402.0,179.0 L402.7,176.6 L403.4,184.9 L404.1,189.6 L404.8,192.6 L405.5,196.4 L406.2,199.6 L406.9,201.4 L407.6,199.2 L408.3,198.7 L409.0,206.3 L409.7,209.6 L410.4,210.9 L411.1,209.7 L411.8,208.8 L412.5,207.7 L413.2,204.1 L413.9,199.9 L414.6,196.1 L415.3,201.8 L416.0,207.7 L416.7,207.4 L417.4,201.7 L418.1,199.1 L418.8,208.3 L419.5,210.8 L420.2,206.9 L420.9,210.4 L421.6,213.1 L422.3,217.4 L423.0,218.5 L423.7,219.6 L424.4,226.4 L425.1,230.0 L425.8,232.7 L426.5,229.8 L427.2,231.9 L427.9,237.4 L428.6,234.6 L429.3,234.0 L430.0,233.3 L430.7,234.5 L431.4,233.4 L432.1,230.8 L432.8,227.3 L433.5,225.8 L434.2,227.7 L434.9,230.0 L435.6,231.0 L436.3,232.5 L437.0,218.1 L437.7,195.6 L438.4,183.2 L439.1,168.2 L439.8,154.9 L440.5,141.2 L441.2,133.0 L441.9,123.9 L442.6,118.1 L443.3,118.2 L444.0,121.1 L444.7,117.2 L445.4,114.6 L446.1,120.7 L446.8,131.8 L447.5,147.9 L448.2,156.5 L448.9,160.8 L449.6,162.1 L450.3,161.2 L451.0,159.6 L451.7,154.6 L452.4,151.7 L453.1,152.9 L453.8,152.3 L454.5,141.5 L455.2,128.5 L455.9,123.2 L456.6,120.3 L457.3,111.8 L458.0,115.4 L458.7,122.6 L459.4,129.1 L460.1,131.4 L460.8,133.0 L461.5,134.3 L462.2,137.9 L462.9,140.1 L463.6,144.1 L464.3,146.8 L465.0,146.2 L465.7,146.6 L466.4,145.9 L467.1,139.0 L467.8,133.1 L468.5,131.2 L469.2,133.6 L469.9,134.5 L470.6,128.9 L471.3,124.3 L472.0,122.7 L472.7,124.9 L473.4,126.7 L474.1,126.7 L474.8,131.0 L475.5,138.0 L476.2,151.4 L476.9,150.7 L477.6,151.4 L478.3,159.4 L479.0,156.9 L479.7,154.3 L480.4,150.5 L481.1,146.2 L481.8,139.2 L482.5,151.9 L483.2,158.6 L483.9,153.9 L484.6,148.6 L485.3,141.1 L486.0,130.6 L486.7,128.5 L487.4,127.2 L488.1,124.0 L488.8,128.1 L489.5,138.4 L490.2,143.0 L490.9,133.0 L491.6,120.6 L492.3,104.5 L493.0,95.9 L493.7,124.5 L494.4,134.0 L495.1,124.2 L495.8,125.0 L496.5,127.6 L497.2,132.3 L497.9,137.2 L498.6,142.3 L499.3,149.3 L500.0,140.1 L500.7,135.0 L501.4,142.4 L502.1,152.3 L502.8,161.1 L503.5,161.6 L504.2,159.8 L504.9,152.7 L505.6,160.4 L506.3,162.1 L507.0,159.6 L507.7,157.6 L508.4,159.9 L509.1,163.8 L509.8,163.7 L510.5,165.7 L511.2,163.0 L511.9,158.6 L512.6,154.9 L513.3,157.0 L514.0,160.0 L514.7,160.0 L515.4,151.3 L516.1,140.3 L516.8,122.8 L517.5,114.8 L518.2,117.5 L518.9,116.4 L519.6,114.4 L520.3,108.5 L521.0,109.5 L521.7,108.1 L522.4,112.9 L523.1,117.3 L523.8,119.3 L524.5,124.4 L525.2,121.7 L525.9,117.8 L526.6,119.5 L527.3,119.8 L528.0,121.2 L528.7,116.7 L529.4,111.7 L530.1,108.5 L530.8,105.4 L531.5,104.7 L532.2,102.8 L532.9,100.8 L533.6,102.4 L534.3,103.1 L535.0,107.4 L535.7,114.4 L536.4,119.1 L537.1,114.4 L537.8,109.2 L538.5,111.1 L539.2,116.2 L539.9,120.4 L540.6,126.1 L541.3,127.8 L542.0,118.5 L542.7,119.6 L543.4,123.3 L544.1,125.4 L544.8,120.3 L545.5,119.2 L546.2,116.4 L546.9,113.3 L547.6,110.9 L548.3,108.1 L549.0,114.9 L549.7,121.9 L550.4,125.7 L551.1,125.5 L551.8,124.1 L552.5,123.8 L553.2,130.1 L553.9,135.2 L554.6,135.6 L555.3,136.0 L556.0,142.2 L556.7,146.5 L557.4,149.2 L558.1,156.8 L558.8,170.0 L559.5,182.3 L560.2,192.8 L560.9,201.1 L561.6,210.1 L562.3,218.6 L563.0,223.2 L563.7,230.7 L564.4,236.6 L565.1,239.3 L565.8,238.6 L566.5,233.4 L567.2,231.5 L567.9,232.1 L568.6,237.5 L569.3,239.1 L570.0,239.3 L570.7,233.3 L571.4,235.2 L572.1,239.3 L572.8,237.7 L573.5,235.4 L574.2,236.3 L574.9,233.6 L575.6,235.0 L576.3,238.0 L577.0,234.4 L577.7,234.4 L578.4,239.5 L579.1,243.8 L579.8,245.2 L580.5,236.9 L581.2,236.5 L581.9,241.4 L582.6,236.7 L583.3,237.4 L584.0,243.8 L584.7,237.5 L585.4,231.1 L586.1,231.1 L586.8,229.9 L587.5,229.0 L588.2,233.9 L588.9,234.0 L589.6,229.7 L590.3,236.8 L591.0,241.9 L591.7,245.6 L592.4,242.8 L593.1,240.6 L593.8,235.0 L594.5,238.7 L595.2,241.0 L595.9,237.6 L596.6,236.1 L597.3,236.8 L598.0,235.6 L598.7,234.3 L599.4,236.0 L600.1,236.2 L600.8,234.9 L601.5,233.2 L602.2,230.1 L602.9,229.8 L603.6,233.5 L604.3,237.3 L605.0,239.8 L605.7,231.8 L606.4,230.8 L607.1,235.9 L607.8,234.3 L608.5,232.0 L609.2,232.8 L609.9,235.6 L610.6,238.2 L611.3,237.9 L612.0,237.4 L612.7,237.4 L613.4,234.8 L614.1,234.4 L614.8,235.6 L615.5,233.0 L616.2,230.2 L616.9,228.5 L617.6,225.2 L618.3,218.7 L619.0,212.7 L619.7,206.6 L620.4,199.3 L621.1,195.3 L621.8,192.7 L622.5,193.4 L623.2,183.8 L623.9,172.7 L624.6,156.6 L625.3,137.8 L626.0,122.3 L626.7,114.3 L627.4,108.8 L628.1,103.7 L628.8,107.2 L629.5,107.6 L630.2,106.2 L630.9,107.2 L631.6,116.3 L632.3,126.9 L633.0,126.2 L633.7,125.0 L634.4,123.1 L635.1,132.3 L635.8,144.2 L636.5,141.8 L637.2,142.7 L637.9,143.9 L638.6,123.4 L639.3,107.7 L640.0,97.0 L640.7,94.7 L641.4,106.7 L642.1,122.5 L642.8,113.5 L643.5,102.2 L644.2,96.8 L644.9,95.4 L645.6,93.8 L646.3,97.1 L647.0,104.4 L647.7,109.4 L648.4,112.2 L649.1,115.1 L649.8,122.6 L650.5,128.5 L651.2,131.5 L651.9,135.9 L652.6,128.5 L653.3,119.0 L654.0,107.3 L654.7,99.2 L655.4,100.7 L656.1,93.4 L656.8,96.5 L657.5,110.3 L658.2,107.3 L658.9,97.7 L659.6,86.1 L660.3,87.3 L661.0,100.1 L661.7,102.5 L662.4,98.7 L663.1,105.4 L663.8,103.8 L664.5,110.8 L665.2,123.6 L665.9,132.1 L666.6,141.3 L667.3,138.3 L668.0,127.4 L668.7,112.7 L669.4,105.3 L670.1,101.7 L670.8,99.6 L671.5,90.7 L672.2,90.3 L672.9,93.7 L673.6,96.4 L674.3,93.1 L675.0,98.6 L675.7,101.3 L676.4,101.6 L677.1,101.3 L677.8,99.0 L678.5,102.4 L679.2,109.5 L679.9,113.5 L680.6,117.7 L681.3,120.5 L682.0,122.0 L682.7,124.6 L683.4,121.3 L684.1,114.3 L684.8,106.1 L685.5,98.9 L686.2,91.4 L686.9,85.0 L687.6,77.4 L688.3,76.0 L689.0,76.9 L689.7,82.5 L690.4,94.3 L691.1,99.6 L691.8,105.0 L692.5,105.7 L693.2,109.2 L693.9,111.6 L694.6,116.6 L695.3,122.2 L696.0,122.5 L696.7,125.7 L697.4,130.7 L698.1,124.2 L698.8,123.0 L699.5,128.5 L700.2,134.8 L700.9,141.3 L701.6,143.5 L702.3,140.1 L703.0,137.1 L703.7,139.3 L704.4,140.4 L705.1,139.8 L705.8,146.4 L706.5,146.9 L707.2,142.3 L707.9,140.7 L708.6,141.7 L709.3,139.0 L710.0,141.2 L710.7,145.4 L711.4,151.9 L712.1,157.3 L712.8,161.2 L713.5,167.9 L714.2,170.4 L714.9,168.9 L715.6,171.8 L716.3,173.2 L717.0,176.1 L717.7,176.7 L718.4,175.0 L719.1,173.4 L719.8,173.4 L720.5,173.9 L721.2,167.4 L721.9,161.2 L722.6,157.9 L723.3,160.5 L724.0,164.2 L724.7,165.5 L725.4,165.5 L726.1,165.9 L726.8,157.6 L727.5,159.4 L728.2,169.8 L728.9,165.7 L729.6,160.7 L730.3,152.6 L731.0,148.5 L731.7,139.1 L732.4,120.1 L733.1,109.5 L733.8,103.8 L734.5,100.9 L735.2,103.7 L735.9,108.1 L736.6,110.9 L737.3,106.7 L738.0,105.1 L738.7,112.3 L739.4,118.6 L740.1,117.5 L740.8,116.5 L741.5,118.0 L742.2,119.1 L742.9,122.6 L743.6,124.2 L744.3,130.0 L745.0,122.9 L745.7,111.1 L746.4,106.1 L747.1,100.2 L747.8,96.0 L748.5,91.2 L749.2,87.1 L749.9,93.3 L750.6,98.4 L751.3,96.9 L752.0,101.6 L752.7,106.9 L753.4,112.9 L754.1,113.2 L754.8,112.0 L755.5,109.9 L756.2,111.6 L756.9,116.2 L757.6,121.7 L758.3,122.4 L759.0,120.3 L759.7,119.5 L760.4,117.8 L761.1,122.0 L761.8,116.8 L762.5,109.6 L763.2,108.1 L763.9,105.6 L764.6,102.5 L765.3,103.2 L766.0,100.0 L766.7,97.1 L767.4,97.0 L768.1,99.9 L768.8,106.0 L769.5,112.0 L770.2,114.7 L770.9,113.7 L771.6,120.2 L772.3,127.1 L773.0,130.8 L773.7,134.1 L774.4,136.2 L775.1,137.9 L775.8,132.7 L776.5,120.0 L777.2,112.0 L777.9,104.0 L778.6,97.7 L779.3,90.2 L780.0,87.2 L780.7,87.4 L781.4,94.2 L782.1,105.1 L782.8,104.0 L783.5,100.7 L784.2,98.1 L784.9,106.5 L785.6,113.6 L786.3,113.8 L787.0,112.4 L787.7,107.2 L788.4,107.8 L789.1,116.4 L789.8,130.1 L790.5,120.7 L791.2,114.9 L791.9,115.7 L792.6,104.2 L793.3,95.6 L794.0,94.3 L794.7,90.1 L795.4,87.8 L796.1,91.6 L796.8,98.4 L797.5,99.9 L798.2,107.2 L798.9,111.5 L799.6,114.4 L800.3,117.2 L801.0,121.7 L801.7,127.5 L802.4,132.9 L803.1,135.7 L803.8,138.1 L804.5,139.7 L805.2,128.8 L805.9,126.3 L806.6,123.2 L807.3,126.6 L808.0,134.0 L808.7,140.0 L809.4,139.0 L810.1,139.3 L810.8,139.6 L811.5,140.2 L812.2,139.7 L812.9,137.9 L813.6,140.8 L814.3,143.4 L815.0,147.8 L815.7,143.2 L816.4,138.3 L817.1,136.4 L817.8,138.3 L818.5,142.4 L819.2,146.6 L819.9,148.5 L820.6,150.4 L821.3,151.4 L822.0,152.7 L822.7,152.9 L823.4,155.6 L824.1,160.6 L824.8,159.9 L825.5,164.3 L826.2,171.6 L826.9,172.6 L827.6,173.9 L828.3,170.8 L829.0,170.8 L829.7,169.4 L830.4,164.9 L831.1,159.8 L831.8,155.9 L832.5,159.3 L833.2,165.9 L833.9,170.4 L834.6,162.5 L835.3,157.5 L836.0,154.7 L836.7,147.6 L837.4,136.5 L838.1,122.6 L838.8,116.4 L839.5,113.6 L840.2,106.0 L840.9,102.0 L841.6,101.9 L842.3,97.7 L843.0,101.2 L843.7,111.1 L844.4,111.8 L845.1,108.8 L845.8,109.4 L846.5,103.0 L847.2,106.1 L847.9,109.5 L848.6,111.9 L849.3,112.6 L850.0,123.0 L850.7,128.3 L851.4,122.1 L852.1,121.3 L852.8,118.8 L853.5,111.0 L854.2,107.9 L854.9,102.3 L855.6,103.6 L856.3,101.4 L857.0,101.4 L857.7,105.2 L858.4,107.6 L859.1,109.6 L859.8,115.7 L860.5,115.5 L861.2,112.5 L861.9,111.0 L862.6,115.8 L863.3,121.0 L864.0,127.0 L864.7,133.6 L865.4,135.8 L866.1,135.7 L866.8,133.3 L867.5,133.7 L868.2,128.2 L868.9,114.0 L869.6,104.9 L870.3,97.4 L871.0,88.2 L871.7,85.9 L872.4,91.9 L873.1,98.6 L873.8,96.3 L874.5,90.8 L875.2,96.6 L875.9,106.5 L876.6,111.2 L877.3,110.8 L878.0,110.3 L878.7,112.0 L879.4,116.2 L880.1,121.3 L880.8,122.9 L881.5,123.4 L882.2,123.5 L882.9,127.5 L883.6,131.7 L884.3,132.3 L885.0,112.8 L885.7,95.2 L886.4,90.3 L887.1,94.1 L887.8,102.4 L888.5,104.4 L889.2,101.0 L889.9,96.3 L890.6,100.6 L891.3,107.7 L892.0,111.9 L892.7,108.8 L893.4,108.0 L894.1,115.1 L894.8,117.0 L895.5,114.7 L896.2,114.5 L896.9,108.3 L897.6,105.6 L898.3,113.7 L899.0,120.0 L899.7,117.6 L900.4,115.8 L901.1,111.6 L901.8,106.5 L902.5,103.6 L903.2,102.4 L903.9,102.8 L904.6,105.8 L905.3,111.1 L906.0,108.3 L906.7,109.3 L907.4,114.1 L908.1,116.0 L908.8,118.9 L909.5,124.2 L910.2,123.9 L910.9,116.6 L911.6,115.9 L912.3,118.6 L913.0,125.3 L913.7,131.0 L914.4,133.1 L915.1,130.7 L915.8,129.3 L916.5,129.9 L917.2,134.4 L917.9,136.4 L918.6,139.0 L919.3,136.5 L920.0,136.5 L920.7,137.6 L921.4,143.9 L922.1,144.0 L922.8,137.0 L923.5,137.7 L924.2,139.7 L924.9,136.1 L925.6,141.3 L926.3,148.0 L927.0,148.9 L927.7,149.7 L928.4,150.7 L929.1,148.2 L929.8,149.7 L930.5,156.6 L931.2,157.6 L931.9,160.3 L932.6,165.9 L933.3,166.2 L934.0,167.1 L934.7,175.3 L935.4,175.0 L936.1,169.6 L936.8,177.6 L937.5,176.2 L938.2,165.0 L938.9,162.7 L939.6,164.2 L940.3,165.6 L941.0,166.3 L941.7,168.1 L942.4,164.5 L943.1,160.2 L943.8,159.2 L944.5,153.0 L945.2,146.8 L945.9,138.7 L946.6,125.0 L947.3,109.8 L948.0,100.1 L948.7,99.3 L949.4,102.4 L950.1,101.8 L950.8,103.9 L951.5,105.0 L952.2,105.4 L952.9,105.5 L953.6,109.6 L954.3,110.8 L955.0,113.9 L955.7,115.3 L956.4,118.0 L957.1,118.9 L957.8,120.5 L958.5,119.8 L959.2,116.6 L959.9,131.4 L960.6,139.0 L961.3,124.7 L962.0,111.6 L962.7,104.3 L963.4,101.9 L964.1,95.7 L964.8,95.2 L965.5,97.6 L966.2,97.9 L966.9,95.8 L967.6,102.6 L968.3,107.0 L969.0,106.2 L969.7,108.3 L970.4,107.5 L971.1,108.0 L971.8,111.0 L972.5,116.5 L973.2,115.7 L973.9,113.8 L974.6,115.7 L975.3,115.6 L976.0,119.3 L976.7,119.9 L977.4,109.5 L978.1,100.3 L978.8,99.5 L979.5,97.9 L980.2,92.6 L980.9,93.7 L981.6,99.3 L982.3,105.7 L983.0,102.9 L983.7,100.1 L984.4,98.8 L985.1,103.5 L985.8,107.5 L986.5,106.8 L987.2,112.5 L987.9,121.0 L988.6,121.7 L989.3,126.8 L990.0,131.6 L990.7,135.5 L991.4,132.0 L992.1,122.5 L992.8,115.6 L993.5,107.0 L994.2,97.6 L994.9,93.3 L995.6,92.0 L996.3,93.9 L997.0,97.2 L997.7,102.6 L998.4,104.0 L999.1,107.5 L999.8,110.6 L1000.5,111.8 L1001.2,113.9 L1001.9,116.3 L1002.6,116.2 L1003.3,115.4 L1004.0,120.1 L1004.7,119.8 L1005.4,122.4 L1006.1,128.9 L1006.8,131.5 L1007.5,124.9 L1008.2,119.4 L1008.9,110.6 L1009.6,101.2 L1010.3,96.7 L1011.0,94.0 L1011.7,98.4 L1012.4,104.6 L1013.1,111.1 L1013.8,112.9 L1014.5,115.6 L1015.2,119.2 L1015.9,122.0 L1016.6,123.4 L1017.3,128.4 L1018.0,130.6 L1018.7,135.2 L1019.4,144.4" fill="none" stroke="#000" stroke-width="3.3" stroke-linejoin="miter" stroke-miterlimit="5"/>
<path d="M81.5,158.5 L82.1,156.9 L81.4,153.2 L81.7,142.7 L82.9,145.5 L82.6,149.1 L82.6,139.1 L83.8,143.0 L83.8,136.6 L84.6,133.8 L84.1,130.2 L85.9,121.4 L84.8,120.1 L84.5,111.4 L85.9,109.4 L84.9,105.6 L85.4,99.3 L85.6,99.7 L86.9,97.1 L85.5,96.2 L87.9,93.5 L87.9,90.4 L88.6,93.1 L88.1,91.7 L88.9,83.2 L89.9,88.6 L89.9,79.1 L89.2,84.1 L88.9,83.6 L89.9,91.0 L90.5,86.1 L91.3,88.5 L91.5,92.2 L92.3,93.8 L92.4,94.5 L92.5,101.1 L92.8,96.2 L92.7,93.9 L93.1,106.0 L92.9,103.8 L93.3,102.3 L95.3,106.5 L94.5,112.5 L94.4,109.1 L94.3,119.1 L94.8,108.4 L95.9,116.7 L95.6,125.4 L95.8,122.5 L96.9,122.6 L96.0,124.1 L96.9,118.2 L96.9,122.4 L96.9,122.2 L97.7,122.6 L97.5,120.8 L97.4,123.7 L97.1,124.9 L97.4,126.8 L99.1,121.1 L99.6,112.4 L100.5,112.5 L101.2,107.1 L101.6,108.4 L100.4,107.3 L100.0,96.4 L101.0,97.6 L102.0,98.2 L101.0,98.7 L102.1,97.7 L102.5,94.5 L102.1,86.2 L102.7,85.7 L103.2,85.9 L104.3,87.1 L103.1,87.7 L105.5,83.3 L104.4,92.1 L105.1,82.8 L106.4,80.3 L106.1,86.9 L105.4,76.2 L106.3,82.2 L106.9,78.9 L106.6,83.3 L106.5,80.8 L106.8,85.2 L107.1,85.0 L108.3,83.1 L108.4,86.8 L108.6,94.2 L108.2,99.6 L109.8,102.9 L109.3,104.4 L109.6,103.6 L109.3,108.0 L110.1,103.9 L110.5,111.0 L111.3,105.6 L111.1,108.4 L111.7,105.7 L111.2,108.1 L110.8,111.5 L112.7,110.1 L111.2,116.0 L112.1,117.9 L113.1,115.0 L114.0,115.8 L114.5,119.8 L114.1,117.4 L114.9,116.4 L114.9,118.2 L115.4,113.8 L114.9,110.7 L115.5,107.4 L116.6,101.0 L116.3,105.0 L116.7,102.2 L116.2,103.0 L118.1,101.1 L117.9,96.8 L117.7,89.3 L118.1,86.6 L117.3,83.6 L118.7,82.5 L119.4,79.8 L119.2,82.8 L119.8,81.1 L119.8,81.2 L119.5,80.2 L119.8,81.5 L120.7,76.3 L121.9,79.0 L121.3,82.2 L122.3,84.0 L122.1,85.3 L121.7,93.6 L123.3,87.4 L122.2,80.3 L123.6,86.9 L124.4,88.0 L123.3,91.2 L124.5,99.5 L123.5,96.6 L124.6,102.6 L124.3,94.8 L125.8,99.5 L126.1,97.4 L125.2,96.1 L125.2,107.5 L126.2,115.5 L127.4,109.9 L126.4,111.5 L128.3,112.5 L128.0,109.5 L128.1,116.2 L129.0,114.5 L128.2,118.6 L129.7,115.7 L129.7,111.9 L130.5,104.8 L129.2,104.5 L130.3,102.1 L130.3,102.5 L131.3,96.6 L130.9,101.9 L131.7,94.1 L132.0,96.9 L132.2,92.3 L131.9,89.9 L132.4,89.3 L133.2,91.3 L133.0,85.5 L132.7,82.8 L132.7,80.4 L132.7,83.8 L133.8,81.0 L134.1,78.3 L135.2,82.2 L134.4,77.1 L136.4,80.4 L135.5,90.7 L136.5,86.6 L137.8,87.4 L137.4,87.0 L137.0,90.9 L136.7,85.8 L137.2,87.1 L137.5,84.9 L138.4,85.2 L138.4,85.0 L139.4,88.9 L140.1,88.0 L139.7,95.3 L140.2,96.9 L139.7,97.3 L140.2,96.9 L142.2,104.9 L140.0,102.0 L141.0,99.7 L142.0,102.7 L141.8,101.9 L142.4,100.6 L142.7,109.0 L140.7,112.6 L141.5,118.4 L143.3,120.1 L143.2,116.8 L144.0,119.3 L143.7,118.0 L144.5,119.8 L145.2,117.7 L145.1,122.0 L144.5,119.9 L146.1,126.0 L146.8,130.9 L146.7,130.4 L146.6,123.0 L147.1,110.7 L146.8,107.1 L147.8,103.1 L147.7,98.6 L148.1,94.2 L148.6,88.4 L148.7,88.2 L149.1,91.3 L148.7,84.1 L150.9,81.6 L149.8,87.5 L150.1,86.0 L151.2,94.2 L151.5,92.0 L151.7,88.2 L151.3,90.6 L151.1,92.8 L151.9,98.8 L152.8,102.1 L153.2,107.7 L152.7,106.4 L151.7,104.2 L153.4,101.9 L154.6,99.4 L154.9,93.7 L154.3,93.4 L153.8,97.4 L154.7,95.0 L155.7,103.9 L156.4,109.3 L156.1,111.9 L156.3,115.8 L156.2,117.2 L156.7,122.3 L156.3,125.9 L158.3,125.0 L157.1,132.6 L157.4,127.9 L157.9,131.2 L157.4,131.0 L158.4,127.4 L159.4,133.8 L160.4,134.5 L159.9,128.3 L159.3,131.7 L161.2,126.4 L159.7,121.5 L161.5,127.6 L160.9,129.8 L161.5,130.1 L162.0,133.7 L162.2,138.1 L163.0,137.4 L162.8,137.2 L162.4,139.0 L161.9,138.5 L162.7,136.6 L165.0,133.6 L164.3,133.2 L164.3,131.2 L165.5,136.8 L164.3,127.6 L165.7,129.4 L165.4,123.9 L166.8,122.8 L166.3,140.6 L165.8,143.3 L167.1,147.5 L167.0,146.9 L167.0,143.7 L168.6,137.0 L168.5,130.6 L169.1,126.1 L168.9,126.2 L168.8,128.0 L169.7,135.3 L169.2,135.2 L169.9,141.9 L170.1,141.1 L170.9,146.3 L170.4,149.0 L171.8,142.4 L172.4,142.3 L171.3,142.6 L171.2,140.4 L172.0,142.3 L173.5,140.8 L173.0,137.6 L174.5,142.9 L173.6,148.0 L173.4,145.4 L173.4,145.4 L174.0,149.1 L175.4,150.7 L175.9,151.5 L176.0,144.7 L175.7,133.4 L175.6,137.8 L175.6,143.5 L177.6,143.0 L177.4,146.9 L177.2,154.3 L177.7,151.4 L177.7,151.2 L178.1,157.3 L178.5,157.5 L177.6,157.4 L178.0,154.7 L179.3,163.5 L178.9,169.2 L179.5,171.1 L180.6,167.2 L181.3,176.1 L180.5,165.6 L181.1,167.9 L180.9,163.4 L182.0,166.6 L182.2,164.6 L182.3,173.6 L184.2,173.2 L183.7,174.7 L183.5,177.3 L183.3,174.1 L183.6,168.0 L184.1,173.2 L185.0,166.6 L186.3,157.6 L184.6,164.9 L184.7,162.5 L185.8,166.8 L184.9,170.1 L185.6,169.8 L186.0,171.8 L186.4,174.0 L186.0,172.9 L187.6,171.2 L187.4,170.0 L186.9,162.0 L188.5,166.9 L188.4,164.9 L189.1,161.1 L190.0,161.3 L189.3,156.0 L188.9,155.0 L189.5,160.9 L190.1,157.1 L191.3,150.7 L190.9,146.8 L190.9,147.5 L191.6,142.8 L191.1,138.1 L192.3,139.0 L192.4,140.4 L192.8,129.6 L193.9,116.9 L193.0,106.4 L193.6,96.1 L193.5,96.6 L194.7,96.9 L193.9,97.5 L195.4,97.7 L195.9,101.2 L195.1,92.2 L195.0,93.3 L196.8,91.3 L196.2,91.3 L196.9,89.7 L196.1,89.1 L196.6,97.4 L197.5,99.3 L197.5,107.1 L197.1,109.5 L197.3,110.1 L198.3,109.8 L198.9,120.1 L199.8,114.5 L198.9,110.1 L199.0,117.1 L200.4,112.7 L200.2,115.3 L201.6,115.3 L201.5,115.7 L201.4,118.9 L201.1,117.5 L202.0,122.7 L202.8,121.6 L201.5,116.9 L203.2,118.3 L203.8,119.6 L203.2,122.4 L203.2,117.9 L203.9,124.7 L204.2,124.5 L204.9,124.4 L204.9,121.7 L206.3,122.2 L205.1,127.8 L206.2,122.5 L206.3,128.9 L206.0,129.0 L206.0,117.2 L207.0,110.6 L207.9,116.0 L209.2,111.0 L208.5,107.4 L207.5,101.5 L208.4,103.2 L208.2,99.9 L210.2,99.7 L209.5,90.2 L209.4,86.5 L210.1,88.5 L210.2,85.0 L210.4,91.6 L211.8,94.0 L210.4,100.2 L211.6,93.4 L211.2,95.4 L213.4,92.1 L212.2,93.6 L213.2,92.1 L214.1,92.3 L211.6,93.5 L214.1,88.1 L214.5,92.1 L215.3,88.7 L214.3,89.1 L214.3,95.6 L215.7,94.5 L216.0,100.8 L216.2,110.1 L216.2,105.7 L216.6,106.6 L216.9,110.2 L216.3,116.0 L217.7,121.4 L217.4,119.5 L217.8,123.4 L217.9,130.6 L218.6,137.3 L218.4,130.3 L219.3,121.5 L220.2,120.2 L220.2,117.2 L219.2,106.8 L220.7,101.8 L220.7,102.1 L220.4,109.7 L222.2,112.0 L221.1,109.0 L222.2,118.1 L221.5,117.6 L222.5,111.9 L222.5,112.9 L223.2,109.1 L223.5,112.0 L224.3,95.6 L224.2,100.9 L224.2,103.1 L225.2,93.6 L224.1,95.0 L224.5,92.8 L225.7,88.3 L225.3,85.9 L226.0,84.0 L226.7,77.4 L226.6,79.0 L227.1,82.2 L227.8,81.8 L226.8,90.0 L227.3,83.8 L227.8,85.7 L228.8,82.5 L229.2,80.9 L229.6,92.3 L228.9,94.4 L230.3,100.7 L229.3,98.5 L229.5,106.2 L230.7,101.4 L230.8,106.5 L231.7,105.8 L231.1,107.7 L232.4,111.7 L232.2,109.0 L232.1,110.7 L233.7,101.6 L233.4,106.9 L232.8,100.8 L234.6,100.2 L234.1,99.9 L233.8,91.5 L234.4,94.4 L233.8,99.8 L235.3,106.7 L235.2,112.6 L235.1,112.2 L235.6,117.8 L236.2,117.9 L236.5,112.5 L237.1,123.3 L236.7,115.6 L237.5,117.5 L239.4,125.0 L237.7,122.4 L239.0,125.6 L237.9,128.8 L238.9,119.5 L239.0,113.4 L240.0,110.3 L239.6,108.4 L239.7,92.3 L240.3,85.8 L240.0,84.7 L241.2,81.4 L240.8,78.8 L242.2,76.4 L242.4,75.0 L242.1,81.4 L242.5,83.5 L243.0,82.9 L242.5,88.1 L243.0,89.0 L243.8,93.8 L243.6,96.4 L244.3,98.6 L244.9,101.5 L243.5,96.7 L243.8,95.6 L245.4,98.3 L244.6,101.4 L246.8,99.2 L246.8,96.1 L246.9,96.0 L247.0,105.9 L246.7,99.3 L247.5,93.3 L248.6,94.9 L247.9,97.3 L247.9,101.1 L248.3,99.0 L249.2,100.3 L249.3,108.3 L249.8,107.2 L249.6,112.5 L249.7,113.8 L250.6,118.1 L251.2,125.4 L251.3,130.5 L251.4,121.6 L251.5,128.0 L252.1,121.7 L253.3,118.4 L252.8,116.7 L253.2,116.9 L252.8,111.5 L253.0,116.4 L253.1,119.7 L254.8,113.9 L255.3,106.1 L255.7,92.1 L254.9,85.5 L256.0,84.6 L255.8,85.9 L256.9,82.8 L256.0,80.2 L256.6,85.2 L257.6,86.4 L257.4,90.4 L257.7,87.9 L257.7,92.9 L259.6,96.6 L258.4,97.9 L259.0,97.6 L259.7,97.1 L260.1,102.6 L259.3,96.0 L259.3,98.5 L259.9,99.9 L260.2,98.7 L261.6,104.7 L260.5,106.2 L261.1,115.0 L261.7,115.7 L262.2,121.2 L262.6,115.7 L262.7,117.9 L263.0,119.0 L263.9,120.1 L263.4,118.9 L263.8,118.3 L264.1,119.3 L264.0,116.4 L264.6,123.0 L265.6,126.7 L264.0,116.1 L264.8,121.0 L266.4,119.9 L266.7,115.8 L265.6,114.7 L266.4,117.8 L267.1,122.4 L266.8,119.9 L268.7,122.3 L267.9,124.2 L267.9,128.7 L268.4,131.2 L269.5,129.6 L268.4,133.7 L269.6,132.0 L269.1,138.2 L269.4,140.4 L271.5,141.9 L270.7,147.7 L270.5,144.7 L270.7,140.9 L271.6,145.2 L271.0,140.2 L272.1,148.6 L272.8,145.6 L272.5,147.3 L273.4,142.5 L273.2,140.5 L275.4,141.8 L274.4,144.0 L274.7,146.3 L274.5,147.7 L275.6,141.8 L275.9,140.5 L276.3,143.2 L274.7,141.1 L276.4,146.3 L276.9,142.2 L276.0,149.2 L277.2,147.9 L278.4,150.6 L277.0,149.5 L277.7,149.1 L278.0,158.4 L278.3,146.4 L278.2,145.3 L278.7,143.7 L279.2,145.8 L280.3,143.7 L281.2,145.5 L281.6,140.5 L281.2,149.5 L282.0,145.9 L280.7,144.8 L281.0,145.9 L280.8,152.8 L281.5,156.1 L282.3,150.9 L283.3,155.4 L283.0,153.0 L283.1,163.7 L284.4,165.7 L283.6,161.8 L284.7,156.1 L283.4,150.8 L283.6,155.1 L286.8,150.1 L286.4,155.6 L285.6,157.0 L286.7,163.8 L286.2,157.7 L287.0,159.5 L287.7,161.8 L288.1,163.2 L287.1,171.4 L287.3,166.7 L287.7,167.0 L288.5,169.0 L289.5,168.4 L289.2,171.4 L290.3,170.4 L289.1,169.8 L289.8,168.5 L289.7,171.9 L290.9,162.9 L290.2,168.3 L292.0,168.0 L291.7,164.0 L291.6,170.1 L291.8,172.4 L292.6,170.4 L292.6,170.9 L293.2,168.4 L291.5,170.4 L292.0,165.1 L293.6,169.4 L294.1,169.8 L293.5,171.4 L294.0,174.8 L295.1,170.9 L294.8,176.5 L296.1,174.3 L296.4,174.2 L295.6,171.9 L297.2,165.2 L296.7,167.3 L297.6,165.3 L298.2,161.0 L297.7,163.7 L299.2,166.2 L298.6,156.2 L298.3,164.7 L298.9,164.8 L298.9,165.1 L299.4,155.5 L300.2,151.9 L300.0,145.1 L301.4,145.5 L300.8,138.1 L302.1,130.4 L301.0,122.2 L302.1,113.8 L301.8,117.9 L302.2,116.5 L302.2,106.6 L303.5,105.8 L302.8,105.5 L302.8,112.7 L303.5,104.3 L304.1,101.1 L304.1,90.3 L304.2,91.3 L306.1,91.3 L304.9,96.9 L306.6,103.6 L305.3,100.5 L307.1,106.6 L307.3,108.7 L307.4,107.1 L307.6,102.6 L307.3,108.9 L307.4,111.6 L307.1,110.8 L308.6,112.1 L308.6,104.6 L309.7,115.8 L310.1,117.6 L309.0,115.6 L309.4,115.1 L309.9,120.0 L311.3,113.0 L310.9,112.2 L310.6,108.3 L311.4,107.5 L312.2,107.1 L312.5,106.6 L312.5,107.1 L313.1,116.8 L314.0,120.2 L313.3,115.6 L312.9,119.4 L313.7,121.1 L313.5,110.7 L314.2,113.2 L314.3,108.8 L315.4,105.3 L314.3,108.2 L316.2,100.1 L315.3,105.7 L316.6,99.7 L316.9,96.5 L315.6,93.7 L316.1,92.5 L317.3,92.2 L318.2,95.9 L317.3,96.5 L318.0,94.5 L317.6,95.9 L319.0,98.7 L317.9,94.0 L319.8,95.6 L320.2,94.5 L319.3,92.4 L320.4,91.4 L320.9,93.8 L321.3,89.8 L321.0,96.8 L321.2,97.6 L322.1,100.8 L322.4,105.6 L321.7,109.0 L322.1,108.7 L323.2,114.7 L323.3,112.1 L322.1,112.6 L323.3,116.5 L324.3,113.4 L323.5,110.9 L324.0,111.6 L325.4,113.8 L324.7,122.4 L324.9,114.1 L325.9,113.1 L326.7,110.0 L327.3,105.6 L326.9,100.3 L327.6,108.5 L328.4,110.6 L327.3,108.1 L327.4,112.4 L328.4,111.5 L328.1,124.2 L329.4,127.7 L329.8,128.0 L329.7,125.4 L329.6,134.4 L330.4,126.4 L330.5,123.4 L330.3,125.7 L331.1,126.3 L331.6,110.6 L331.6,108.0 L333.9,107.6 L332.4,102.0 L332.7,94.2 L332.8,92.1 L333.4,93.5 L333.3,90.9 L334.6,87.2 L333.8,89.4 L335.4,93.6 L334.7,89.9 L335.1,87.7 L334.4,80.5 L335.2,89.2 L335.7,80.9 L335.7,83.6 L337.4,79.6 L335.4,81.4 L336.2,83.8 L337.4,78.3 L337.3,81.0 L337.3,83.7 L338.1,85.0 L339.0,90.2 L339.0,94.8 L339.0,96.7 L339.7,101.0 L340.2,91.4 L339.3,92.6 L339.6,96.8 L340.4,99.7 L340.3,101.7 L340.8,103.4 L340.5,102.7 L341.4,109.7 L341.7,105.6 L341.5,110.1 L343.3,110.5 L343.0,114.2 L343.8,117.1 L344.9,112.4 L343.1,109.5 L343.5,110.0 L344.8,104.3 L344.7,100.6 L345.5,104.1 L345.8,105.0 L345.8,104.7 L344.8,96.2 L346.4,96.7 L346.3,99.2 L346.7,96.8 L348.2,95.9 L347.7,92.2 L347.0,98.0 L347.5,89.2 L348.9,87.7 L349.1,82.7 L348.6,85.4 L349.0,90.1 L349.2,94.9 L350.9,94.4 L349.4,94.3 L350.1,100.8 L350.9,91.6 L351.5,98.2 L351.9,99.9 L351.1,98.7 L352.2,108.4 L351.8,99.2 L352.3,100.6 L353.6,101.6 L352.8,98.7 L354.1,96.2 L353.2,99.0 L354.3,108.4 L354.5,105.4 L355.1,103.0 L355.0,116.5 L354.8,123.6 L356.3,117.1 L355.4,123.6 L356.7,114.7 L356.3,122.0 L357.1,124.0 L356.9,118.6 L358.2,118.0 L357.4,111.5 L358.8,111.5 L358.4,109.1 L358.9,105.5 L358.8,109.4 L358.8,111.4 L358.8,109.4 L359.7,101.8 L359.7,105.9 L361.8,107.7 L361.5,124.0 L360.0,121.0 L361.3,127.5 L362.2,120.5 L361.6,112.0 L362.3,116.2 L363.1,114.8 L363.0,108.6 L362.5,98.6 L363.6,93.6 L363.5,95.5 L363.8,93.9 L363.9,92.4 L365.2,97.8 L365.3,105.0 L364.6,101.2 L365.8,101.8 L367.0,110.1 L366.2,107.1 L366.4,105.8 L366.6,107.0 L365.9,115.3 L366.9,110.7 L368.2,104.7 L366.9,104.4 L368.4,104.7 L367.8,95.3 L367.8,97.7 L368.3,96.5 L369.4,92.4 L370.0,90.2 L370.3,98.7 L369.2,102.6 L370.0,98.7 L371.3,98.9 L371.7,100.9 L372.4,104.8 L372.3,105.2 L372.8,109.2 L372.1,104.7 L371.4,107.3 L373.0,114.2 L373.3,113.3 L372.1,111.2 L374.1,113.1 L373.8,117.7 L374.2,117.3 L375.2,120.9 L375.3,122.4 L375.2,121.3 L374.7,119.4 L376.8,125.7 L376.2,126.5 L376.6,119.6 L377.9,124.6 L377.7,125.7 L377.4,119.4 L378.1,127.6 L378.6,121.7 L377.6,124.5 L378.7,121.6 L379.8,114.5 L379.0,120.9 L380.4,114.2 L381.1,118.3 L381.1,111.1 L380.4,106.6 L381.8,116.2 L381.8,118.3 L382.1,122.4 L380.9,127.3 L381.8,124.4 L382.5,126.3 L382.2,125.6 L382.7,125.6 L383.7,126.5 L383.2,132.5 L384.1,132.7 L384.1,126.3 L383.9,134.7 L384.3,132.4 L384.8,129.0 L385.0,136.6 L385.6,143.7 L385.7,146.1 L385.8,147.6 L387.1,145.8 L387.3,145.2 L387.7,141.3 L388.0,136.5 L388.1,139.8 L388.8,135.8 L387.6,142.3 L387.9,143.0 L388.6,136.2 L388.7,138.2 L390.1,134.2 L389.3,149.0 L390.1,151.2 L390.8,153.7 L390.2,151.3 L391.9,146.5 L390.8,150.5 L390.8,152.7 L392.3,150.2 L393.4,157.7 L391.7,160.6 L393.5,161.9 L394.3,163.6 L393.3,170.7 L393.4,168.3 L393.4,161.0 L394.7,167.8 L394.1,166.2 L394.3,169.4 L395.4,169.9 L395.5,174.3 L395.4,169.3 L395.7,165.0 L396.5,179.3 L396.5,178.1 L397.0,187.5 L397.3,181.0 L396.3,175.4 L398.6,174.3 L397.7,171.2 L398.0,174.8 L398.6,176.0 L398.9,176.2 L399.4,182.4 L399.6,178.8 L400.0,173.1 L400.7,175.0 L401.2,179.4 L401.6,178.2 L400.9,180.4 L401.0,178.9 L401.1,173.2 L402.4,184.0 L401.8,177.8 L403.3,179.8 L402.4,178.3 L402.7,184.6 L402.7,188.5 L403.1,189.0 L404.3,188.6 L404.3,193.0 L404.6,198.2 L404.7,196.3 L405.0,197.9 L405.9,200.3 L405.2,200.6 L406.4,202.4 L407.2,200.9 L406.4,204.6 L406.6,203.9 L407.4,198.9 L409.0,199.9 L408.0,197.2 L408.8,201.6 L409.2,199.2 L408.5,205.6 L410.3,206.8 L408.5,211.1 L409.6,206.9 L409.4,213.5 L410.6,211.3 L410.6,208.1 L412.4,213.3 L411.4,207.2 L411.8,206.3 L412.4,210.2 L413.3,209.5 L412.5,204.5 L412.9,201.4 L413.0,204.3 L413.0,201.4 L414.0,206.6 L414.4,198.0 L414.7,196.1 L414.2,193.5 L414.8,199.4 L414.3,203.1 L415.2,203.8 L415.3,204.0 L416.5,210.0 L416.9,206.7 L415.7,208.5 L417.2,206.8 L416.9,204.5 L417.7,199.9 L418.1,194.3 L417.1,199.3 L419.6,204.5 L418.6,209.4 L418.6,213.8 L418.7,205.9 L419.0,214.1 L420.6,207.9 L420.4,207.2 L421.1,209.8 L420.4,212.0 L422.3,209.5 L421.2,213.5 L422.4,212.1 L422.1,214.5 L423.7,220.1 L422.3,213.4 L423.1,217.8 L423.0,215.4 L424.2,222.1 L425.2,223.3 L423.5,223.2 L424.9,225.2 L425.3,229.5 L424.7,230.7 L424.8,231.2 L426.5,231.1 L426.6,232.8 L425.5,231.4 L427.1,230.2 L427.6,234.2 L428.4,234.0 L427.0,239.7 L427.6,241.7 L428.9,238.9 L427.8,235.8 L428.8,233.5 L429.7,228.7 L429.7,234.9 L427.9,231.9 L429.4,238.3 L431.2,229.6 L430.8,231.3 L431.5,234.9 L433.0,228.2 L432.2,229.4 L432.0,227.0 L432.5,226.1 L432.0,227.5 L432.7,230.5 L432.9,231.4 L433.3,229.0 L434.3,230.4 L435.4,224.2 L433.1,227.2 L435.3,227.0 L436.2,229.3 L435.8,233.3 L435.2,230.0 L436.8,237.3 L436.1,232.7 L435.6,232.3 L434.7,223.9 L436.8,219.4 L437.1,210.3 L438.4,205.9 L437.5,188.0 L438.8,189.8 L438.6,185.0 L439.6,180.4 L439.1,176.1 L438.9,165.5 L440.8,160.1 L440.2,148.3 L441.2,147.5 L439.8,132.2 L440.4,133.9 L441.8,134.2 L441.3,127.1 L441.3,126.8 L441.6,121.8 L442.3,119.8 L443.7,120.4 L443.2,122.9 L442.9,120.2 L442.9,119.5 L443.5,121.0 L444.5,116.8 L444.2,123.7 L444.9,116.5 L445.7,114.8 L446.6,116.5 L446.3,118.1 L445.9,116.1 L447.2,122.9 L446.2,128.4 L446.5,126.6 L447.0,137.0 L448.4,146.9 L448.0,149.1 L448.6,159.4 L448.6,159.8 L448.7,158.3 L449.2,167.9 L448.9,162.7 L449.9,164.6 L450.4,166.3 L450.3,159.6 L449.9,159.6 L450.5,165.1 L450.6,159.9 L450.0,157.1 L452.7,150.9 L451.8,154.5 L453.0,151.7 L452.2,154.3 L452.9,152.0 L452.9,155.5 L453.4,160.6 L452.9,150.4 L454.1,152.8 L454.3,145.4 L455.2,141.0 L453.5,136.8 L455.8,132.7 L455.0,124.6 L456.0,123.9 L457.2,120.6 L456.2,117.4 L456.7,120.4 L456.9,115.4 L457.0,113.7 L456.7,111.4 L458.1,115.6 L457.9,115.1 L457.5,120.5 L457.9,123.6 L459.8,130.5 L458.5,129.3 L460.7,125.6 L460.9,129.9 L460.0,136.0 L461.0,130.8 L460.5,137.3 L463.2,133.2 L462.0,134.9 L462.0,136.4 L462.2,135.7 L461.4,137.8 L462.4,140.2 L463.1,146.3 L463.6,141.9 L464.1,143.5 L464.4,140.4 L463.1,140.9 L464.5,148.1 L464.4,150.5 L464.8,145.7 L464.0,142.0 L465.3,149.1 L467.0,145.7 L466.6,146.5 L466.6,142.5 L467.6,137.8 L466.8,139.1 L467.8,127.4 L467.5,133.5 L468.5,130.4 L468.6,128.2 L469.5,125.5 L468.8,134.3 L469.5,137.5 L469.9,136.2 L470.1,130.8 L471.0,126.9 L471.4,127.5 L470.9,128.3 L471.6,121.4 L471.2,128.6 L471.8,119.8 L471.5,121.3 L472.8,120.5 L473.0,126.0 L472.9,124.7 L473.8,131.7 L473.2,124.4 L472.7,122.9 L473.6,130.2 L475.0,125.2 L474.2,129.2 L475.2,133.6 L475.2,132.6 L475.3,139.6 L475.9,145.5 L477.9,152.6 L475.6,150.6 L477.8,154.8 L476.8,149.2 L478.7,147.9 L477.2,156.0 L478.1,156.2 L477.9,156.8 L479.1,159.2 L480.6,153.0 L479.3,158.0 L480.4,148.4 L480.9,156.4 L479.9,152.3 L479.9,152.9 L480.5,148.0 L481.0,149.0 L481.5,148.0 L482.2,140.4 L482.1,139.2 L482.7,143.2 L482.3,148.1 L482.2,159.0 L483.3,158.1 L483.5,160.8 L483.6,157.5 L484.1,153.2 L483.6,151.5 L485.5,144.3 L483.3,144.9 L484.4,141.7 L485.4,132.6 L486.2,131.5 L486.1,130.4 L486.1,130.4 L487.1,129.2 L487.7,136.9 L488.2,126.3 L487.8,125.6 L487.5,122.1 L488.0,120.5 L488.2,127.7 L488.6,128.1 L490.1,134.6 L489.2,134.7 L489.4,141.1 L489.6,141.8 L490.0,145.1 L490.0,144.6 L490.5,125.1 L491.4,125.0 L491.5,123.5 L491.7,119.8 L491.4,107.0 L491.9,97.5 L493.2,95.4 L492.4,92.4 L494.1,106.5 L493.2,124.7 L493.1,132.7 L494.1,132.6 L495.3,133.7 L494.6,126.8 L495.0,123.4 L495.6,123.2 L495.5,123.0 L496.1,123.2 L495.2,129.9 L495.6,126.9 L496.2,129.9 L497.3,131.6 L498.2,138.2 L497.5,141.7 L498.3,137.6 L499.2,138.7 L499.8,143.1 L498.8,144.5 L498.8,150.8 L499.6,143.8 L501.1,143.0 L500.1,137.9 L499.6,134.9 L500.5,137.6 L500.6,139.7 L502.3,142.4 L501.6,145.6 L503.5,150.2 L503.0,152.5 L502.8,167.5 L502.6,162.3 L502.9,168.3 L504.5,162.7 L503.6,168.5 L503.3,162.7 L503.6,158.8 L504.6,149.1 L505.8,155.3 L505.8,159.2 L505.8,165.9 L506.2,160.4 L505.7,160.7 L506.7,163.2 L506.8,163.1 L508.5,158.5 L507.3,159.6 L507.0,157.5 L506.9,157.4 L508.8,165.3 L507.7,165.1 L508.5,157.5 L509.8,161.4 L510.0,165.3 L509.9,168.2 L510.0,163.5 L511.1,169.6 L510.5,168.7 L511.2,166.7 L511.5,162.2 L510.9,161.7 L511.4,158.6 L512.6,159.2 L512.6,151.5 L512.2,153.4 L512.9,156.2 L512.9,155.9 L513.2,161.9 L513.2,162.9 L514.5,160.6 L514.9,159.4 L514.3,154.2 L515.6,155.7 L516.1,154.4 L515.8,150.2 L516.5,141.7 L516.1,134.9 L517.1,130.9 L517.0,119.9 L517.5,116.1 L518.0,114.3 L518.6,115.1 L518.3,115.6 L517.8,117.5 L517.8,115.0 L519.7,115.0 L519.1,111.0 L519.8,116.4 L520.7,111.3 L520.5,109.1 L520.3,108.3 L520.9,107.3 L521.1,112.2 L521.2,107.7 L521.5,110.4 L521.7,108.8 L523.2,115.1 L522.6,116.1 L523.7,117.5 L523.4,118.9 L523.0,120.5 L523.9,117.5 L524.0,127.8 L524.6,127.4 L524.1,124.0 L524.7,115.8 L524.6,116.7 L525.3,117.3 L526.4,116.4 L526.4,120.1 L526.2,116.7 L527.4,119.9 L527.5,116.3 L527.7,120.5 L527.4,115.2 L528.5,123.9 L528.5,116.0 L528.3,115.0 L528.8,112.8 L529.4,116.9 L530.0,107.1 L529.1,114.8 L530.2,108.2 L529.9,109.5 L529.9,103.7 L530.8,103.6 L530.2,105.6 L531.1,102.4 L531.7,99.2 L532.6,100.0 L532.3,101.7 L532.8,102.9 L533.2,102.9 L534.2,99.5 L533.6,100.0 L534.1,103.5 L533.8,107.2 L534.5,104.6 L535.4,109.2 L534.9,104.8 L536.1,114.0 L534.9,118.3 L535.9,118.8 L536.3,119.2 L537.0,119.2 L537.2,115.4 L537.1,111.3 L537.3,107.7 L537.8,105.0 L538.1,99.9 L538.4,114.2 L539.1,123.0 L538.6,117.5 L540.0,117.9 L540.3,118.9 L540.4,119.7 L539.6,118.4 L541.1,129.0 L540.2,130.0 L542.2,125.5 L541.6,119.5 L541.8,119.3 L542.2,113.2 L542.3,115.5 L542.6,121.7 L542.1,115.9 L542.8,125.3 L543.7,125.6 L543.8,126.4 L544.3,124.1 L544.0,122.2 L543.9,122.4 L545.0,124.2 L545.5,120.7 L546.0,109.7 L546.4,117.6 L546.1,114.6 L547.1,111.3 L547.5,111.2 L548.7,113.0 L548.5,105.5 L546.8,110.4 L548.4,108.8 L548.5,108.7 L547.9,108.7 L548.6,117.2 L549.5,117.8 L549.4,122.2 L549.1,122.7 L551.3,123.3 L551.1,121.9 L551.4,127.2 L550.9,128.5 L551.3,131.5 L551.9,127.2 L551.4,125.9 L552.6,121.4 L553.4,124.2 L553.6,129.0 L552.7,132.3 L552.4,130.0 L554.2,131.5 L554.5,135.0 L554.6,131.4 L554.8,135.6 L555.9,135.6 L556.0,143.2 L555.7,140.2 L555.7,144.0 L556.8,140.7 L556.4,147.4 L557.2,145.3 L558.0,145.4 L557.6,150.1 L557.2,150.5 L556.9,155.8 L558.5,162.3 L558.4,169.6 L559.5,174.2 L558.5,175.7 L559.7,191.4 L560.3,187.7 L560.4,194.8 L560.7,196.1 L560.4,199.3 L561.1,204.4 L561.7,206.3 L562.2,213.2 L562.8,217.2 L563.2,220.8 L561.2,219.7 L562.1,221.8 L564.0,220.3 L563.7,226.8 L564.3,230.3 L564.4,239.4 L564.8,231.2 L564.1,236.2 L565.1,238.5 L564.9,243.8 L565.5,239.0 L566.2,241.6 L567.0,233.4 L566.5,231.6 L566.6,229.5 L567.0,230.4 L567.3,229.2 L567.8,229.4 L567.5,231.5 L568.7,234.0 L568.0,240.2 L568.1,241.4 L570.0,239.3 L570.3,234.9 L569.3,233.9 L570.6,236.8 L570.4,231.7 L571.0,231.7 L570.9,231.6 L571.5,232.7 L572.5,237.0 L572.5,234.4 L572.0,244.1 L572.2,238.7 L573.4,232.0 L572.5,238.8 L572.6,234.6 L573.3,236.3 L574.4,235.3 L575.4,235.9 L574.0,233.7 L574.8,234.5 L574.6,232.1 L576.0,241.7 L575.9,237.6 L577.4,237.9 L576.1,236.3 L576.9,239.1 L577.0,231.3 L577.9,235.7 L577.1,232.2 L577.5,232.0 L578.2,239.0 L578.0,242.4 L579.1,240.6 L579.4,241.9 L579.6,240.8 L580.1,252.5 L579.9,244.9 L579.9,242.6 L580.9,235.6 L581.1,233.2 L581.6,238.5 L582.8,235.2 L582.4,240.8 L582.9,240.2 L582.1,242.3 L583.6,235.4 L583.1,236.8 L584.0,236.4 L582.9,238.1 L584.0,245.3 L583.9,242.1 L585.4,239.3 L584.9,236.9 L585.8,232.2 L585.2,231.1 L584.4,231.1 L585.2,229.2 L586.0,232.1 L587.1,228.2 L586.5,228.2 L588.3,219.4 L587.5,232.2 L587.6,234.3 L588.7,224.8 L588.5,233.6 L588.4,232.5 L587.9,233.4 L589.6,234.6 L590.4,234.5 L589.5,238.4 L590.8,237.1 L590.4,243.2 L591.4,242.3 L591.2,241.4 L592.0,245.3 L591.7,246.8 L592.4,244.9 L592.2,246.6 L593.1,243.6 L593.2,241.2 L592.9,239.7 L593.4,235.2 L593.4,234.9 L594.9,233.5 L592.8,237.5 L594.9,238.8 L595.3,240.6 L595.6,238.6 L597.3,236.7 L596.0,240.9 L596.7,228.6 L596.3,232.1 L595.9,236.5 L596.3,237.3 L598.0,235.7 L598.4,232.3 L597.2,234.6 L597.4,238.3 L598.7,236.0 L599.5,238.1 L598.7,231.7 L598.8,237.2 L600.4,233.4 L599.5,234.6 L600.7,232.1 L600.7,235.3 L601.9,233.1 L600.9,233.3 L601.4,236.2 L601.6,226.6 L602.8,230.6 L602.2,234.5 L603.1,228.9 L602.3,228.7 L603.7,228.6 L603.1,232.3 L603.3,229.3 L604.7,240.4 L604.2,234.3 L604.7,243.7 L606.7,242.4 L605.3,233.7 L605.5,229.4 L605.6,227.5 L606.0,226.6 L607.0,233.1 L607.4,232.9 L606.4,235.5 L606.6,235.8 L607.2,230.2 L608.8,229.2 L608.9,231.4 L609.4,232.9 L608.9,232.7 L609.5,227.5 L609.4,235.7 L610.4,234.0 L610.4,238.3 L610.5,235.3 L611.2,237.8 L611.5,235.5 L611.1,234.6 L610.8,238.8 L612.0,234.9 L611.2,239.0 L612.4,237.4 L613.1,242.3 L612.5,236.8 L613.5,239.2 L614.2,230.7 L614.8,230.7 L614.9,232.3 L615.7,233.6 L615.6,236.6 L616.6,235.7 L615.5,232.5 L616.5,230.3 L615.8,224.1 L616.2,231.6 L617.9,218.4 L617.8,232.0 L617.8,224.6 L618.3,225.3 L617.9,219.0 L618.2,212.1 L619.0,215.0 L618.5,212.5 L619.4,209.5 L619.7,210.3 L619.7,208.9 L619.3,202.8 L620.5,194.9 L621.5,197.5 L621.0,197.9 L621.2,192.3 L622.3,194.7 L622.2,193.4 L621.9,191.8 L623.4,188.4 L622.0,193.0 L622.2,181.0 L623.0,174.7 L623.1,172.2 L624.7,163.1 L625.1,160.9 L624.5,152.3 L625.4,147.2 L626.1,139.8 L626.1,133.4 L625.5,131.6 L626.6,123.4 L625.0,114.4 L626.5,109.7 L625.9,106.2 L626.8,111.2 L627.8,104.5 L628.2,104.7 L629.0,108.6 L627.0,105.9 L629.5,103.1 L629.6,107.7 L629.2,107.9 L630.1,105.8 L630.3,103.1 L631.5,106.1 L630.5,105.1 L632.2,111.5 L630.7,110.2 L631.8,113.7 L630.8,120.0 L632.9,122.8 L632.1,129.8 L632.1,130.2 L633.3,132.3 L635.0,123.8 L633.9,124.4 L633.7,121.8 L634.8,123.7 L634.1,122.2 L636.4,127.3 L634.9,132.3 L636.6,137.2 L635.5,142.5 L636.5,142.9 L636.5,135.5 L637.8,144.5 L637.2,143.1 L636.9,142.0 L637.3,145.7 L638.0,143.2 L638.5,127.9 L637.4,130.9 L639.2,119.0 L638.6,111.7 L639.4,108.7 L640.3,102.4 L640.7,95.8 L640.0,95.1 L640.9,91.0 L640.8,95.6 L640.7,101.3 L641.4,106.4 L641.2,113.9 L642.1,122.3 L642.4,116.3 L643.1,108.7 L644.0,109.1 L642.7,102.7 L643.7,101.6 L642.8,101.7 L643.6,93.5 L644.8,100.3 L645.0,99.8 L645.6,92.6 L645.6,98.8 L646.0,92.1 L644.9,97.3 L646.4,91.6 L647.6,101.4 L647.3,103.1 L648.2,107.2 L647.8,105.6 L648.3,114.3 L648.0,110.9 L648.4,112.3 L649.3,116.4 L649.4,111.6 L648.0,115.9 L648.7,118.8 L649.8,123.4 L650.1,131.4 L651.3,130.0 L649.7,128.9 L650.9,130.0 L651.0,131.1 L650.8,133.1 L651.0,134.5 L652.5,133.2 L652.2,131.1 L652.6,125.7 L654.3,129.0 L653.7,114.7 L653.8,110.7 L653.4,107.4 L654.4,93.6 L654.5,98.2 L654.5,102.4 L654.7,101.0 L655.0,100.0 L656.5,96.6 L655.7,89.4 L656.8,88.7 L656.5,95.1 L658.0,101.2 L657.2,105.4 L658.1,109.2 L658.3,114.5 L657.5,101.2 L657.6,100.7 L658.4,94.8 L659.8,94.0 L659.5,83.9 L660.5,83.7 L659.8,85.2 L660.1,88.7 L660.7,95.6 L661.7,98.5 L661.4,101.4 L662.3,103.5 L661.0,99.7 L661.0,97.3 L662.0,99.2 L663.4,103.5 L663.4,105.9 L663.3,101.1 L664.0,98.3 L663.4,102.8 L664.5,110.3 L664.8,116.1 L664.5,119.0 L666.4,124.7 L665.0,127.8 L665.8,132.7 L667.1,135.8 L666.3,140.2 L666.2,143.0 L666.8,135.7 L667.9,139.8 L667.8,133.4 L668.7,129.0 L668.7,118.6 L668.4,119.9 L668.5,110.8 L669.0,108.3 L670.5,102.8 L669.7,102.6 L670.2,98.4 L670.6,96.9 L670.2,101.1 L671.9,99.1 L670.8,97.8 L672.6,90.1 L671.1,86.4 L671.2,91.5 L673.2,86.9 L672.7,92.1 L672.5,91.9 L673.4,92.9 L673.8,96.8 L673.9,93.0 L674.4,85.0 L674.7,94.7 L674.2,100.5 L675.6,98.6 L676.4,102.6 L675.2,102.5 L675.7,102.2 L676.6,99.9 L675.7,99.1 L676.0,102.8 L677.5,102.1 L677.5,105.5 L677.3,99.8 L678.3,99.3 L678.3,106.7 L679.6,102.6 L679.5,107.9 L678.4,107.4 L679.4,109.3 L679.5,113.1 L680.4,113.7 L680.4,117.6 L681.2,119.5 L680.1,119.5 L681.4,118.0 L681.9,122.5 L681.7,118.8 L681.7,124.9 L682.8,121.0 L682.6,125.1 L683.9,122.0 L683.1,113.9 L684.3,118.9 L683.9,118.9 L683.6,110.4 L684.4,110.4 L684.3,104.1 L685.1,98.8 L686.3,97.4 L685.9,95.4 L685.8,87.1 L686.8,92.0 L687.3,81.3 L687.1,85.9 L687.2,79.3 L689.0,79.6 L687.7,77.1 L688.6,78.7 L689.0,71.8 L689.4,71.6 L689.0,76.9 L689.7,83.1 L689.5,83.5 L690.2,85.8 L691.7,97.6 L690.0,94.0 L691.7,100.3 L692.2,102.8 L691.8,107.6 L692.6,110.1 L691.5,105.7 L693.1,100.3 L692.2,107.8 L693.9,105.8 L694.3,106.5 L693.4,109.3 L693.0,118.5 L694.9,114.0 L695.6,114.2 L695.1,123.3 L693.9,118.3 L695.3,124.0 L694.3,118.9 L696.5,121.6 L695.1,118.0 L696.0,125.3 L696.8,120.3 L697.3,134.8 L696.9,130.5 L698.4,126.8 L697.3,123.7 L698.7,117.5 L699.0,125.8 L698.9,126.7 L699.6,129.5 L699.2,130.5 L700.1,133.6 L700.6,138.0 L699.8,137.8 L700.7,141.8 L701.7,140.4 L701.1,142.2 L701.1,143.1 L702.9,141.0 L702.3,145.0 L702.3,137.5 L702.3,135.4 L703.4,141.4 L703.3,140.5 L702.5,145.0 L704.8,139.9 L704.1,138.5 L705.0,141.9 L704.7,138.3 L706.1,141.1 L706.3,146.6 L706.9,147.3 L706.8,151.3 L708.2,145.8 L706.8,147.1 L707.6,145.8 L706.5,142.2 L707.3,140.9 L708.7,139.8 L707.6,145.8 L708.4,141.6 L708.7,142.2 L708.7,140.6 L709.7,139.8 L709.3,142.4 L709.8,144.3 L710.3,146.4 L711.4,152.2 L709.8,150.7 L710.5,150.3 L711.8,158.2 L712.5,155.7 L712.6,161.8 L712.8,161.3 L712.8,162.8 L713.5,160.5 L714.8,173.4 L714.6,166.0 L713.7,167.7 L714.2,168.7 L715.5,166.2 L714.8,171.3 L715.0,169.6 L714.8,169.1 L716.4,171.1 L717.1,177.1 L716.5,177.0 L716.6,175.3 L717.3,178.4 L717.6,177.5 L718.0,177.4 L718.3,179.3 L718.5,175.2 L719.0,171.2 L719.6,170.3 L719.2,171.4 L719.6,169.0 L720.0,167.5 L718.7,172.1 L721.2,170.5 L720.6,168.2 L721.1,167.0 L721.0,167.7 L721.4,166.0 L722.5,157.0 L722.8,159.2 L722.6,155.2 L722.9,158.5 L723.6,158.4 L722.4,158.9 L723.7,160.4 L724.5,165.4 L726.0,169.1 L724.4,171.2 L725.5,166.9 L724.7,165.7 L725.1,162.7 L725.5,168.3 L724.9,168.3 L726.5,161.3 L726.5,159.5 L727.3,156.6 L727.2,155.7 L728.6,163.1 L727.2,169.6 L726.9,171.7 L728.0,170.0 L727.9,174.2 L729.3,165.2 L729.7,161.8 L729.5,161.4 L730.8,152.0 L729.4,153.2 L730.3,150.3 L731.7,155.0 L730.4,144.2 L730.7,145.3 L732.1,138.3 L732.1,129.5 L732.9,117.8 L733.0,108.7 L732.7,110.4 L733.8,106.0 L733.7,102.1 L733.1,105.1 L734.6,97.4 L733.5,102.1 L734.8,101.4 L735.1,105.7 L735.4,105.5 L736.1,110.6 L736.4,111.0 L736.1,109.3 L736.7,110.9 L736.8,106.7 L736.5,102.3 L737.2,107.3 L737.3,104.4 L736.4,109.2 L738.6,109.7 L738.4,117.2 L738.9,115.0 L739.0,121.7 L739.4,122.1 L739.9,123.1 L740.1,122.4 L740.9,122.3 L741.2,111.6 L740.6,113.9 L741.0,117.7 L741.1,121.1 L741.4,120.7 L742.9,128.0 L742.5,117.5 L743.0,123.7 L743.2,124.0 L742.9,126.5 L744.3,123.1 L744.7,128.1 L744.7,126.6 L744.4,125.9 L744.4,120.3 L745.6,116.6 L746.4,116.8 L746.2,113.1 L745.8,106.3 L746.6,104.6 L746.6,97.0 L745.8,105.0 L745.7,100.1 L747.0,100.3 L747.6,98.9 L748.3,92.1 L748.7,93.9 L748.2,90.7 L750.6,88.8 L749.2,85.0 L750.3,91.6 L750.6,93.6 L750.3,96.5 L750.1,95.8 L752.2,95.0 L751.0,95.3 L751.2,104.6 L752.4,102.5 L753.1,94.4 L753.2,106.2 L753.4,103.4 L753.3,108.2 L753.8,114.4 L753.1,110.7 L755.0,115.4 L755.4,110.6 L755.8,115.8 L756.2,105.9 L756.7,110.6 L755.2,110.7 L756.0,107.2 L756.2,113.8 L756.8,112.7 L757.5,115.3 L756.0,116.9 L757.0,123.8 L757.2,118.0 L759.1,128.6 L758.2,130.8 L758.5,122.7 L757.9,118.8 L758.4,116.8 L759.3,119.6 L759.4,118.4 L760.1,112.0 L759.9,117.1 L760.3,116.6 L760.6,121.3 L761.3,122.4 L760.9,118.9 L761.6,115.2 L762.1,110.5 L762.6,106.3 L762.4,108.1 L763.2,110.8 L762.6,108.3 L764.3,116.7 L764.7,103.8 L763.9,102.2 L764.2,100.9 L764.9,103.3 L765.3,95.4 L765.2,110.0 L765.4,104.2 L766.9,98.2 L765.9,97.9 L766.6,96.5 L767.1,93.9 L767.4,97.0 L767.5,96.4 L767.8,98.0 L768.0,100.1 L768.9,97.4 L769.3,107.3 L770.5,112.2 L769.8,115.9 L770.4,111.4 L768.6,114.4 L769.3,117.5 L770.9,119.6 L769.9,112.7 L770.6,118.6 L771.4,114.4 L771.3,127.6 L772.2,125.4 L771.1,126.8 L773.1,127.3 L773.2,134.4 L773.6,130.4 L774.1,131.6 L773.8,132.9 L774.5,134.2 L774.7,134.1 L773.9,135.9 L775.3,133.6 L776.8,139.4 L775.4,131.9 L775.5,136.3 L776.4,125.2 L775.9,122.5 L776.6,112.2 L778.2,110.3 L776.7,110.7 L776.7,108.3 L778.4,100.6 L778.8,101.5 L778.1,96.0 L778.6,93.3 L779.4,91.6 L779.1,88.2 L779.2,91.1 L780.3,89.7 L780.7,85.4 L780.6,83.1 L781.7,84.4 L781.6,90.6 L781.7,96.7 L781.7,96.9 L781.7,104.0 L781.8,109.6 L783.6,104.2 L783.2,103.3 L784.2,105.2 L783.3,98.6 L784.5,99.5 L784.5,99.8 L784.1,101.6 L785.3,109.0 L786.6,117.2 L785.8,116.2 L785.9,110.4 L786.6,114.1 L785.5,112.5 L787.0,109.5 L786.8,106.9 L787.2,107.7 L787.9,108.1 L787.0,110.0 L789.0,107.5 L787.4,114.2 L788.7,109.5 L789.4,112.3 L789.6,121.2 L789.5,126.9 L791.0,128.2 L789.9,121.5 L791.1,120.8 L791.0,111.3 L791.0,109.9 L791.3,111.5 L793.2,117.3 L792.9,116.0 L792.2,107.2 L791.5,103.1 L793.5,100.1 L793.6,96.6 L793.6,96.4 L794.0,91.9 L793.0,93.7 L794.0,94.0 L794.7,91.2 L794.3,87.2 L797.0,89.4 L794.8,84.2 L796.0,95.2 L796.4,102.1 L795.9,91.0 L796.1,100.8 L797.9,100.0 L798.0,95.4 L796.8,105.2 L798.8,103.4 L799.1,110.2 L799.8,115.3 L798.3,107.1 L799.5,112.6 L799.0,120.8 L799.5,120.1 L799.5,116.0 L799.9,117.0 L801.1,121.3 L801.7,122.3 L802.1,124.8 L801.3,129.1 L802.1,131.0 L802.0,129.4 L803.3,136.4 L802.8,132.5 L803.4,133.3 L803.5,133.4 L804.1,140.6 L804.0,143.4 L804.3,132.1 L804.3,137.1 L803.8,140.3 L805.8,130.2 L805.1,126.4 L807.2,133.0 L806.7,127.4 L806.3,127.3 L806.4,119.4 L806.4,128.8 L807.8,127.1 L807.6,131.7 L808.5,131.6 L808.3,134.3 L809.5,134.1 L808.5,145.1 L809.0,135.3 L809.5,137.8 L809.7,139.4 L809.8,132.8 L809.9,137.0 L810.4,136.8 L811.6,140.2 L810.8,138.8 L811.6,141.3 L811.8,137.7 L814.1,142.5 L812.4,139.5 L813.5,139.5 L813.7,138.9 L813.7,139.7 L814.4,140.3 L814.0,142.3 L813.9,147.0 L814.2,144.2 L815.6,146.7 L815.5,144.0 L815.7,149.1 L815.3,140.1 L815.1,140.9 L817.5,138.7 L816.6,138.5 L816.9,140.8 L817.0,135.9 L817.9,134.7 L817.5,142.3 L818.4,141.0 L818.9,140.4 L817.5,146.3 L817.9,147.3 L819.4,148.5 L820.1,150.0 L819.7,150.6 L820.2,149.1 L819.6,154.2 L820.8,152.5 L820.7,151.5 L821.8,155.4 L821.4,149.0 L822.1,150.2 L822.1,151.5 L823.1,156.3 L823.3,149.0 L822.8,150.3 L824.4,156.2 L823.7,160.3 L824.6,163.2 L823.5,164.7 L825.2,157.2 L824.1,161.6 L824.7,168.6 L825.9,171.5 L825.3,172.8 L826.1,170.6 L827.1,171.0 L826.5,170.7 L826.3,173.1 L828.2,169.7 L828.5,169.9 L828.1,170.2 L829.0,169.4 L827.8,175.0 L829.3,167.3 L829.1,172.3 L829.6,172.5 L830.6,165.8 L831.2,165.8 L831.3,166.5 L829.8,161.8 L832.2,159.5 L831.9,160.0 L831.6,155.0 L832.0,156.3 L831.4,158.1 L831.4,163.3 L833.1,165.6 L832.8,162.4 L833.9,171.7 L834.2,172.2 L834.5,168.1 L834.3,162.1 L834.3,160.1 L834.8,161.1 L834.4,152.7 L835.7,156.3 L835.7,154.0 L837.8,153.6 L836.6,154.4 L837.1,146.9 L837.2,141.4 L838.4,135.2 L837.4,132.1 L837.2,118.8 L837.9,123.5 L838.6,117.1 L839.7,116.5 L838.0,116.0 L839.7,111.5 L839.1,116.3 L839.4,108.3 L840.0,103.7 L840.5,101.6 L840.6,103.2 L841.3,99.9 L841.4,99.6 L842.2,100.3 L842.4,101.3 L841.9,96.6 L843.0,101.5 L842.9,107.1 L843.3,104.0 L843.7,106.2 L844.5,110.9 L844.9,113.0 L844.2,113.0 L844.2,112.1 L845.4,106.0 L846.0,106.6 L845.2,102.2 L845.7,109.5 L847.5,105.4 L846.3,106.9 L846.9,106.0 L847.3,106.5 L849.0,109.4 L846.9,110.6 L847.3,112.2 L847.6,112.7 L849.1,106.8 L849.1,108.1 L849.7,119.3 L850.6,119.0 L849.9,127.6 L851.4,123.0 L850.4,122.8 L851.3,122.8 L853.2,127.6 L852.2,121.1 L852.0,123.8 L852.4,125.8 L852.7,117.2 L852.2,116.3 L853.7,112.7 L853.3,113.5 L853.3,110.6 L853.9,112.4 L854.7,102.6 L852.6,99.2 L854.6,103.5 L854.4,100.4 L856.0,108.0 L855.9,107.8 L856.2,102.5 L855.4,100.2 L856.6,98.3 L857.0,103.1 L857.6,101.4 L857.3,105.4 L858.4,105.0 L858.0,105.8 L858.0,104.6 L858.4,108.4 L858.7,114.8 L859.2,114.2 L859.7,114.2 L858.9,115.0 L861.1,121.3 L860.7,115.0 L861.5,118.3 L861.6,113.5 L861.0,115.4 L861.2,108.2 L862.0,115.5 L862.8,105.2 L862.4,114.4 L863.4,118.7 L863.5,121.5 L863.4,123.1 L864.6,125.7 L863.6,129.8 L864.6,131.9 L864.5,129.7 L865.3,140.4 L866.1,133.1 L865.9,136.4 L865.7,141.1 L865.6,135.1 L867.1,136.8 L866.7,130.9 L866.2,132.2 L868.7,130.4 L867.8,131.7 L867.7,131.5 L867.5,123.5 L869.1,119.5 L869.8,115.6 L869.0,107.9 L870.5,109.8 L870.3,101.5 L870.5,100.4 L870.1,98.9 L871.9,92.2 L871.4,90.3 L870.7,85.8 L871.7,91.8 L872.2,87.1 L871.7,89.2 L872.5,97.5 L872.3,95.6 L872.9,97.8 L874.7,99.8 L874.3,95.7 L874.1,95.6 L875.9,92.2 L874.3,90.7 L875.8,94.1 L874.7,94.8 L875.6,102.7 L875.6,103.2 L875.7,110.5 L876.3,110.1 L875.8,104.1 L877.2,115.9 L876.7,111.3 L878.0,112.8 L879.5,115.2 L878.1,110.8 L878.1,111.0 L878.4,115.2 L879.3,119.7 L879.0,115.2 L879.1,116.0 L880.5,118.6 L879.6,119.4 L880.5,125.1 L881.1,128.3 L880.4,124.8 L881.6,130.1 L881.1,130.2 L882.3,121.2 L882.4,123.6 L881.5,122.8 L881.4,128.8 L883.9,131.2 L883.5,129.1 L883.6,132.0 L884.9,136.1 L884.5,122.2 L885.8,117.9 L884.6,111.6 L883.9,102.3 L886.1,99.1 L886.5,89.3 L886.0,91.0 L886.8,88.9 L886.8,93.0 L887.8,102.2 L888.4,100.2 L888.4,98.4 L887.6,102.1 L888.2,108.5 L887.8,104.0 L888.7,105.4 L889.1,98.6 L889.1,100.6 L889.5,93.4 L889.8,96.8 L891.1,93.9 L890.5,103.6 L891.0,104.6 L891.7,110.4 L890.6,107.3 L892.2,113.1 L891.7,112.1 L892.6,109.9 L892.6,109.8 L892.7,108.1 L893.0,108.3 L893.5,107.1 L894.4,117.0 L893.9,113.3 L895.2,122.5 L894.3,111.7 L894.5,115.8 L895.6,112.6 L894.7,114.5 L895.3,117.6 L896.4,112.4 L896.7,108.8 L897.8,105.3 L896.8,103.2 L897.7,103.1 L898.1,107.2 L898.6,113.2 L898.9,119.7 L898.3,119.6 L900.4,122.4 L900.2,117.8 L901.2,121.7 L899.8,117.9 L900.0,116.3 L900.8,116.7 L901.3,116.6 L901.7,112.6 L902.8,107.0 L900.5,104.7 L902.5,101.3 L901.6,112.5 L902.9,111.1 L903.7,103.1 L903.6,103.9 L902.4,104.1 L903.0,104.8 L904.4,101.8 L904.1,104.2 L905.6,107.1 L905.6,112.6 L905.0,112.5 L905.8,108.3 L905.5,105.6 L906.9,106.5 L908.3,108.6 L908.4,110.1 L907.4,107.8 L906.6,114.4 L907.9,120.8 L907.4,116.1 L908.5,115.7 L909.3,117.0 L908.7,122.8 L909.4,124.7 L910.1,125.5 L909.3,124.7 L910.2,120.8 L910.8,118.9 L911.1,121.7 L910.8,117.1 L911.0,116.2 L912.0,117.1 L912.8,118.7 L912.7,118.4 L912.6,121.1 L912.3,126.9 L913.8,129.6 L914.1,129.6 L913.2,131.7 L914.5,134.1 L914.0,133.4 L915.4,134.4 L914.8,131.5 L915.5,133.7 L916.3,130.4 L916.5,127.7 L916.4,128.5 L916.1,133.7 L916.8,125.1 L916.5,131.8 L918.3,135.1 L918.1,144.2 L918.7,136.2 L917.7,138.1 L919.2,134.0 L917.8,138.9 L921.0,143.1 L918.9,135.9 L920.7,134.2 L920.0,134.1 L920.3,138.4 L920.9,136.2 L921.5,143.7 L920.7,139.9 L921.9,147.8 L922.4,144.3 L922.1,145.3 L923.7,136.9 L923.0,131.0 L922.6,134.9 L925.1,140.8 L923.9,142.4 L924.0,141.6 L924.9,137.5 L923.3,138.1 L926.0,130.5 L924.8,141.7 L925.8,140.0 L926.2,141.6 L927.4,147.4 L926.5,146.6 L926.7,153.5 L926.1,150.2 L927.7,153.0 L927.2,149.1 L928.4,149.6 L927.5,150.4 L929.4,151.2 L928.9,147.5 L928.9,144.8 L929.1,146.5 L930.7,153.5 L929.5,150.7 L930.1,152.6 L930.8,157.2 L931.0,159.4 L931.4,160.7 L931.6,160.3 L931.6,162.5 L932.1,166.6 L932.9,165.7 L933.2,166.4 L932.9,167.5 L933.2,166.6 L933.9,168.8 L934.3,168.7 L933.8,166.6 L934.9,169.9 L934.8,177.4 L934.2,171.9 L935.8,174.3 L936.0,169.7 L935.9,168.3 L936.4,171.7 L936.3,171.4 L936.2,179.7 L936.7,176.0 L937.7,174.9 L938.2,173.7 L938.3,159.8 L938.7,161.7 L938.2,163.4 L939.0,162.4 L937.7,160.5 L939.2,157.5 L939.8,156.5 L941.6,164.7 L940.5,166.4 L941.4,165.5 L940.8,163.4 L941.7,168.4 L940.8,169.5 L942.1,169.3 L941.5,161.6 L943.4,162.4 L943.9,160.1 L942.4,162.3 L944.7,159.1 L943.8,160.9 L944.8,154.5 L945.8,149.6 L944.1,146.5 L944.8,146.3 L946.0,144.8 L944.9,143.5 L945.9,130.9 L947.3,130.0 L945.6,124.7 L947.7,114.8 L946.7,116.3 L947.4,107.0 L947.7,101.4 L947.3,103.1 L948.2,95.9 L949.9,100.7 L948.4,99.5 L948.8,99.8 L949.7,101.5 L949.5,100.5 L951.0,104.8 L951.2,100.5 L950.4,103.2 L951.3,104.8 L951.7,103.9 L951.4,102.6 L951.4,106.1 L951.6,103.4 L953.6,108.4 L952.8,101.1 L952.7,104.2 L953.6,113.0 L954.0,111.0 L953.8,113.5 L954.3,107.6 L954.5,102.2 L956.0,113.4 L955.1,118.0 L956.0,114.3 L956.1,116.6 L955.8,120.4 L956.7,113.6 L956.8,120.2 L957.8,117.3 L957.2,121.4 L957.8,119.8 L958.1,122.3 L958.2,123.4 L958.9,121.9 L959.0,119.8 L960.7,117.1 L959.5,119.8 L959.1,125.4 L959.5,137.5 L959.5,136.3 L960.6,139.9 L961.4,136.9 L961.5,130.2 L962.2,118.8 L962.5,110.1 L961.9,109.3 L963.5,103.0 L962.6,108.0 L962.5,102.7 L963.6,103.9 L963.7,102.9 L966.0,98.0 L963.8,93.3 L964.6,99.4 L964.4,95.8 L965.8,94.6 L966.1,96.4 L966.1,93.4 L964.8,100.9 L967.1,96.2 L967.3,94.6 L966.5,99.4 L967.0,97.5 L966.9,107.7 L969.0,104.3 L968.7,105.6 L967.2,109.2 L970.2,110.6 L968.1,107.1 L968.3,109.0 L970.2,107.4 L970.0,106.1 L970.6,107.1 L970.7,101.7 L971.0,105.2 L970.1,109.8 L970.1,110.0 L971.3,110.7 L972.2,111.6 L971.9,111.6 L972.3,116.8 L974.1,116.2 L973.2,114.6 L972.9,114.9 L974.0,119.6 L974.9,115.8 L975.2,123.1 L974.4,112.9 L975.1,111.9 L974.2,117.7 L975.9,112.9 L976.0,114.3 L976.9,117.8 L977.0,116.4 L977.4,119.5 L977.8,116.1 L978.6,99.8 L977.7,104.0 L978.6,108.7 L978.8,98.4 L978.2,101.5 L978.2,100.7 L978.6,101.4 L979.3,98.4 L980.5,92.7 L980.6,91.7 L980.4,90.4 L980.2,102.0 L982.3,94.5 L980.8,94.8 L981.4,99.4 L980.8,101.3 L983.3,109.0 L981.8,101.2 L983.4,105.9 L983.4,98.2 L983.6,98.4 L984.1,105.1 L984.9,94.8 L984.7,102.9 L983.7,100.2 L983.5,102.1 L985.5,110.6 L984.7,106.8 L986.9,102.1 L985.4,107.4 L985.9,108.9 L986.3,106.7 L986.9,114.1 L986.8,109.6 L988.9,121.4 L987.8,121.5 L988.7,122.9 L989.3,121.6 L988.9,124.4 L989.6,128.9 L989.2,127.3 L990.2,126.0 L990.8,131.6 L990.6,132.6 L991.0,129.9 L991.8,137.0 L990.9,132.2 L991.9,133.3 L992.0,126.9 L991.9,117.5 L991.9,121.1 L992.5,113.6 L994.5,107.7 L994.1,112.8 L993.8,103.4 L994.2,101.3 L993.3,100.3 L995.6,94.7 L994.1,97.1 L995.7,87.8 L996.0,94.0 L995.8,93.1 L996.0,91.2 L996.9,94.7 L997.7,95.6 L997.7,100.3 L995.5,100.1 L996.4,101.0 L998.2,103.0 L996.9,103.8 L998.1,106.4 L999.1,103.3 L998.8,111.7 L1000.4,109.1 L999.6,114.7 L999.3,111.5 L1000.1,111.4 L1001.0,110.6 L1000.3,114.0 L1001.6,110.4 L1001.0,114.5 L1001.5,117.3 L1001.8,115.5 L1002.4,119.8 L1003.2,115.7 L1002.9,115.1 L1003.2,119.4 L1002.9,120.1 L1003.4,116.8 L1004.6,117.7 L1004.1,121.3 L1005.0,117.7 L1005.3,120.9 L1005.3,119.2 L1006.4,123.8 L1006.7,125.2 L1005.7,127.6 L1006.0,134.3 L1007.5,132.4 L1006.0,125.8 L1007.9,126.1 L1008.1,124.7 L1009.6,118.0 L1008.4,114.6 L1008.3,115.4 L1009.2,113.1 L1009.4,103.4 L1008.8,107.5 L1008.9,90.7 L1010.4,88.9 L1011.0,94.0 L1011.9,93.1 L1012.4,98.9 L1011.1,94.5 L1011.9,94.1 L1011.7,103.7 L1011.5,106.6 L1012.5,108.0 L1012.6,112.4 L1012.6,110.8 L1013.8,115.1 L1014.5,112.9 L1014.9,112.9 L1014.9,114.8 L1014.2,115.3 L1016.2,118.6 L1015.9,121.4 L1015.3,117.5 L1015.4,120.0 L1016.3,121.4 L1016.4,119.0 L1017.4,123.9 L1016.6,128.0 L1017.4,123.0 L1018.5,134.4 L1017.5,135.4 L1019.0,129.4 L1018.3,132.1 L1018.0,132.1 L1019.6,144.4 L1018.9,146.2" fill="none" stroke="#000" stroke-width="1.5" stroke-linejoin="bevel"/>
<path d="M81.4,537.3 L82.0,534.3 L82.3,534.5 L81.7,533.1 L82.8,533.2 L83.0,533.2 L83.1,533.0 L83.3,534.0 L83.1,532.2 L84.4,531.0 L84.4,530.6 L84.1,527.1 L84.8,527.0 L85.2,526.3 L85.6,526.0 L86.3,524.3 L86.0,524.8 L85.9,524.8 L86.7,522.6 L86.9,524.2 L87.6,523.8 L87.7,521.3 L87.9,522.3 L88.5,521.6 L89.0,522.4 L88.9,520.5 L89.4,519.8 L89.4,521.8 L89.6,520.8 L90.5,522.5 L90.4,521.8 L90.4,522.0 L91.3,522.1 L91.6,522.6 L91.4,523.6 L91.8,524.0 L92.0,524.2 L92.7,523.7 L92.9,523.9 L93.5,525.3 L93.5,525.4 L93.5,526.0 L94.1,526.8 L94.1,526.0 L94.4,526.6 L95.2,526.8 L95.5,527.1 L96.0,529.1 L95.8,528.2 L95.8,526.7 L96.4,528.8 L96.8,527.8 L97.2,527.3 L97.2,528.1 L97.7,528.6 L97.9,528.4 L98.0,525.9 L98.9,529.2 L98.3,525.5 L99.1,527.4 L100.0,528.3 L100.0,527.2 L99.8,525.6 L100.2,523.5 L101.0,524.3 L101.0,525.1 L101.1,525.2 L101.8,524.5 L101.6,524.6 L102.0,523.9 L102.6,522.0 L103.3,521.6 L103.3,522.9 L103.3,522.1 L103.2,523.8 L103.9,521.8 L104.2,521.9 L104.5,522.7 L104.1,521.5 L104.9,520.5 L105.4,520.4 L105.6,520.5 L106.3,521.2 L106.2,521.3 L107.1,521.6 L106.9,521.4 L106.9,522.1 L107.6,522.0 L108.1,521.1 L108.7,519.1 L107.9,522.8 L108.2,525.8 L108.9,526.7 L109.4,526.8 L109.4,525.9 L110.1,526.4 L110.2,524.9 L110.3,526.7 L110.4,526.5 L111.0,527.3 L111.8,526.1 L111.7,525.9 L112.5,526.5 L112.3,527.8 L112.3,525.2 L112.8,526.7 L113.5,528.2 L113.5,528.7 L113.3,528.0 L114.1,527.7 L114.5,528.0 L115.1,528.8 L114.6,527.5 L115.4,525.8 L115.4,527.0 L115.9,524.5 L115.7,524.9 L116.7,526.8 L116.3,525.6 L117.5,523.8 L117.4,524.6 L118.1,523.4 L117.8,523.6 L118.1,522.8 L118.4,521.9 L119.4,521.9 L119.6,522.3 L120.0,521.1 L120.2,521.1 L120.0,520.4 L120.6,520.5 L120.9,519.7 L121.0,519.1 L121.9,520.4 L121.7,521.7 L121.8,523.4 L122.1,524.4 L122.6,523.5 L123.1,525.0 L123.1,522.7 L122.9,522.8 L123.2,522.9 L123.9,524.1 L124.4,523.2 L124.9,523.1 L124.9,524.8 L125.3,524.3 L125.7,522.8 L126.3,524.4 L126.0,527.1 L126.4,528.8 L126.3,527.4 L127.1,527.0 L127.8,526.9 L127.9,527.6 L127.7,526.5 L128.4,528.5 L128.3,527.3 L129.2,527.1 L129.1,526.7 L129.1,525.8 L129.3,523.7 L130.1,523.9 L130.1,524.6 L130.7,521.0 L130.6,522.9 L130.9,524.1 L130.7,523.1 L131.7,523.3 L132.7,522.6 L132.6,521.5 L133.0,522.3 L133.2,521.9 L133.5,522.2 L133.5,522.6 L134.0,523.1 L134.2,524.2 L134.1,521.6 L134.6,523.2 L135.1,521.3 L135.2,521.8 L135.8,522.4 L136.1,521.7 L136.4,522.1 L136.9,523.0 L136.8,522.8 L137.2,523.1 L137.5,523.1 L137.7,522.5 L138.1,521.3 L138.5,522.1 L138.4,520.3 L138.8,524.1 L139.1,524.2 L139.5,524.4 L139.9,523.8 L140.4,524.0 L140.5,524.5 L140.8,523.6 L141.3,524.2 L141.7,523.0 L141.8,523.5 L141.5,523.7 L143.0,526.0 L142.4,526.6 L142.7,527.7 L142.6,528.4 L143.4,528.6 L144.4,528.4 L144.1,527.7 L144.4,526.2 L144.9,527.7 L145.0,528.5 L145.0,529.3 L145.7,531.4 L145.7,530.8 L146.3,530.5 L146.4,528.1 L146.9,527.5 L146.6,526.6 L147.6,525.3 L147.6,524.8 L147.6,523.8 L148.4,522.7 L148.6,521.9 L149.0,522.7 L149.3,521.4 L149.9,522.4 L149.5,523.0 L150.2,523.0 L150.1,523.6 L151.2,523.3 L150.7,523.9 L151.1,523.2 L151.5,524.6 L152.1,524.5 L151.8,524.6 L151.8,525.0 L152.6,528.4 L153.1,526.2 L153.1,523.7 L154.1,524.1 L154.7,522.4 L154.2,522.6 L154.6,523.4 L154.4,523.1 L155.6,524.0 L155.9,525.2 L155.5,526.9 L156.0,527.9 L155.9,528.6 L157.2,529.3 L157.2,529.2 L157.5,529.3 L157.3,528.6 L158.0,529.9 L158.2,530.6 L158.8,530.7 L158.8,528.6 L158.9,531.5 L159.2,532.2 L160.1,530.6 L160.5,531.6 L160.5,530.7 L160.7,526.9 L161.2,530.4 L161.3,529.4 L161.4,530.8 L161.8,531.2 L162.3,532.2 L162.5,531.7 L163.2,532.2 L163.3,532.4 L163.1,532.3 L163.9,531.7 L164.2,532.3 L164.0,530.5 L164.2,530.1 L165.1,530.6 L164.8,529.3 L166.2,530.0 L165.5,529.7 L165.6,528.7 L166.3,530.6 L166.5,532.8 L166.9,534.4 L166.8,537.0 L167.0,532.0 L168.2,531.9 L168.4,531.6 L168.7,530.1 L168.9,529.7 L168.8,529.8 L169.6,531.1 L169.4,531.3 L170.0,530.8 L169.9,532.7 L170.6,534.0 L170.8,533.6 L170.8,532.8 L171.6,531.4 L171.9,530.5 L172.3,531.8 L172.6,532.1 L172.3,532.2 L173.0,532.3 L173.1,532.4 L173.6,533.1 L174.3,533.4 L174.1,534.3 L174.2,532.7 L174.6,535.2 L175.3,534.1 L175.4,533.0 L175.7,531.8 L175.5,530.6 L176.3,530.6 L176.6,531.9 L176.7,536.0 L177.3,533.5 L177.6,533.0 L177.8,534.6 L177.9,534.5 L178.1,534.4 L178.7,536.2 L178.4,535.5 L179.1,536.0 L179.3,536.2 L179.6,537.3 L180.4,538.0 L180.1,537.5 L180.4,537.6 L181.2,537.4 L181.2,536.4 L181.5,536.4 L182.2,536.1 L182.0,537.6 L182.2,539.4 L182.5,538.9 L182.8,539.1 L183.7,539.9 L183.3,539.3 L184.2,537.5 L184.0,535.3 L184.9,533.8 L184.7,534.3 L185.1,536.4 L185.3,536.1 L185.8,541.2 L186.2,538.4 L186.6,538.7 L186.3,538.0 L187.4,538.6 L187.5,537.3 L187.7,538.7 L187.8,537.7 L188.0,536.7 L188.0,536.4 L188.5,537.0 L188.8,534.7 L189.8,536.1 L189.9,535.0 L190.7,533.6 L190.7,534.3 L190.2,533.3 L190.7,532.8 L190.9,531.7 L191.1,532.0 L192.3,531.5 L192.0,532.5 L192.1,533.3 L192.7,530.9 L193.1,529.2 L193.2,526.4 L193.8,521.9 L194.1,523.0 L194.2,523.6 L194.1,524.9 L194.9,524.6 L195.2,524.9 L195.1,522.7 L195.0,523.1 L196.4,524.0 L196.3,522.8 L196.6,522.8 L196.7,522.2 L197.3,524.7 L197.4,524.9 L197.9,526.4 L198.2,527.0 L198.9,527.7 L198.5,528.8 L199.2,527.8 L199.5,528.3 L199.7,527.1 L200.0,527.3 L200.4,525.9 L200.7,524.6 L200.5,526.6 L201.0,527.3 L200.8,527.6 L201.8,526.7 L202.2,529.0 L202.1,529.5 L202.6,529.0 L203.0,528.6 L203.0,527.1 L203.4,527.4 L204.2,528.0 L203.8,528.1 L204.4,530.2 L204.3,528.9 L204.8,529.9 L205.4,530.1 L205.6,530.7 L205.8,528.7 L206.0,530.3 L206.4,529.0 L206.7,527.9 L206.8,527.8 L207.4,528.8 L207.4,526.2 L207.4,526.8 L208.5,525.1 L208.8,526.1 L208.8,526.2 L209.1,524.3 L209.4,522.6 L209.5,523.5 L210.0,521.4 L210.5,522.9 L210.8,523.0 L210.9,523.2 L211.8,524.3 L211.6,524.2 L212.3,523.1 L212.3,524.8 L212.7,523.8 L213.0,524.1 L213.0,522.5 L213.3,522.4 L214.1,522.0 L213.9,521.1 L214.2,521.1 L214.4,523.7 L215.0,523.7 L215.3,525.2 L215.8,523.8 L215.5,526.1 L216.2,526.0 L216.7,522.8 L217.0,526.3 L217.0,526.7 L217.2,529.0 L217.4,528.6 L218.2,530.2 L218.1,528.2 L219.0,530.5 L218.7,530.4 L219.5,530.1 L219.7,529.5 L219.5,525.4 L219.9,525.4 L220.3,524.6 L220.5,526.4 L221.0,525.6 L221.5,526.8 L221.6,527.0 L221.8,527.3 L222.7,528.0 L222.9,527.8 L222.7,526.4 L222.9,526.5 L223.1,525.9 L223.8,525.5 L223.6,525.4 L224.4,526.4 L224.3,525.4 L225.2,524.3 L225.1,524.1 L225.1,521.9 L225.4,521.1 L225.7,520.8 L226.3,519.5 L226.0,519.4 L227.0,519.4 L227.4,520.2 L227.7,520.0 L227.8,525.5 L228.1,521.1 L228.6,523.7 L228.4,521.6 L228.0,523.1 L229.2,522.9 L230.1,523.8 L229.7,526.1 L229.8,525.4 L230.4,526.2 L230.2,526.5 L231.3,526.6 L231.6,525.1 L231.9,526.1 L232.0,526.5 L232.7,525.4 L232.6,526.8 L233.3,525.8 L232.9,525.2 L232.9,524.1 L233.5,522.6 L234.5,522.8 L234.2,525.2 L234.7,525.7 L234.7,526.5 L235.2,527.1 L235.4,526.6 L236.3,528.2 L236.5,527.8 L237.0,527.6 L236.2,526.9 L237.2,527.8 L237.5,530.0 L237.8,528.1 L237.6,529.9 L238.3,531.2 L238.5,529.6 L238.6,529.2 L238.7,528.3 L239.3,527.6 L240.2,525.9 L240.0,524.8 L240.4,523.3 L240.2,519.7 L240.9,518.9 L241.5,518.9 L241.0,518.9 L242.1,517.7 L241.7,520.4 L242.2,520.3 L242.7,522.6 L243.5,523.2 L243.3,522.5 L243.9,523.9 L244.0,523.7 L244.2,524.5 L244.4,524.6 L244.6,526.0 L245.6,525.3 L245.6,525.3 L246.5,525.8 L246.1,524.2 L246.6,525.3 L246.5,524.5 L247.3,525.1 L246.9,527.3 L247.6,524.0 L247.8,524.3 L248.4,524.7 L248.7,524.1 L248.4,524.6 L249.1,525.8 L249.1,524.4 L249.4,524.0 L250.1,530.3 L250.7,529.1 L250.9,528.6 L251.4,529.9 L251.5,529.6 L251.3,530.0 L251.1,529.8 L252.2,528.2 L252.7,528.2 L252.7,528.5 L253.2,524.9 L253.1,528.1 L254.1,527.5 L254.4,527.4 L254.1,527.3 L254.7,524.5 L255.2,524.4 L255.1,522.1 L255.5,522.4 L255.8,519.8 L255.9,519.3 L256.3,521.7 L256.7,522.8 L257.2,523.4 L257.4,522.9 L257.6,523.2 L257.9,524.1 L258.5,524.2 L258.0,524.7 L258.3,523.8 L258.8,524.2 L258.9,524.2 L259.1,525.5 L259.3,526.2 L260.6,525.3 L260.2,526.5 L260.9,524.2 L261.6,529.1 L261.5,528.3 L261.5,528.4 L262.3,530.0 L262.1,528.7 L263.3,528.7 L263.3,528.3 L262.9,528.1 L263.1,527.3 L264.2,529.4 L263.9,527.9 L264.4,527.6 L264.9,528.6 L265.0,528.7 L264.8,529.6 L266.0,527.3 L265.5,525.5 L266.0,525.6 L266.5,526.7 L266.2,527.2 L267.1,528.6 L267.1,528.6 L267.9,528.8 L268.1,528.5 L268.3,529.2 L268.9,528.8 L268.8,530.1 L269.5,530.9 L269.8,531.1 L270.0,531.3 L270.1,534.8 L270.8,532.1 L271.1,533.8 L271.3,533.8 L271.1,534.0 L271.7,532.9 L271.9,533.2 L272.2,533.6 L272.4,533.1 L272.7,533.3 L272.4,533.4 L273.4,533.3 L273.9,534.8 L273.5,532.9 L274.4,530.8 L274.7,532.4 L275.2,534.0 L275.5,530.4 L276.1,534.2 L276.4,533.6 L276.1,530.2 L276.1,531.1 L276.0,532.3 L277.1,534.0 L277.0,534.4 L278.0,534.0 L278.2,536.5 L278.0,534.3 L278.5,533.6 L279.0,534.8 L279.5,532.8 L279.0,533.5 L279.4,533.0 L280.2,531.2 L280.6,533.2 L280.2,531.7 L281.0,533.1 L282.0,533.0 L281.3,534.1 L282.1,534.6 L282.5,534.6 L282.5,534.7 L282.5,535.0 L283.2,536.6 L283.2,537.2 L283.3,537.2 L283.8,536.7 L284.8,535.2 L284.6,534.6 L284.6,532.4 L285.6,535.0 L285.7,534.7 L285.4,532.5 L286.2,538.5 L286.3,536.3 L287.1,537.1 L287.0,534.7 L287.1,536.3 L287.6,536.9 L287.8,536.6 L287.8,536.2 L288.5,536.8 L288.9,537.0 L288.9,538.3 L289.4,537.1 L289.5,537.5 L289.7,536.4 L290.4,536.9 L290.3,538.9 L291.0,536.8 L291.1,536.9 L291.8,537.7 L292.0,537.7 L291.7,541.5 L292.3,539.5 L293.1,539.1 L293.0,538.3 L293.0,538.3 L293.0,537.7 L293.8,538.8 L294.1,537.6 L294.4,538.2 L294.4,537.4 L295.4,538.2 L295.1,537.8 L295.7,539.3 L295.9,537.7 L295.7,537.5 L296.8,538.0 L296.7,536.0 L296.8,535.8 L296.6,538.6 L297.3,535.8 L297.4,537.0 L298.6,536.6 L298.0,536.7 L298.6,539.0 L299.3,538.3 L299.3,536.7 L299.4,534.0 L300.3,534.3 L300.4,532.1 L301.0,530.6 L301.0,532.0 L301.4,529.8 L301.9,527.8 L301.8,525.7 L302.0,526.2 L303.0,528.0 L302.6,525.9 L302.9,526.9 L303.1,527.2 L303.2,525.2 L303.5,524.8 L304.8,524.8 L303.8,523.0 L304.7,524.1 L305.2,524.1 L305.0,524.1 L305.3,525.8 L306.4,525.5 L306.7,524.1 L306.1,524.1 L306.7,525.8 L307.3,522.6 L307.3,525.7 L307.9,526.0 L308.3,526.3 L308.4,526.7 L309.0,526.7 L308.9,527.0 L309.5,527.5 L309.8,527.3 L309.7,528.4 L310.8,527.3 L310.6,527.6 L310.8,525.9 L311.1,525.0 L311.3,526.5 L312.0,527.1 L312.2,527.0 L312.4,528.5 L312.7,528.3 L312.2,526.6 L313.0,527.5 L313.5,527.5 L313.8,525.7 L314.4,524.7 L314.6,525.2 L314.4,524.8 L314.8,524.1 L315.3,526.4 L315.4,524.7 L316.5,524.8 L316.3,523.7 L316.3,523.0 L317.1,522.5 L317.3,524.5 L317.7,524.8 L317.7,525.9 L318.3,525.3 L318.2,525.2 L318.4,523.2 L318.6,523.5 L319.2,522.3 L319.6,524.0 L319.5,521.9 L320.1,523.8 L320.4,523.3 L321.2,522.4 L321.0,523.6 L321.1,523.1 L321.7,524.5 L322.3,526.3 L322.7,525.8 L322.4,526.7 L323.1,527.1 L323.4,527.6 L323.3,527.3 L323.8,526.3 L324.4,526.8 L324.4,527.3 L324.7,526.8 L324.8,527.1 L324.7,528.2 L325.6,526.9 L326.2,525.7 L326.6,527.0 L326.7,523.0 L326.6,523.6 L326.8,524.2 L327.7,524.8 L327.8,525.1 L328.4,525.9 L328.2,526.8 L328.6,528.5 L329.2,529.2 L329.4,529.9 L329.2,529.7 L329.9,526.2 L329.9,530.5 L330.2,529.7 L330.7,528.1 L331.0,528.2 L331.5,527.7 L332.2,525.4 L332.3,526.3 L332.2,525.8 L332.1,524.0 L333.0,521.9 L333.6,522.3 L333.1,522.1 L333.3,522.8 L333.8,521.9 L334.6,522.6 L334.1,523.9 L334.5,523.0 L335.2,522.8 L335.3,522.5 L335.8,521.7 L336.3,521.5 L336.6,522.0 L336.8,521.0 L337.0,520.5 L337.0,518.9 L337.8,520.6 L337.7,521.7 L338.0,521.0 L338.1,522.9 L338.8,523.5 L339.2,525.6 L339.3,523.7 L339.8,523.9 L340.0,525.8 L340.2,524.8 L341.1,521.6 L341.2,525.1 L341.6,525.4 L341.4,525.2 L342.4,526.6 L341.7,525.4 L343.2,525.0 L342.9,526.8 L342.9,526.9 L343.3,527.6 L343.6,528.3 L343.8,526.6 L344.3,526.4 L344.3,525.4 L345.1,525.4 L345.2,526.0 L345.2,525.6 L345.5,526.2 L346.3,524.8 L346.2,524.0 L346.4,523.6 L346.5,524.4 L347.5,523.7 L347.3,525.5 L347.7,524.5 L347.9,523.3 L348.3,521.5 L349.1,520.8 L349.0,522.0 L349.6,523.6 L350.1,524.4 L350.3,523.0 L350.0,525.1 L350.6,525.4 L350.7,524.1 L350.7,525.7 L351.4,524.2 L351.9,524.9 L351.7,524.8 L352.5,524.0 L352.5,523.9 L353.0,523.9 L353.7,525.0 L353.9,525.0 L353.4,524.5 L354.1,526.7 L354.3,526.3 L354.4,527.4 L355.2,527.7 L355.1,527.5 L355.2,528.4 L356.1,528.9 L356.6,528.4 L356.2,528.8 L356.9,529.3 L357.2,528.3 L357.2,528.9 L357.9,526.8 L358.4,526.0 L358.6,526.7 L359.0,525.4 L358.5,525.0 L359.3,525.9 L359.6,525.5 L360.6,526.0 L360.4,526.3 L359.9,527.6 L361.2,528.0 L361.1,528.9 L361.7,528.7 L361.9,528.3 L362.2,527.7 L361.9,527.0 L362.6,526.4 L362.6,526.5 L363.5,524.9 L363.2,524.1 L364.3,524.4 L364.3,525.8 L364.3,522.4 L364.9,524.6 L365.3,525.1 L364.9,525.6 L365.8,525.8 L365.6,524.7 L366.4,526.8 L366.1,525.8 L366.2,526.5 L366.3,525.3 L367.0,526.2 L367.3,526.2 L368.1,524.2 L368.2,524.1 L368.9,523.5 L368.8,524.5 L369.1,523.3 L370.0,523.4 L369.6,523.4 L370.2,524.5 L370.3,524.2 L370.3,524.4 L370.6,524.0 L371.3,525.0 L371.9,525.6 L371.9,524.6 L372.0,524.8 L372.6,524.9 L372.5,526.7 L373.2,527.1 L372.5,526.3 L373.9,529.6 L373.9,525.1 L374.1,527.7 L374.9,527.9 L374.4,528.8 L374.8,529.6 L375.3,527.5 L375.5,527.2 L375.8,529.0 L376.3,527.6 L376.2,528.7 L376.9,528.7 L376.8,528.8 L377.8,530.3 L377.8,529.2 L378.3,530.8 L378.2,529.7 L378.9,530.3 L379.0,529.8 L379.5,530.3 L379.1,528.3 L380.0,526.8 L380.3,527.5 L380.3,526.3 L381.1,525.9 L380.8,527.4 L381.6,528.3 L382.0,530.0 L382.0,529.8 L382.4,529.6 L382.7,530.3 L382.6,530.2 L383.1,529.9 L383.0,532.3 L383.6,532.2 L383.5,532.4 L384.8,531.7 L384.7,530.8 L385.1,528.8 L385.2,530.6 L385.6,534.1 L386.4,533.4 L385.9,534.7 L386.4,533.7 L386.8,532.6 L387.1,532.3 L386.9,532.2 L387.8,531.1 L387.5,531.5 L388.2,530.4 L388.4,531.1 L388.5,531.1 L389.1,531.1 L389.2,532.5 L389.5,532.8 L389.9,532.3 L390.5,534.2 L390.8,536.4 L391.2,531.0 L390.9,533.2 L392.2,531.8 L392.1,533.8 L392.1,535.6 L392.1,535.4 L392.8,535.9 L392.9,536.7 L393.9,537.7 L394.1,538.2 L394.2,538.4 L394.4,537.2 L395.1,536.3 L394.3,536.7 L395.2,536.6 L395.2,537.0 L395.7,537.0 L395.9,536.1 L396.8,538.7 L396.6,539.3 L397.2,541.1 L397.2,539.9 L397.4,540.5 L397.5,537.8 L398.2,535.9 L398.6,537.9 L399.2,539.2 L399.0,540.2 L399.0,539.9 L400.2,538.6 L399.6,538.7 L400.2,539.6 L400.7,538.7 L401.0,539.1 L400.8,540.3 L401.8,539.9 L401.7,539.3 L402.6,538.9 L403.0,537.4 L402.7,538.6 L403.0,539.2 L403.4,540.2 L403.9,540.8 L404.0,541.4 L403.8,541.7 L404.7,542.4 L405.0,541.8 L405.4,541.1 L405.7,541.8 L406.0,542.4 L406.6,542.6 L406.3,544.0 L406.9,543.1 L407.4,543.9 L406.9,542.3 L406.7,542.4 L407.6,542.7 L408.3,542.8 L408.6,541.1 L408.8,543.2 L409.3,544.4 L409.7,545.3 L409.4,545.3 L409.8,546.3 L410.2,546.2 L410.4,544.2 L411.0,545.1 L411.0,546.5 L411.2,545.1 L411.7,544.1 L412.2,545.0 L411.9,543.7 L412.6,544.5 L413.0,543.3 L413.4,543.4 L413.4,543.9 L414.3,543.4 L413.9,541.9 L414.3,541.4 L414.6,542.6 L415.3,542.3 L415.6,543.3 L415.8,544.3 L415.9,544.8 L415.6,544.6 L416.9,545.2 L416.7,544.8 L416.9,544.2 L417.3,544.5 L417.5,544.7 L418.0,540.9 L417.8,542.1 L418.8,544.8 L418.8,544.4 L419.0,546.0 L419.4,544.6 L420.3,542.2 L419.8,544.6 L420.6,543.2 L420.9,545.4 L420.9,545.5 L421.2,545.5 L421.8,546.0 L421.7,545.3 L422.4,545.9 L422.8,547.8 L422.6,547.7 L423.0,545.9 L423.2,546.8 L423.0,547.3 L423.9,548.0 L424.3,548.2 L424.6,548.7 L424.7,548.6 L425.2,548.7 L425.2,549.5 L425.9,552.1 L425.9,550.0 L426.3,548.5 L426.4,546.8 L426.9,548.1 L427.1,549.5 L427.7,548.9 L427.5,549.9 L427.8,550.5 L428.1,549.5 L429.2,549.5 L429.1,548.9 L429.0,550.0 L429.6,549.2 L430.1,550.2 L430.6,549.2 L429.9,551.0 L430.7,548.6 L431.4,549.8 L431.8,550.6 L431.9,549.4 L431.8,547.5 L431.9,548.7 L433.2,547.7 L432.8,548.6 L433.7,548.4 L433.6,548.4 L433.7,547.6 L434.5,549.3 L434.7,549.0 L434.6,549.1 L435.2,548.9 L435.5,548.8 L435.9,549.3 L436.2,548.8 L436.7,549.2 L436.5,549.4 L437.1,547.3 L437.2,545.8 L437.2,546.2 L437.7,544.3 L437.8,538.9 L438.4,539.6 L438.8,538.3 L439.0,537.6 L439.2,535.3 L440.1,536.8 L439.2,534.7 L439.8,532.9 L440.4,532.8 L441.2,531.6 L441.6,532.1 L441.5,531.0 L441.7,528.5 L442.4,528.0 L442.0,528.8 L442.3,526.7 L443.2,528.0 L443.7,529.7 L443.6,529.0 L444.4,528.5 L444.0,529.2 L444.4,530.7 L444.7,528.5 L444.7,527.9 L445.6,526.6 L446.0,527.1 L446.2,527.6 L445.7,528.6 L446.8,528.7 L446.4,530.1 L447.1,531.8 L447.2,533.2 L448.4,533.4 L448.3,535.2 L448.3,535.2 L448.8,536.9 L449.1,536.5 L448.5,537.7 L449.0,537.4 L449.9,536.7 L450.0,537.7 L450.2,535.9 L450.0,536.7 L451.3,535.8 L451.4,534.7 L451.5,534.0 L451.5,534.9 L452.3,534.1 L452.5,533.2 L453.5,534.6 L453.2,534.1 L453.6,533.8 L453.8,533.9 L453.9,533.1 L454.2,534.9 L454.4,531.3 L455.3,530.9 L455.3,529.9 L455.4,528.4 L455.7,529.4 L455.8,529.0 L456.2,529.8 L457.3,529.7 L456.8,527.3 L457.4,526.7 L457.5,525.6 L457.5,526.3 L458.2,528.1 L459.0,527.3 L459.1,528.3 L458.7,529.0 L459.4,530.8 L459.3,530.9 L460.5,529.9 L460.2,531.3 L460.8,529.9 L461.1,530.1 L461.0,530.2 L461.8,532.1 L461.7,531.5 L462.8,530.7 L462.7,532.7 L463.0,532.2 L463.6,530.0 L463.7,531.8 L464.0,533.8 L463.8,531.3 L464.4,533.4 L464.8,533.5 L464.7,532.9 L465.0,532.3 L465.2,533.4 L465.8,533.6 L465.9,533.6 L466.6,534.3 L466.2,531.8 L466.8,531.9 L467.0,529.8 L467.2,529.2 L467.6,528.9 L468.0,532.0 L468.5,529.8 L468.7,529.7 L469.1,529.9 L469.5,530.5 L470.1,532.1 L470.1,531.3 L470.8,529.1 L470.9,529.5 L470.6,529.5 L471.6,529.7 L471.5,528.4 L471.9,530.0 L471.4,529.7 L472.3,529.3 L472.6,529.2 L473.3,528.9 L473.2,528.6 L473.3,528.6 L473.2,527.9 L474.1,529.2 L474.5,529.6 L474.4,529.3 L475.1,530.0 L475.6,530.3 L476.0,529.1 L476.0,532.5 L476.1,534.9 L476.6,534.6 L477.1,534.8 L476.7,534.8 L477.3,532.5 L477.5,534.5 L478.3,534.6 L478.2,534.1 L478.7,534.7 L478.5,534.1 L479.0,535.5 L479.2,535.2 L479.6,534.2 L480.9,534.6 L480.1,535.5 L480.8,534.1 L480.9,533.7 L481.1,529.2 L481.3,531.4 L481.6,530.9 L481.8,532.5 L482.8,534.7 L483.2,535.5 L482.7,536.7 L483.5,534.5 L483.7,536.1 L484.1,535.0 L484.1,533.9 L484.2,534.2 L484.8,533.8 L484.8,532.0 L484.7,530.3 L486.1,530.7 L486.0,528.3 L486.7,528.9 L486.9,529.5 L487.4,529.5 L487.3,529.5 L487.9,528.7 L487.6,528.2 L487.8,529.4 L488.5,529.7 L488.9,529.6 L489.1,530.8 L489.4,532.0 L490.0,531.4 L490.2,534.1 L489.9,533.0 L490.2,531.2 L490.6,531.2 L491.0,528.7 L491.4,529.8 L491.6,527.2 L492.1,526.6 L492.6,525.8 L493.0,524.3 L493.1,523.7 L493.2,526.9 L493.7,530.0 L493.8,531.0 L494.3,532.6 L494.7,531.5 L494.8,529.6 L495.4,529.0 L495.6,531.2 L495.7,529.3 L496.2,529.7 L496.7,530.0 L495.9,529.3 L496.7,530.7 L497.3,530.8 L498.4,531.7 L497.4,531.6 L498.0,533.9 L498.7,531.5 L499.0,532.1 L498.1,533.9 L499.5,534.9 L499.8,533.6 L499.4,531.3 L500.3,530.4 L501.1,530.1 L500.9,529.7 L501.0,530.9 L501.7,531.0 L501.8,532.4 L502.5,533.0 L502.3,535.5 L502.9,536.6 L503.3,536.0 L503.6,535.8 L503.2,535.9 L503.8,536.7 L504.4,535.6 L503.6,536.8 L505.2,532.6 L505.0,533.2 L505.7,534.1 L505.5,534.6 L506.2,535.7 L506.2,536.2 L506.5,534.4 L506.5,535.4 L506.9,535.6 L507.5,536.3 L507.4,536.2 L507.7,535.9 L507.9,535.5 L509.0,535.8 L509.2,536.3 L509.1,536.0 L509.9,536.0 L510.0,538.2 L510.2,536.3 L510.5,536.2 L510.6,537.4 L510.8,536.0 L511.2,536.2 L511.6,535.4 L511.9,536.6 L512.1,535.5 L512.8,534.7 L512.8,534.2 L513.2,535.5 L513.3,535.4 L513.8,537.1 L513.6,536.4 L514.1,536.3 L514.2,535.4 L515.3,535.5 L514.8,533.2 L516.2,533.9 L515.5,533.3 L515.9,531.5 L516.3,529.9 L516.2,529.4 L516.7,527.7 L517.1,525.9 L518.1,526.5 L517.9,527.2 L518.4,528.7 L518.6,527.6 L518.9,526.5 L519.1,526.5 L519.6,529.0 L519.5,527.5 L519.8,525.6 L520.4,527.7 L520.4,526.7 L520.9,525.9 L521.1,526.6 L521.2,526.3 L522.1,525.8 L521.8,526.9 L522.1,526.7 L521.9,527.3 L523.0,528.7 L523.5,526.9 L524.1,530.8 L524.0,528.5 L524.4,529.0 L524.6,529.2 L525.0,529.0 L525.1,528.2 L525.4,528.1 L525.7,529.0 L526.0,529.4 L526.2,528.0 L526.6,528.5 L527.1,528.0 L527.1,527.3 L527.5,529.2 L527.5,528.5 L528.0,529.3 L528.7,529.4 L529.4,527.5 L528.8,526.2 L529.6,526.3 L529.3,526.2 L529.4,526.3 L530.2,526.7 L530.2,529.2 L530.8,524.8 L530.5,525.2 L531.2,526.1 L531.6,525.9 L531.9,526.6 L532.9,525.3 L532.1,525.0 L533.0,524.5 L533.4,523.7 L533.5,524.3 L533.7,524.5 L534.0,525.0 L534.5,524.9 L535.0,525.5 L535.2,525.6 L535.2,528.1 L535.2,526.5 L535.6,527.9 L536.1,527.5 L536.4,528.1 L537.0,527.6 L537.4,527.3 L537.5,526.4 L538.2,526.4 L537.9,525.7 L538.8,527.2 L538.4,525.6 L538.9,527.6 L539.0,527.2 L539.2,528.1 L540.0,528.4 L540.0,528.4 L540.4,529.4 L541.0,530.0 L540.9,531.1 L541.8,531.2 L542.1,528.8 L541.5,527.9 L542.4,527.9 L542.7,528.0 L542.8,527.5 L543.5,529.0 L543.3,530.1 L543.6,528.8 L544.5,527.8 L544.2,528.7 L544.3,527.8 L544.9,527.4 L545.3,528.5 L545.3,527.6 L546.1,528.5 L546.4,527.9 L546.8,526.6 L546.5,526.3 L546.9,525.2 L547.9,525.9 L547.4,525.5 L547.9,525.0 L548.4,526.5 L548.8,525.8 L548.7,526.9 L548.9,528.5 L549.5,528.6 L549.3,527.9 L549.9,529.3 L550.4,528.9 L550.5,529.6 L551.0,529.0 L551.1,530.0 L551.2,529.6 L551.7,529.6 L551.7,529.4 L552.0,529.7 L552.7,529.4 L553.0,530.5 L553.1,532.3 L553.6,532.1 L553.7,532.5 L554.2,531.6 L554.8,531.5 L555.0,530.5 L555.1,531.3 L555.5,531.4 L555.6,532.1 L555.6,531.8 L555.7,533.0 L557.4,534.4 L557.0,534.0 L557.2,533.0 L557.3,533.6 L558.0,533.9 L558.3,534.7 L558.3,537.0 L559.5,537.7 L559.0,538.1 L559.6,540.7 L559.6,540.1 L560.0,541.7 L559.7,541.8 L560.3,543.1 L560.4,543.7 L561.4,543.5 L561.0,544.0 L561.5,544.4 L562.5,545.3 L562.2,546.4 L562.3,547.4 L562.3,547.1 L563.3,545.8 L564.2,547.8 L563.4,548.5 L564.3,550.8 L564.3,549.8 L564.0,549.9 L565.2,549.7 L565.2,550.3 L565.9,550.0 L565.9,549.8 L566.3,549.9 L566.5,549.5 L567.0,547.1 L567.0,547.3 L567.6,547.7 L567.3,548.7 L568.1,549.1 L568.6,548.9 L568.6,550.4 L568.6,550.8 L569.3,551.1 L569.2,551.3 L570.1,551.2 L570.6,550.9 L570.4,549.5 L571.1,547.4 L570.8,548.8 L570.6,548.3 L571.6,548.7 L571.8,550.3 L572.4,550.2 L572.3,549.1 L572.9,550.0 L573.9,551.0 L573.7,550.7 L573.7,550.6 L574.1,549.1 L574.2,550.6 L574.3,550.3 L574.6,549.7 L575.5,550.0 L576.1,549.5 L575.9,550.8 L576.1,550.7 L576.8,549.5 L577.0,550.6 L576.8,549.4 L577.1,548.2 L578.0,548.5 L577.8,548.9 L577.9,549.3 L578.1,551.6 L578.4,551.8 L579.3,550.7 L579.3,551.7 L580.1,552.6 L579.8,551.1 L580.1,549.4 L580.9,550.3 L580.7,549.3 L581.0,549.1 L581.9,550.6 L581.3,551.3 L582.2,551.4 L582.8,550.1 L583.0,549.8 L582.9,549.6 L583.0,551.1 L583.4,552.1 L583.8,551.4 L583.8,551.7 L584.5,551.0 L584.7,550.1 L585.4,549.7 L585.2,548.8 L585.2,547.4 L586.2,549.2 L585.9,548.5 L586.6,548.5 L586.9,548.5 L587.2,548.7 L586.9,548.1 L587.8,548.4 L588.3,548.6 L588.5,549.3 L588.9,550.6 L588.7,549.0 L589.1,549.3 L590.4,549.8 L589.6,548.3 L590.4,550.5 L590.0,549.9 L590.7,552.0 L591.1,550.6 L591.4,551.2 L591.7,551.1 L592.3,551.8 L592.4,551.6 L592.7,550.7 L592.7,549.8 L592.9,550.8 L593.3,550.4 L593.8,551.8 L593.7,549.8 L594.7,549.1 L594.8,548.7 L595.1,549.7 L595.4,550.6 L595.6,550.1 L595.8,550.8 L596.5,548.3 L595.6,550.2 L596.4,549.7 L596.8,548.8 L597.0,549.5 L597.5,548.4 L598.0,549.7 L598.1,549.9 L598.6,549.7 L598.8,548.9 L599.2,550.8 L600.1,549.2 L599.6,549.7 L600.1,550.9 L600.4,550.8 L600.5,550.0 L601.3,550.7 L601.2,549.2 L601.7,549.4 L602.0,549.7 L602.3,548.1 L602.6,548.8 L602.4,548.5 L603.4,548.3 L603.4,548.9 L604.1,550.2 L604.3,550.3 L604.2,548.7 L604.6,550.7 L605.0,551.5 L604.8,551.0 L605.6,549.3 L605.3,547.7 L605.3,547.8 L606.5,547.5 L606.5,550.2 L607.5,550.1 L607.3,547.2 L607.8,550.1 L607.4,549.4 L608.3,548.0 L608.8,549.2 L608.8,550.0 L608.7,549.2 L609.8,548.2 L609.4,549.6 L610.1,550.4 L609.8,550.0 L610.1,549.8 L610.7,550.3 L611.5,549.2 L611.8,550.0 L611.7,550.6 L611.8,549.5 L612.0,548.9 L612.5,549.8 L613.1,549.9 L613.0,549.2 L613.9,549.5 L613.8,549.2 L614.3,547.4 L614.7,550.6 L614.7,549.9 L615.1,551.8 L615.1,548.8 L615.9,549.2 L616.6,547.5 L615.9,549.6 L616.9,548.5 L616.5,549.3 L617.4,549.0 L617.2,550.0 L617.5,547.8 L618.3,548.0 L618.8,544.9 L619.1,545.5 L618.9,544.8 L619.1,544.9 L619.4,543.4 L619.9,544.3 L620.9,543.6 L620.8,540.7 L620.4,539.9 L621.1,541.4 L621.4,541.0 L622.3,542.6 L622.3,540.7 L621.9,542.9 L622.6,541.1 L622.7,540.5 L622.9,540.6 L623.5,540.8 L622.9,538.3 L623.5,537.9 L624.0,537.5 L624.7,533.5 L624.7,531.7 L625.3,531.6 L625.3,532.5 L625.3,530.3 L625.9,527.8 L626.6,529.4 L627.0,527.0 L626.9,527.0 L626.9,525.4 L627.3,526.6 L628.1,524.7 L628.6,523.8 L628.5,524.9 L628.4,526.5 L629.1,527.7 L629.9,526.1 L630.0,525.7 L629.9,525.7 L630.7,524.9 L631.0,526.9 L630.6,526.6 L631.9,527.0 L632.4,527.1 L632.2,529.4 L632.4,529.6 L632.5,529.8 L632.6,530.2 L633.0,529.0 L633.6,531.1 L633.6,529.2 L633.7,528.3 L634.9,527.9 L634.1,528.6 L634.6,529.2 L635.3,530.4 L634.9,532.3 L635.4,534.8 L636.0,534.8 L636.2,533.0 L636.8,531.5 L637.3,532.0 L638.1,533.6 L637.2,534.1 L637.9,533.3 L638.1,532.6 L638.2,529.5 L638.8,529.4 L639.4,525.5 L639.5,526.1 L639.7,524.7 L640.2,524.1 L640.1,523.6 L641.0,523.4 L641.1,522.3 L640.2,526.1 L641.2,526.0 L641.8,527.5 L642.1,530.3 L642.9,528.9 L642.9,527.0 L643.2,526.8 L642.8,526.7 L643.3,524.1 L643.6,524.1 L644.1,524.0 L644.0,522.8 L645.2,522.4 L644.5,521.6 L645.4,522.0 L645.5,523.3 L646.2,522.8 L645.8,524.2 L646.8,524.0 L646.5,524.9 L647.2,525.3 L647.2,526.1 L647.4,526.8 L647.8,525.3 L648.8,525.5 L648.4,526.3 L648.5,528.9 L649.5,528.9 L649.8,528.3 L650.2,529.4 L649.5,532.1 L650.1,529.2 L650.8,529.5 L650.9,531.9 L651.9,530.9 L652.2,531.2 L652.0,531.2 L652.1,530.3 L652.3,529.3 L653.6,529.8 L653.3,528.1 L653.7,529.5 L653.8,526.0 L653.9,524.6 L654.8,522.8 L654.6,524.1 L655.1,524.9 L655.3,523.9 L655.3,524.9 L655.7,525.4 L656.7,523.6 L656.5,521.9 L656.5,523.5 L656.9,525.7 L657.6,525.1 L657.7,525.8 L658.1,525.7 L658.0,525.0 L659.0,525.0 L658.8,524.0 L658.8,523.0 L660.2,520.7 L659.7,521.6 L660.6,521.5 L659.9,522.8 L660.6,522.8 L661.3,525.3 L661.6,524.3 L661.6,524.7 L662.4,524.8 L662.0,524.4 L662.7,523.7 L663.2,525.0 L663.3,524.8 L663.3,526.2 L663.8,525.4 L663.7,524.6 L664.3,526.2 L664.8,527.3 L664.8,528.6 L665.3,528.4 L665.3,529.0 L666.4,529.2 L665.3,532.3 L666.2,533.5 L666.6,534.9 L666.8,533.4 L667.2,532.9 L667.5,532.3 L667.4,534.5 L668.1,529.1 L668.3,526.1 L669.0,526.6 L669.5,525.7 L669.4,525.4 L670.0,524.8 L670.3,525.1 L670.2,523.9 L670.9,525.1 L670.8,522.8 L670.8,523.3 L671.5,522.9 L671.9,521.8 L672.0,521.3 L672.3,523.2 L673.0,523.5 L672.9,523.6 L673.8,524.3 L673.7,523.3 L673.4,523.3 L674.0,523.6 L674.7,523.5 L675.0,523.4 L675.6,523.8 L675.4,524.7 L675.6,524.6 L676.4,526.1 L676.8,526.4 L676.7,526.1 L676.8,522.2 L676.8,524.2 L677.3,524.4 L677.7,525.5 L677.9,524.9 L678.0,525.4 L678.5,525.4 L679.4,526.3 L679.2,525.7 L679.8,527.3 L680.1,526.3 L679.9,526.5 L680.9,526.3 L681.2,527.5 L681.1,529.4 L681.2,527.0 L682.0,528.1 L681.5,529.4 L682.3,528.7 L682.9,527.7 L683.1,529.2 L683.3,530.6 L683.6,527.1 L684.4,527.6 L684.3,526.8 L684.2,526.8 L684.7,526.0 L685.1,525.3 L684.8,525.5 L685.7,524.1 L685.7,523.3 L686.0,522.8 L686.4,523.1 L686.9,520.4 L687.3,521.1 L687.8,520.8 L687.5,520.2 L687.9,521.3 L688.1,519.6 L688.8,520.0 L688.6,520.3 L689.1,519.2 L689.7,520.7 L689.3,522.0 L690.1,521.0 L690.8,522.4 L690.8,524.9 L690.8,523.8 L691.3,528.3 L691.5,524.2 L691.9,524.9 L692.6,524.2 L692.5,524.8 L692.9,526.5 L693.2,527.2 L693.5,526.8 L693.1,524.6 L693.9,526.8 L694.3,527.4 L694.5,527.2 L694.5,528.1 L694.9,528.6 L695.6,529.8 L695.4,529.5 L696.0,528.4 L696.3,528.8 L696.8,529.5 L697.1,530.1 L697.5,531.1 L697.3,529.6 L697.9,530.5 L698.3,527.3 L698.0,527.4 L698.7,528.6 L698.7,528.6 L699.7,526.1 L699.7,528.3 L700.3,528.8 L700.9,532.9 L700.4,530.8 L701.1,532.0 L701.1,531.7 L701.4,532.1 L701.4,532.9 L702.3,533.2 L702.6,532.5 L702.3,531.7 L703.2,532.1 L703.6,531.9 L703.4,532.1 L703.5,532.4 L704.1,532.9 L705.1,532.4 L705.1,531.4 L705.1,530.4 L705.4,532.9 L705.4,533.8 L705.8,534.4 L706.6,535.1 L706.8,533.4 L706.2,533.5 L707.0,532.9 L707.8,531.9 L708.2,531.2 L708.1,531.7 L708.3,533.6 L709.0,533.2 L708.7,531.1 L709.2,532.8 L709.5,531.4 L709.6,528.6 L710.8,531.5 L710.5,532.4 L710.6,533.1 L711.0,533.8 L710.7,535.2 L711.4,535.4 L711.9,535.5 L712.1,535.4 L712.7,536.1 L712.9,536.5 L713.2,538.8 L713.6,537.6 L713.5,539.1 L713.9,539.5 L714.4,539.5 L714.5,539.3 L715.3,538.1 L715.2,538.1 L715.8,537.6 L715.7,538.7 L716.2,538.7 L716.3,538.9 L716.9,539.3 L717.7,539.7 L716.9,540.2 L717.9,538.9 L718.3,539.6 L718.0,538.2 L718.7,538.8 L718.9,538.5 L719.6,537.4 L719.6,538.1 L720.0,537.6 L720.0,538.0 L720.4,537.1 L720.7,537.8 L721.4,537.3 L721.2,536.1 L721.3,534.3 L722.0,536.8 L722.0,535.4 L722.0,535.0 L722.5,534.5 L722.7,534.8 L723.1,537.4 L723.3,535.6 L723.7,536.5 L724.3,539.2 L724.8,536.4 L724.7,537.6 L725.1,536.6 L726.0,535.6 L725.9,535.6 L726.4,536.9 L726.0,535.6 L726.7,535.7 L727.0,534.5 L727.6,532.9 L727.1,535.4 L728.1,535.9 L727.9,538.0 L728.4,538.3 L728.8,539.5 L728.6,537.7 L729.1,536.5 L729.6,537.6 L729.9,535.5 L730.9,533.5 L730.5,534.0 L730.7,534.8 L731.3,532.0 L731.4,534.5 L732.2,530.6 L732.3,530.2 L732.2,529.0 L732.7,527.1 L733.1,526.1 L733.1,524.8 L733.3,527.2 L734.0,525.5 L733.9,525.8 L734.3,524.8 L735.2,524.7 L734.8,526.1 L735.2,526.5 L735.8,526.8 L735.7,525.5 L736.1,525.6 L736.8,529.5 L737.4,526.7 L737.1,526.4 L737.1,525.4 L738.0,524.7 L738.4,525.7 L738.0,527.1 L738.3,526.8 L739.2,528.2 L739.2,529.2 L739.6,528.3 L740.6,530.1 L740.2,527.1 L740.5,528.3 L741.0,528.4 L741.1,528.7 L741.1,527.2 L741.4,526.8 L741.8,527.3 L742.3,528.5 L743.0,529.0 L742.9,528.7 L743.0,528.5 L743.2,528.7 L743.4,529.5 L744.4,528.8 L744.7,530.3 L745.2,532.6 L745.1,529.8 L745.1,528.8 L745.7,525.4 L745.6,526.0 L746.2,524.0 L746.6,523.4 L746.8,523.6 L747.3,525.0 L747.5,526.8 L747.4,525.1 L748.1,523.8 L748.7,521.7 L749.0,522.6 L749.1,521.7 L749.8,521.7 L749.8,521.9 L749.8,523.1 L750.2,524.8 L750.0,524.4 L750.5,523.6 L750.9,524.9 L751.6,523.3 L751.7,523.9 L751.8,525.0 L752.7,525.3 L752.5,526.5 L752.3,526.0 L752.7,526.5 L753.5,528.2 L754.3,528.9 L753.9,526.9 L754.1,526.4 L754.9,526.5 L755.1,527.5 L755.0,527.3 L756.0,525.8 L755.7,525.1 L756.5,526.1 L756.5,526.8 L757.3,527.1 L757.2,527.3 L757.4,527.2 L757.9,528.0 L758.0,531.1 L757.7,527.6 L758.3,528.6 L759.3,527.5 L759.4,529.5 L759.4,528.0 L759.8,526.2 L759.5,525.8 L760.4,526.7 L760.7,528.4 L761.5,528.3 L761.2,529.2 L761.5,529.0 L761.5,527.6 L762.5,524.3 L761.7,527.2 L762.9,525.9 L762.8,525.2 L763.2,526.3 L764.0,526.6 L763.9,526.8 L764.1,525.8 L764.3,525.3 L764.9,526.6 L764.9,525.2 L765.4,525.5 L765.0,524.6 L765.6,523.8 L766.6,524.3 L766.3,523.6 L767.0,524.0 L767.4,523.2 L767.3,523.2 L767.4,523.5 L768.3,524.2 L768.7,526.7 L769.0,525.9 L769.0,527.4 L769.1,528.4 L770.0,527.3 L769.9,528.8 L770.4,527.4 L770.4,528.4 L771.0,527.2 L770.8,526.2 L771.3,528.1 L772.3,528.5 L772.3,529.1 L772.4,528.8 L773.0,531.8 L773.0,531.5 L773.3,532.9 L773.5,531.8 L774.1,533.3 L774.1,531.6 L774.4,533.2 L774.4,533.3 L774.9,533.4 L775.4,532.4 L775.4,533.2 L775.6,531.2 L776.5,530.0 L776.3,527.7 L776.3,527.0 L777.3,526.9 L777.8,525.7 L777.3,526.0 L777.8,525.5 L778.5,524.3 L779.3,523.5 L778.8,523.2 L779.1,522.5 L779.1,522.1 L780.2,521.9 L779.7,521.6 L780.1,521.4 L780.7,522.2 L781.0,521.6 L781.4,521.5 L781.7,523.4 L782.2,525.6 L781.9,526.4 L782.6,525.4 L782.7,525.3 L783.0,526.2 L783.7,525.9 L783.0,523.4 L784.0,523.3 L784.7,523.4 L784.5,525.5 L784.9,525.6 L785.6,527.3 L785.8,528.5 L785.9,527.8 L786.1,528.3 L786.3,527.7 L786.7,526.5 L787.4,527.0 L787.1,527.0 L788.2,526.2 L787.6,526.1 L788.3,526.1 L788.6,524.3 L789.2,525.1 L789.5,526.6 L789.5,529.3 L789.4,530.4 L789.9,529.0 L790.8,528.9 L791.4,528.6 L790.8,528.9 L791.2,525.5 L791.3,526.7 L791.9,528.0 L792.0,527.6 L792.2,526.4 L792.8,524.7 L793.0,522.9 L793.5,518.8 L793.4,523.3 L794.3,523.4 L794.4,523.0 L793.8,523.8 L794.6,521.8 L795.2,522.4 L794.9,523.3 L796.0,522.4 L796.4,525.4 L795.7,525.2 L796.5,525.1 L797.0,524.8 L797.4,524.5 L797.6,524.4 L797.7,525.7 L798.1,527.1 L798.0,525.3 L799.0,528.2 L799.6,527.6 L799.0,526.6 L799.5,527.0 L800.1,527.5 L800.0,527.4 L800.6,527.9 L800.4,527.9 L800.6,527.8 L801.3,528.7 L801.8,529.8 L802.0,529.9 L802.5,531.1 L802.2,530.7 L802.6,531.5 L803.3,530.9 L803.5,532.9 L803.7,532.6 L803.9,531.4 L804.0,531.3 L804.6,529.7 L804.9,529.7 L805.6,530.4 L805.4,528.5 L806.2,527.8 L806.6,528.9 L806.6,528.5 L806.7,527.5 L807.0,528.1 L807.3,527.7 L808.0,530.0 L808.0,530.9 L808.5,532.5 L808.5,532.0 L809.2,533.3 L808.8,531.6 L810.0,532.0 L810.1,532.1 L810.7,531.5 L810.2,531.6 L810.4,530.5 L811.4,530.5 L811.2,532.0 L811.2,532.2 L811.4,531.8 L811.8,532.2 L812.5,530.6 L812.5,532.8 L812.9,532.6 L813.0,532.2 L814.4,532.2 L813.6,531.5 L814.2,533.2 L814.8,532.2 L814.6,533.9 L815.2,533.4 L816.0,533.8 L815.9,533.1 L816.4,530.8 L816.0,530.8 L816.8,531.0 L817.4,529.3 L817.4,530.2 L817.7,530.6 L818.2,528.1 L817.9,531.3 L818.4,531.6 L818.8,531.5 L818.8,533.5 L819.3,534.2 L819.8,532.8 L820.0,534.0 L820.2,534.2 L820.8,534.0 L821.0,533.9 L820.9,534.8 L821.5,534.1 L821.2,530.6 L822.5,536.2 L822.2,535.4 L822.5,533.2 L823.1,535.6 L823.0,535.5 L823.8,535.4 L823.7,536.0 L824.2,535.5 L824.7,535.6 L824.9,535.4 L825.1,535.5 L825.3,537.2 L825.8,537.0 L826.2,537.6 L826.7,537.2 L826.6,540.0 L827.1,538.6 L827.3,538.6 L827.6,537.7 L827.5,537.5 L828.0,537.3 L828.4,537.8 L829.0,536.4 L829.1,537.5 L829.6,536.9 L829.5,537.7 L830.1,536.3 L830.2,535.5 L830.2,536.0 L830.5,535.2 L831.5,535.5 L831.4,535.0 L831.4,535.6 L831.8,534.8 L832.3,533.2 L832.7,535.5 L832.1,534.5 L833.0,537.3 L833.2,535.7 L833.6,539.1 L834.4,538.5 L835.0,536.2 L834.2,536.1 L834.5,534.5 L835.1,534.5 L835.6,535.5 L835.7,536.1 L836.6,534.3 L836.6,535.9 L837.3,532.6 L836.9,533.8 L837.7,529.7 L838.0,529.5 L838.1,528.9 L838.3,528.2 L838.6,526.5 L838.5,527.8 L839.3,528.2 L839.7,527.4 L839.7,526.7 L840.5,525.2 L840.1,525.8 L840.5,525.4 L841.4,524.5 L841.2,526.1 L841.1,525.3 L841.9,524.4 L842.1,524.4 L842.9,523.4 L843.1,524.4 L843.1,523.4 L843.8,526.1 L844.0,526.9 L843.6,526.9 L844.2,526.5 L845.2,527.0 L844.8,526.2 L845.3,527.3 L845.0,529.0 L845.8,527.8 L846.3,526.9 L846.2,525.2 L847.4,526.7 L847.2,527.0 L846.9,526.5 L847.8,526.3 L847.9,525.0 L847.7,525.8 L848.4,527.0 L848.7,524.7 L849.0,526.2 L849.5,526.8 L849.2,528.8 L850.2,527.9 L850.7,529.6 L851.0,529.2 L850.5,529.7 L850.8,527.2 L852.0,528.6 L851.9,528.1 L852.3,528.5 L852.4,529.0 L852.6,528.8 L853.0,529.0 L853.6,527.2 L854.0,527.1 L853.6,525.5 L854.8,529.2 L854.8,525.4 L854.6,525.7 L855.2,526.6 L855.1,524.7 L856.0,526.9 L855.2,529.0 L856.6,528.0 L856.9,525.2 L856.0,524.5 L857.1,525.9 L857.5,525.3 L858.1,525.9 L858.1,527.4 L858.5,526.2 L858.2,525.8 L859.0,526.6 L859.7,525.9 L859.9,526.9 L859.6,527.9 L860.0,527.3 L860.4,526.8 L860.3,527.6 L860.6,527.3 L861.6,527.7 L861.2,527.1 L861.8,528.0 L862.4,526.5 L862.5,527.7 L862.8,527.1 L863.0,530.2 L863.9,527.9 L863.8,529.4 L864.4,529.7 L864.7,531.6 L864.9,530.6 L865.0,531.1 L865.4,533.1 L865.3,532.2 L865.9,532.1 L866.4,533.0 L866.9,531.1 L867.0,531.7 L866.9,531.6 L867.1,531.5 L867.7,531.5 L868.0,530.1 L868.3,529.1 L868.6,528.5 L868.8,527.9 L869.2,526.7 L868.9,525.6 L869.8,525.7 L869.7,524.4 L870.7,524.9 L871.2,523.2 L870.7,522.6 L871.2,522.6 L871.3,520.9 L872.0,521.9 L872.7,522.7 L872.6,523.6 L873.0,523.8 L873.4,524.4 L873.5,524.6 L873.7,523.2 L873.9,523.7 L874.8,522.5 L874.8,523.2 L875.1,522.5 L875.7,524.6 L876.0,526.4 L876.6,527.0 L875.6,527.4 L876.5,528.1 L877.1,526.4 L877.0,528.1 L877.4,527.6 L877.8,525.7 L877.6,526.1 L878.4,526.7 L878.6,526.6 L878.8,525.7 L878.2,527.9 L879.2,526.0 L879.7,528.1 L879.8,529.8 L880.2,529.4 L880.6,528.0 L881.1,529.5 L881.2,529.1 L881.2,530.4 L881.5,529.4 L882.3,528.8 L882.2,528.6 L882.6,530.5 L883.1,529.7 L883.7,528.8 L883.6,529.9 L883.8,530.4 L884.4,530.1 L884.8,530.5 L885.0,526.9 L885.0,526.4 L885.7,523.0 L885.6,523.9 L885.5,523.6 L886.4,522.3 L886.9,523.3 L886.5,523.9 L887.2,523.9 L887.6,525.5 L887.9,524.9 L888.4,526.6 L887.9,527.1 L888.7,524.4 L888.7,526.0 L889.2,524.9 L890.0,524.1 L889.8,524.6 L890.0,524.7 L891.0,524.3 L890.5,524.9 L891.4,527.4 L891.8,526.8 L892.2,526.3 L892.1,526.5 L892.2,527.7 L892.0,526.9 L893.3,526.8 L893.1,523.8 L893.5,525.5 L894.3,528.8 L894.5,527.7 L894.0,528.6 L894.3,526.9 L894.4,527.6 L894.8,528.2 L895.6,527.5 L895.8,527.3 L896.1,528.4 L896.8,528.9 L897.1,526.8 L897.4,525.8 L897.4,525.5 L897.6,526.7 L898.1,525.5 L898.0,527.3 L898.3,526.6 L898.5,528.2 L899.5,528.1 L899.2,526.8 L899.4,527.8 L900.2,527.3 L900.9,530.5 L900.8,528.1 L900.8,527.8 L901.7,526.5 L901.3,525.3 L902.5,525.3 L902.4,527.3 L902.5,526.0 L903.2,526.7 L903.1,525.7 L903.3,525.8 L903.8,525.5 L904.2,525.8 L904.2,526.2 L904.7,525.5 L905.0,527.2 L905.3,527.2 L905.6,527.2 L906.3,525.5 L906.6,526.3 L906.4,525.8 L906.5,526.3 L907.0,527.7 L907.4,525.2 L907.4,526.6 L908.0,526.8 L908.3,527.7 L908.2,526.5 L908.4,528.8 L910.0,529.7 L909.3,529.9 L909.7,531.1 L910.5,530.1 L910.1,528.2 L911.0,527.9 L911.3,526.1 L910.9,527.1 L911.7,526.0 L911.7,527.0 L912.1,527.9 L912.1,529.7 L913.0,527.4 L912.8,529.1 L912.9,529.2 L913.5,531.1 L914.0,530.2 L913.9,531.0 L914.3,530.3 L914.8,530.0 L915.1,529.2 L915.1,530.1 L915.8,528.5 L915.7,529.1 L916.6,528.5 L916.8,532.0 L916.8,531.7 L917.0,531.4 L917.0,531.2 L917.7,531.4 L917.7,530.5 L918.3,531.8 L918.5,531.0 L919.4,532.4 L919.0,530.6 L919.6,530.7 L920.1,530.0 L919.7,529.6 L920.3,531.3 L920.7,530.9 L921.1,529.2 L921.7,534.2 L921.9,532.2 L922.1,533.8 L922.5,532.6 L922.8,530.2 L922.9,528.9 L923.3,531.5 L923.4,531.8 L923.8,532.2 L924.1,531.6 L924.8,531.1 L924.4,532.2 L924.7,531.7 L925.2,532.7 L925.7,531.8 L925.6,533.4 L927.0,534.2 L926.5,533.2 L926.5,534.6 L927.1,533.6 L927.1,533.8 L927.6,534.7 L927.9,535.0 L928.0,534.9 L928.8,532.4 L928.9,533.3 L929.0,533.3 L929.7,532.0 L929.7,532.8 L930.3,533.4 L930.5,533.1 L931.0,535.7 L931.1,535.0 L931.2,534.2 L931.1,534.8 L932.1,535.4 L932.1,536.0 L932.2,537.8 L932.8,537.3 L933.4,537.5 L933.5,536.9 L933.4,535.3 L933.9,535.8 L933.7,537.0 L933.9,538.0 L935.0,538.5 L935.7,538.4 L935.4,537.3 L936.2,536.9 L935.9,536.9 L937.0,537.5 L936.7,539.4 L937.2,539.6 L937.5,540.3 L937.3,537.9 L937.7,537.8 L938.4,537.0 L938.4,537.1 L938.7,534.4 L939.3,535.1 L939.6,536.5 L939.7,535.4 L939.7,535.3 L941.1,538.2 L940.4,536.6 L940.5,537.2 L941.7,537.0 L941.6,537.6 L942.1,537.0 L942.4,535.8 L942.2,537.7 L942.5,535.7 L942.9,535.8 L943.4,535.7 L943.8,538.6 L943.9,535.2 L944.4,535.6 L944.7,534.9 L944.6,533.7 L945.3,532.5 L945.5,533.0 L945.5,531.1 L945.4,531.6 L946.6,530.5 L946.8,528.9 L946.7,527.5 L947.1,526.7 L947.1,525.4 L948.0,524.6 L948.4,523.2 L947.6,523.6 L948.6,525.1 L949.1,521.1 L949.5,524.7 L949.4,526.2 L950.3,525.0 L950.3,523.9 L950.4,522.7 L950.9,524.1 L950.4,524.0 L951.2,525.2 L951.5,526.9 L951.8,525.3 L952.5,525.9 L952.5,525.8 L952.4,525.6 L953.4,526.1 L953.1,525.8 L953.9,528.1 L954.3,527.8 L954.5,528.5 L955.0,528.2 L954.7,526.8 L956.2,526.4 L955.5,529.0 L955.8,526.7 L956.7,528.1 L956.7,527.3 L956.9,527.0 L956.5,527.7 L957.3,528.7 L957.7,529.6 L958.4,525.8 L957.8,529.3 L958.3,527.0 L958.8,528.0 L958.4,526.1 L959.9,528.1 L960.0,529.6 L960.2,531.7 L960.2,531.9 L960.6,531.6 L961.2,530.6 L961.6,528.1 L961.5,528.0 L962.0,526.4 L962.1,526.0 L962.2,524.6 L962.7,525.2 L963.5,525.1 L962.8,526.9 L963.6,525.8 L964.2,524.3 L964.0,523.6 L964.7,524.0 L964.9,524.9 L965.4,525.0 L966.4,526.1 L965.6,524.0 L966.1,523.7 L966.3,523.0 L966.0,523.7 L966.7,524.3 L967.5,523.3 L967.9,525.5 L967.8,523.7 L968.0,527.3 L968.7,527.8 L969.0,528.0 L969.1,526.4 L969.9,526.1 L969.6,525.9 L970.2,527.3 L970.3,526.2 L970.8,527.0 L970.7,525.8 L971.1,526.2 L971.3,525.8 L971.6,526.7 L971.8,528.6 L972.0,527.0 L972.6,528.3 L973.0,528.1 L973.5,527.4 L973.3,527.3 L974.1,528.4 L973.8,528.7 L974.3,528.4 L974.4,527.5 L975.4,527.5 L975.3,528.1 L976.2,527.7 L976.1,526.6 L976.2,528.7 L976.4,527.7 L976.5,527.8 L977.5,525.3 L978.0,526.3 L977.9,524.6 L978.0,525.3 L978.3,524.0 L979.3,525.1 L978.8,525.0 L979.4,524.9 L979.4,525.3 L979.7,525.7 L980.3,524.3 L980.2,523.9 L981.1,524.3 L981.1,522.8 L981.4,524.5 L981.9,525.4 L981.5,525.8 L982.4,526.2 L982.1,525.4 L982.8,524.3 L983.6,526.0 L983.3,523.9 L984.1,526.0 L983.7,524.2 L984.2,524.1 L984.4,526.3 L984.7,525.0 L984.8,525.6 L985.1,525.4 L986.1,525.8 L985.7,523.7 L986.5,525.2 L987.0,525.2 L987.4,526.1 L987.7,527.5 L987.8,528.2 L987.9,528.0 L988.4,529.9 L988.8,528.5 L989.3,530.0 L988.7,529.8 L989.8,530.4 L990.2,530.5 L990.6,532.3 L989.9,531.3 L990.2,530.5 L991.1,532.3 L991.2,531.0 L991.5,531.1 L991.9,530.0 L991.8,528.9 L992.2,528.3 L992.2,529.0 L993.0,528.1 L993.9,527.1 L994.1,527.2 L994.0,525.7 L994.5,522.0 L994.6,524.2 L995.0,524.1 L995.0,524.3 L996.2,523.8 L995.6,523.4 L996.2,524.8 L996.3,523.4 L997.0,523.5 L997.1,524.9 L997.3,524.6 L997.0,525.4 L998.0,525.4 L998.3,526.7 L998.4,525.7 L999.0,526.6 L998.5,526.9 L999.7,526.5 L999.2,527.5 L1000.1,526.4 L1000.9,527.4 L1000.8,528.1 L1000.6,529.2 L1001.2,528.1 L1001.2,530.7 L1002.1,527.8 L1002.3,528.2 L1002.5,526.9 L1002.9,526.3 L1003.3,527.5 L1003.2,528.7 L1003.8,527.7 L1003.8,528.1 L1003.9,528.7 L1004.7,528.6 L1004.9,527.7 L1004.4,527.4 L1006.0,527.4 L1005.6,528.0 L1005.9,528.1 L1006.8,530.6 L1006.6,531.9 L1007.0,530.5 L1007.7,530.4 L1007.8,530.1 L1007.4,531.5 L1008.0,529.4 L1008.4,525.4 L1008.7,527.4 L1009.2,526.4 L1009.7,525.6 L1009.8,524.5 L1009.9,523.2 L1009.9,524.3 L1010.5,524.0 L1010.9,523.5 L1011.3,520.5 L1011.3,523.2 L1012.1,525.9 L1012.2,523.8 L1011.8,526.9 L1013.1,526.2 L1013.2,528.7 L1013.2,525.4 L1013.6,528.1 L1013.8,526.1 L1013.9,528.0 L1014.8,528.0 L1014.9,528.3 L1014.9,529.3 L1015.1,530.9 L1015.3,529.3 L1015.9,529.5 L1016.5,529.2 L1016.6,528.9 L1016.2,533.4 L1017.0,529.6 L1017.1,530.2 L1018.1,529.9 L1018.5,529.7 L1018.4,529.6 L1018.4,530.0 L1018.8,531.6 L1019.6,532.4 L1019.6,533.2" fill="none" stroke="#000" stroke-width="1.2" stroke-linejoin="bevel"/>
<path d="M81.4,535.9 L82.1,534.5 L82.8,533.4 L83.5,533.1 L84.2,531.0 L84.9,528.0 L85.6,526.3 L86.3,525.0 L87.0,524.1 L87.7,522.3 L88.4,521.6 L89.1,521.0 L89.8,521.4 L90.5,523.1 L91.2,523.3 L91.9,523.2 L92.6,524.2 L93.3,525.2 L94.0,526.6 L94.7,527.3 L95.4,528.3 L96.1,528.6 L96.8,527.4 L97.5,528.3 L98.2,528.9 L98.9,528.8 L99.6,527.0 L100.3,524.8 L101.0,524.8 L101.7,524.1 L102.4,523.8 L103.1,521.4 L103.8,521.9 L104.5,522.7 L105.2,520.6 L105.9,521.0 L106.6,521.4 L107.3,521.6 L108.0,522.3 L108.7,525.4 L109.4,526.1 L110.1,525.8 L110.8,526.3 L111.5,526.1 L112.2,526.0 L112.9,527.3 L113.6,529.3 L114.3,528.2 L115.0,528.1 L115.7,525.7 L116.4,525.5 L117.1,524.8 L117.8,523.1 L118.5,521.5 L119.2,521.2 L119.9,520.5 L120.6,519.5 L121.3,520.9 L122.0,523.2 L122.7,522.7 L123.4,522.5 L124.1,523.8 L124.8,523.5 L125.5,524.0 L126.2,526.7 L126.9,527.2 L127.6,526.5 L128.3,528.0 L129.0,526.4 L129.7,524.2 L130.4,523.8 L131.1,524.5 L131.8,522.8 L132.5,522.4 L133.2,522.2 L133.9,521.9 L134.6,521.2 L135.3,522.2 L136.0,522.5 L136.7,523.3 L137.4,522.6 L138.1,521.6 L138.8,522.4 L139.5,524.4 L140.2,523.8 L140.9,523.7 L141.6,523.7 L142.3,525.5 L143.0,529.1 L143.7,528.2 L144.4,528.4 L145.1,528.7 L145.8,530.6 L146.5,529.2 L147.2,525.9 L147.9,524.3 L148.6,522.2 L149.3,522.1 L150.0,523.6 L150.7,524.4 L151.4,523.6 L152.1,525.3 L152.8,525.8 L153.5,523.6 L154.2,522.4 L154.9,523.3 L155.6,525.9 L156.3,528.5 L157.0,529.1 L157.7,529.9 L158.4,529.9 L159.1,530.7 L159.8,530.6 L160.5,529.3 L161.2,529.9 L161.9,531.5 L162.6,532.3 L163.3,532.2 L164.0,531.2 L164.7,530.8 L165.4,529.6 L166.1,530.1 L166.8,533.2 L167.5,532.6 L168.2,530.6 L168.9,529.6 L169.6,531.0 L170.3,533.4 L171.0,532.4 L171.7,531.2 L172.4,531.8 L173.1,533.1 L173.8,533.9 L174.5,534.2 L175.2,533.3 L175.9,531.0 L176.6,532.5 L177.3,534.4 L178.0,534.7 L178.7,535.4 L179.4,536.5 L180.1,537.4 L180.8,536.6 L181.5,535.5 L182.2,537.6 L182.9,538.7 L183.6,538.5 L184.3,536.4 L185.0,535.0 L185.7,538.0 L186.4,538.3 L187.1,537.9 L187.8,537.5 L188.5,536.3 L189.2,535.8 L189.9,534.1 L190.6,533.2 L191.3,532.1 L192.0,532.8 L192.7,530.6 L193.4,525.0 L194.1,523.4 L194.8,525.0 L195.5,524.4 L196.2,523.2 L196.9,523.4 L197.6,525.7 L198.3,527.6 L199.0,528.3 L199.7,527.3 L200.4,526.1 L201.1,528.3 L201.8,528.9 L202.5,528.9 L203.2,527.5 L203.9,527.7 L204.6,528.8 L205.3,529.0 L206.0,529.9 L206.7,528.2 L207.4,527.3 L208.1,526.5 L208.8,525.8 L209.5,523.0 L210.2,522.7 L210.9,524.0 L211.6,523.8 L212.3,523.2 L213.0,523.7 L213.7,522.5 L214.4,522.1 L215.1,523.7 L215.8,525.7 L216.5,525.5 L217.2,528.1 L217.9,529.3 L218.6,531.0 L219.3,527.8 L220.0,524.9 L220.7,525.0 L221.4,526.8 L222.1,527.3 L222.8,526.8 L223.5,524.9 L224.2,525.8 L224.9,523.9 L225.6,522.1 L226.3,520.1 L227.0,520.6 L227.7,521.9 L228.4,521.0 L229.1,522.3 L229.8,524.5 L230.5,525.8 L231.2,525.9 L231.9,525.8 L232.6,525.0 L233.3,525.1 L234.0,523.4 L234.7,524.5 L235.4,527.6 L236.1,528.5 L236.8,528.4 L237.5,528.7 L238.2,530.4 L238.9,528.8 L239.6,526.8 L240.3,523.0 L241.0,519.3 L241.7,519.0 L242.4,520.5 L243.1,523.3 L243.8,524.1 L244.5,523.9 L245.2,525.3 L245.9,524.9 L246.6,524.8 L247.3,525.0 L248.0,524.5 L248.7,524.7 L249.4,525.2 L250.1,527.2 L250.8,530.1 L251.5,530.0 L252.2,528.5 L252.9,528.2 L253.6,527.5 L254.3,526.5 L255.0,522.6 L255.7,521.2 L256.4,522.1 L257.1,522.8 L257.8,523.8 L258.5,524.6 L259.2,525.1 L259.9,525.2 L260.6,526.2 L261.3,527.6 L262.0,528.8 L262.7,528.5 L263.4,528.7 L264.1,528.6 L264.8,529.2 L265.5,528.7 L266.2,525.4 L266.9,527.0 L267.6,528.3 L268.3,529.4 L269.0,530.4 L269.7,531.1 L270.4,532.6 L271.1,533.0 L271.8,533.1 L272.5,532.8 L273.2,532.6 L273.9,532.0 L274.6,533.0 L275.3,533.6 L276.0,532.1 L276.7,533.2 L277.4,533.7 L278.1,534.8 L278.8,534.1 L279.5,532.8 L280.2,532.7 L280.9,532.7 L281.6,533.3 L282.3,535.3 L283.0,536.0 L283.7,536.1 L284.4,535.0 L285.1,534.2 L285.8,536.2 L286.5,536.8 L287.2,536.4 L287.9,537.3 L288.6,536.8 L289.3,537.2 L290.0,536.9 L290.7,537.0 L291.4,537.3 L292.1,538.0 L292.8,538.3 L293.5,537.5 L294.2,538.2 L294.9,538.8 L295.6,537.8 L296.3,536.9 L297.0,536.0 L297.7,537.5 L298.4,537.8 L299.1,536.4 L299.8,534.7 L300.5,532.0 L301.2,528.7 L301.9,527.5 L302.6,527.1 L303.3,526.4 L304.0,525.5 L304.7,522.9 L305.4,524.2 L306.1,525.2 L306.8,524.1 L307.5,525.4 L308.2,525.8 L308.9,526.9 L309.6,527.6 L310.3,527.4 L311.0,525.4 L311.7,525.6 L312.4,527.9 L313.1,527.7 L313.8,526.8 L314.5,524.3 L315.2,524.7 L315.9,525.7 L316.6,522.9 L317.3,523.0 L318.0,524.6 L318.7,524.0 L319.4,523.1 L320.1,523.3 L320.8,523.0 L321.5,523.5 L322.2,526.2 L322.9,527.0 L323.6,527.3 L324.3,527.2 L325.0,527.4 L325.7,526.6 L326.4,524.7 L327.1,524.6 L327.8,525.6 L328.5,528.1 L329.2,530.0 L329.9,529.5 L330.6,528.7 L331.3,526.8 L332.0,525.6 L332.7,523.5 L333.4,521.5 L334.1,523.0 L334.8,522.9 L335.5,521.9 L336.2,521.1 L336.9,521.0 L337.6,520.6 L338.3,522.5 L339.0,524.4 L339.7,524.5 L340.4,523.9 L341.1,525.4 L341.8,525.3 L342.5,526.3 L343.2,528.2 L343.9,526.8 L344.6,525.3 L345.3,525.5 L346.0,524.4 L346.7,524.0 L347.4,524.8 L348.1,523.1 L348.8,521.2 L349.5,524.1 L350.2,524.1 L350.9,524.3 L351.6,524.4 L352.3,524.3 L353.0,524.1 L353.7,524.7 L354.4,526.2 L355.1,527.3 L355.8,528.4 L356.5,529.6 L357.2,528.5 L357.9,527.6 L358.6,526.1 L359.3,525.9 L360.0,526.0 L360.7,527.4 L361.4,529.0 L362.1,527.7 L362.8,526.0 L363.5,523.9 L364.2,523.2 L364.9,524.2 L365.6,525.5 L366.3,526.1 L367.0,526.3 L367.7,525.2 L368.4,524.0 L369.1,523.0 L369.8,523.3 L370.5,524.6 L371.2,524.9 L371.9,525.0 L372.6,526.2 L373.3,527.2 L374.0,526.9 L374.7,528.3 L375.4,528.5 L376.1,527.7 L376.8,528.9 L377.5,529.2 L378.2,529.9 L378.9,529.3 L379.6,527.6 L380.3,526.6 L381.0,526.9 L381.7,529.7 L382.4,529.6 L383.1,530.5 L383.8,531.4 L384.5,531.5 L385.2,531.0 L385.9,533.3 L386.6,534.0 L387.3,532.6 L388.0,531.5 L388.7,530.5 L389.4,531.9 L390.1,533.2 L390.8,534.1 L391.5,532.6 L392.2,534.1 L392.9,535.5 L393.6,537.6 L394.3,537.5 L395.0,536.6 L395.7,536.7 L396.4,538.7 L397.1,541.1 L397.8,538.0 L398.5,537.5 L399.2,539.7 L399.9,539.4 L400.6,538.8 L401.3,539.4 L402.0,538.5 L402.7,537.6 L403.4,540.3 L404.1,540.8 L404.8,541.7 L405.5,542.5 L406.2,543.4 L406.9,543.5 L407.6,543.1 L408.3,542.3 L409.0,544.6 L409.7,545.5 L410.4,545.8 L411.1,544.9 L411.8,544.0 L412.5,544.0 L413.2,544.0 L413.9,542.7 L414.6,541.6 L415.3,543.5 L416.0,545.0 L416.7,544.8 L417.4,543.5 L418.1,543.0 L418.8,545.2 L419.5,546.0 L420.2,544.5 L420.9,545.4 L421.6,545.7 L422.3,546.1 L423.0,547.1 L423.7,546.9 L424.4,548.4 L425.1,548.9 L425.8,549.2 L426.5,548.2 L427.2,548.3 L427.9,549.7 L428.6,549.4 L429.3,549.2 L430.0,548.8 L430.7,549.6 L431.4,549.8 L432.1,549.5 L432.8,548.9 L433.5,548.1 L434.2,549.1 L434.9,549.1 L435.6,549.5 L436.3,549.4 L437.0,546.1 L437.7,541.0 L438.4,538.5 L439.1,537.0 L439.8,535.0 L440.5,532.2 L441.2,530.7 L441.9,529.0 L442.6,527.7 L443.3,528.3 L444.0,529.5 L444.7,529.0 L445.4,526.9 L446.1,528.0 L446.8,530.2 L447.5,533.8 L448.2,535.6 L448.9,537.0 L449.6,536.5 L450.3,536.5 L451.0,536.5 L451.7,534.5 L452.4,534.4 L453.1,533.7 L453.8,533.8 L454.5,531.7 L455.2,529.5 L455.9,528.6 L456.6,529.1 L457.3,526.7 L458.0,527.1 L458.7,528.6 L459.4,530.4 L460.1,531.3 L460.8,531.0 L461.5,531.6 L462.2,532.0 L462.9,531.9 L463.6,533.0 L464.3,533.7 L465.0,532.8 L465.7,533.6 L466.4,533.5 L467.1,530.8 L467.8,529.8 L468.5,529.7 L469.2,530.8 L469.9,531.5 L470.6,529.1 L471.3,529.4 L472.0,529.4 L472.7,529.1 L473.4,528.8 L474.1,529.0 L474.8,529.5 L475.5,531.3 L476.2,534.2 L476.9,533.8 L477.6,533.8 L478.3,535.9 L479.0,536.1 L479.7,534.9 L480.4,533.9 L481.1,532.0 L481.8,530.9 L482.5,534.1 L483.2,536.0 L483.9,534.7 L484.6,534.2 L485.3,531.9 L486.0,529.7 L486.7,529.3 L487.4,529.6 L488.1,529.5 L488.8,530.0 L489.5,532.2 L490.2,533.0 L490.9,530.4 L491.6,528.8 L492.3,525.4 L493.0,524.2 L493.7,530.2 L494.4,531.9 L495.1,528.8 L495.8,528.6 L496.5,529.2 L497.2,530.6 L497.9,531.5 L498.6,532.6 L499.3,534.7 L500.0,532.0 L500.7,529.6 L501.4,531.9 L502.1,534.4 L502.8,536.8 L503.5,536.5 L504.2,534.9 L504.9,533.4 L505.6,534.8 L506.3,535.5 L507.0,535.3 L507.7,535.4 L508.4,535.9 L509.1,536.5 L509.8,536.4 L510.5,536.7 L511.2,536.2 L511.9,535.2 L512.6,534.9 L513.3,535.9 L514.0,535.8 L514.7,535.3 L515.4,534.4 L516.1,532.4 L516.8,528.3 L517.5,527.1 L518.2,527.6 L518.9,528.3 L519.6,527.0 L520.3,526.1 L521.0,526.6 L521.7,525.8 L522.4,526.6 L523.1,526.8 L523.8,527.9 L524.5,529.4 L525.2,529.6 L525.9,528.1 L526.6,528.5 L527.3,528.7 L528.0,528.8 L528.7,528.2 L529.4,526.5 L530.1,526.7 L530.8,526.2 L531.5,525.4 L532.2,525.5 L532.9,524.7 L533.6,524.9 L534.3,525.1 L535.0,525.9 L535.7,527.1 L536.4,528.7 L537.1,527.4 L537.8,526.4 L538.5,527.1 L539.2,528.1 L539.9,528.5 L540.6,530.4 L541.3,530.7 L542.0,528.7 L542.7,527.6 L543.4,529.2 L544.1,528.6 L544.8,527.1 L545.5,527.5 L546.2,526.7 L546.9,526.6 L547.6,526.0 L548.3,525.8 L549.0,527.5 L549.7,528.7 L550.4,528.9 L551.1,529.4 L551.8,529.3 L552.5,529.6 L553.2,531.2 L553.9,531.3 L554.6,531.1 L555.3,530.5 L556.0,532.2 L556.7,533.7 L557.4,533.2 L558.1,534.6 L558.8,537.5 L559.5,540.1 L560.2,542.5 L560.9,543.2 L561.6,545.0 L562.3,546.4 L563.0,546.7 L563.7,547.9 L564.4,550.1 L565.1,550.8 L565.8,550.2 L566.5,549.1 L567.2,548.2 L567.9,548.3 L568.6,549.4 L569.3,550.1 L570.0,550.6 L570.7,548.9 L571.4,549.5 L572.1,550.6 L572.8,550.0 L573.5,549.5 L574.2,549.6 L574.9,549.6 L575.6,549.5 L576.3,550.6 L577.0,548.8 L577.7,548.1 L578.4,550.3 L579.1,551.0 L579.8,552.6 L580.5,549.7 L581.2,549.8 L581.9,551.1 L582.6,549.8 L583.3,549.8 L584.0,551.8 L584.7,550.7 L585.4,548.9 L586.1,549.2 L586.8,547.7 L587.5,548.0 L588.2,549.5 L588.9,549.6 L589.6,547.7 L590.3,550.3 L591.0,551.9 L591.7,552.5 L592.4,552.1 L593.1,550.6 L593.8,549.6 L594.5,549.4 L595.2,551.1 L595.9,548.4 L596.6,549.0 L597.3,549.5 L598.0,549.2 L598.7,549.6 L599.4,550.4 L600.1,550.1 L600.8,550.3 L601.5,549.0 L602.2,548.6 L602.9,548.9 L603.6,549.8 L604.3,550.0 L605.0,551.3 L605.7,548.5 L606.4,548.7 L607.1,549.8 L607.8,548.9 L608.5,549.1 L609.2,548.8 L609.9,550.0 L610.6,550.4 L611.3,550.1 L612.0,549.7 L612.7,549.9 L613.4,548.7 L614.1,549.1 L614.8,549.2 L615.5,549.7 L616.2,548.5 L616.9,548.2 L617.6,548.3 L618.3,547.0 L619.0,545.2 L619.7,544.5 L620.4,542.6 L621.1,541.6 L621.8,541.2 L622.5,540.9 L623.2,540.3 L623.9,538.4 L624.6,534.5 L625.3,531.4 L626.0,529.2 L626.7,526.9 L627.4,526.0 L628.1,524.7 L628.8,526.0 L629.5,526.1 L630.2,525.8 L630.9,526.3 L631.6,528.3 L632.3,530.0 L633.0,529.6 L633.7,529.0 L634.4,528.4 L635.1,530.4 L635.8,533.7 L636.5,532.9 L637.2,532.8 L637.9,533.6 L638.6,529.3 L639.3,526.2 L640.0,524.2 L640.7,523.7 L641.4,525.8 L642.1,528.6 L642.8,527.0 L643.5,525.6 L644.2,523.9 L644.9,523.4 L645.6,522.5 L646.3,524.0 L647.0,524.8 L647.7,525.8 L648.4,526.7 L649.1,527.3 L649.8,529.6 L650.5,530.3 L651.2,530.4 L651.9,531.2 L652.6,529.8 L653.3,528.1 L654.0,525.7 L654.7,523.1 L655.4,524.7 L656.1,523.4 L656.8,523.9 L657.5,526.0 L658.2,525.7 L658.9,523.6 L659.6,521.2 L660.3,521.4 L661.0,524.6 L661.7,524.6 L662.4,524.1 L663.1,525.7 L663.8,525.8 L664.5,526.5 L665.2,528.7 L665.9,530.6 L666.6,533.1 L667.3,532.5 L668.0,530.7 L668.7,526.7 L669.4,525.8 L670.1,525.3 L670.8,524.6 L671.5,523.6 L672.2,522.8 L672.9,523.9 L673.6,523.7 L674.3,522.9 L675.0,523.9 L675.7,524.9 L676.4,525.0 L677.1,525.3 L677.8,524.3 L678.5,525.3 L679.2,526.1 L679.9,526.8 L680.6,528.0 L681.3,528.6 L682.0,528.3 L682.7,529.6 L683.4,528.6 L684.1,527.2 L684.8,526.0 L685.5,524.2 L686.2,522.8 L686.9,521.0 L687.6,519.9 L688.3,519.8 L689.0,519.6 L689.7,520.8 L690.4,522.7 L691.1,524.5 L691.8,525.4 L692.5,525.8 L693.2,525.8 L693.9,526.4 L694.6,527.7 L695.3,529.4 L696.0,529.1 L696.7,529.8 L697.4,530.6 L698.1,528.8 L698.8,528.2 L699.5,529.1 L700.2,531.0 L700.9,532.4 L701.6,532.9 L702.3,531.9 L703.0,532.0 L703.7,531.4 L704.4,532.1 L705.1,531.3 L705.8,533.8 L706.5,533.5 L707.2,532.7 L707.9,532.7 L708.6,533.1 L709.3,531.4 L710.0,532.0 L710.7,532.9 L711.4,534.5 L712.1,535.4 L712.8,536.6 L713.5,538.0 L714.2,538.4 L714.9,538.0 L715.6,538.3 L716.3,539.1 L717.0,539.3 L717.7,539.3 L718.4,539.0 L719.1,537.7 L719.8,537.9 L720.5,538.4 L721.2,536.8 L721.9,535.5 L722.6,535.2 L723.3,535.5 L724.0,536.0 L724.7,535.8 L725.4,536.4 L726.1,537.0 L726.8,534.3 L727.5,535.0 L728.2,538.6 L728.9,537.5 L729.6,536.3 L730.3,534.3 L731.0,534.4 L731.7,532.6 L732.4,528.9 L733.1,526.4 L733.8,525.4 L734.5,525.3 L735.2,525.7 L735.9,526.4 L736.6,526.7 L737.3,526.1 L738.0,525.7 L738.7,527.6 L739.4,528.9 L740.1,528.2 L740.8,526.8 L741.5,527.3 L742.2,527.5 L742.9,528.6 L743.6,529.2 L744.3,530.2 L745.0,529.3 L745.7,526.5 L746.4,524.5 L747.1,524.5 L747.8,522.8 L748.5,522.5 L749.2,521.2 L749.9,523.4 L750.6,524.5 L751.3,523.3 L752.0,524.9 L752.7,525.8 L753.4,527.7 L754.1,528.2 L754.8,526.7 L755.5,526.1 L756.2,525.9 L756.9,527.5 L757.6,528.9 L758.3,528.8 L759.0,528.2 L759.7,527.8 L760.4,527.6 L761.1,528.6 L761.8,527.4 L762.5,526.5 L763.2,526.3 L763.9,525.9 L764.6,525.4 L765.3,525.8 L766.0,525.5 L766.7,524.3 L767.4,523.6 L768.1,524.2 L768.8,525.2 L769.5,526.8 L770.2,527.7 L770.9,526.8 L771.6,528.0 L772.3,529.9 L773.0,530.5 L773.7,531.4 L774.4,531.7 L775.1,533.3 L775.8,531.3 L776.5,528.0 L777.2,527.1 L777.9,525.5 L778.6,524.1 L779.3,522.2 L780.0,522.3 L780.7,521.6 L781.4,523.2 L782.1,526.3 L782.8,525.8 L783.5,525.3 L784.2,524.7 L784.9,526.1 L785.6,527.6 L786.3,527.9 L787.0,527.1 L787.7,525.3 L788.4,525.1 L789.1,526.9 L789.8,530.6 L790.5,528.2 L791.2,526.7 L791.9,527.2 L792.6,525.4 L793.3,522.7 L794.0,523.6 L794.7,522.8 L795.4,522.7 L796.1,523.7 L796.8,524.5 L797.5,524.5 L798.2,526.0 L798.9,526.7 L799.6,527.0 L800.3,527.5 L801.0,527.5 L801.7,529.7 L802.4,531.2 L803.1,531.6 L803.8,531.8 L804.5,531.6 L805.2,529.5 L805.9,528.8 L806.6,529.0 L807.3,529.0 L808.0,530.7 L808.7,531.9 L809.4,532.1 L810.1,531.9 L810.8,532.5 L811.5,532.0 L812.2,532.0 L812.9,531.7 L813.6,532.4 L814.3,532.9 L815.0,533.1 L815.7,533.0 L816.4,531.4 L817.1,530.1 L817.8,530.7 L818.5,531.5 L819.2,532.5 L819.9,533.0 L820.6,534.1 L821.3,534.5 L822.0,534.6 L822.7,534.8 L823.4,535.2 L824.1,535.6 L824.8,534.9 L825.5,536.5 L826.2,538.1 L826.9,538.1 L827.6,538.4 L828.3,537.1 L829.0,537.2 L829.7,537.7 L830.4,536.1 L831.1,535.3 L831.8,534.4 L832.5,535.6 L833.2,537.0 L833.9,538.2 L834.6,535.8 L835.3,535.9 L836.0,535.3 L836.7,532.9 L837.4,530.6 L838.1,527.6 L838.8,527.2 L839.5,526.4 L840.2,525.7 L840.9,525.4 L841.6,524.9 L842.3,524.0 L843.0,525.0 L843.7,527.1 L844.4,527.3 L845.1,525.9 L845.8,526.9 L846.5,525.6 L847.2,526.4 L847.9,526.2 L848.6,526.0 L849.3,525.6 L850.0,528.7 L850.7,529.7 L851.4,528.8 L852.1,529.2 L852.8,528.5 L853.5,526.8 L854.2,525.6 L854.9,525.4 L855.6,525.9 L856.3,525.5 L857.0,525.7 L857.7,526.5 L858.4,526.6 L859.1,526.7 L859.8,527.8 L860.5,528.3 L861.2,527.2 L861.9,527.3 L862.6,527.4 L863.3,528.6 L864.0,529.9 L864.7,531.1 L865.4,532.0 L866.1,531.9 L866.8,530.9 L867.5,531.1 L868.2,530.3 L868.9,527.9 L869.6,525.8 L870.3,524.2 L871.0,521.6 L871.7,521.4 L872.4,523.3 L873.1,524.1 L873.8,524.0 L874.5,522.7 L875.2,524.3 L875.9,526.1 L876.6,526.9 L877.3,526.5 L878.0,526.6 L878.7,526.1 L879.4,528.1 L880.1,529.4 L880.8,529.4 L881.5,529.6 L882.2,529.2 L882.9,529.3 L883.6,530.7 L884.3,530.9 L885.0,526.6 L885.7,523.2 L886.4,522.6 L887.1,524.1 L887.8,525.5 L888.5,525.9 L889.2,524.9 L889.9,523.5 L890.6,524.9 L891.3,526.8 L892.0,527.0 L892.7,526.2 L893.4,526.0 L894.1,527.4 L894.8,527.8 L895.5,527.3 L896.2,526.8 L896.9,525.6 L897.6,524.2 L898.3,525.8 L899.0,527.9 L899.7,527.6 L900.4,527.8 L901.1,527.7 L901.8,526.5 L902.5,526.3 L903.2,526.2 L903.9,525.2 L904.6,526.0 L905.3,526.6 L906.0,526.2 L906.7,525.8 L907.4,527.2 L908.1,528.0 L908.8,528.5 L909.5,530.0 L910.2,528.9 L910.9,527.0 L911.6,526.5 L912.3,527.5 L913.0,529.7 L913.7,530.3 L914.4,530.9 L915.1,530.2 L915.8,529.9 L916.5,530.0 L917.2,530.6 L917.9,531.4 L918.6,531.6 L919.3,530.5 L920.0,530.5 L920.7,530.4 L921.4,532.8 L922.1,533.0 L922.8,530.8 L923.5,531.6 L924.2,532.0 L924.9,530.6 L925.6,531.9 L926.3,534.3 L927.0,533.9 L927.7,533.6 L928.4,533.9 L929.1,533.0 L929.8,533.4 L930.5,534.4 L931.2,534.9 L931.9,535.3 L932.6,536.3 L933.3,536.7 L934.0,536.2 L934.7,538.6 L935.4,539.1 L936.1,536.7 L936.8,539.3 L937.5,539.3 L938.2,536.0 L938.9,535.7 L939.6,536.6 L940.3,536.7 L941.0,536.8 L941.7,536.6 L942.4,536.5 L943.1,535.7 L943.8,536.2 L944.5,534.9 L945.2,533.3 L945.9,531.3 L946.6,528.8 L947.3,525.8 L948.0,524.1 L948.7,524.3 L949.4,525.7 L950.1,524.9 L950.8,525.0 L951.5,525.2 L952.2,525.7 L952.9,526.1 L953.6,526.4 L954.3,526.9 L955.0,527.1 L955.7,527.5 L956.4,528.0 L957.1,528.3 L957.8,528.4 L958.5,528.4 L959.2,527.2 L959.9,530.2 L960.6,531.7 L961.3,529.4 L962.0,526.5 L962.7,525.3 L963.4,525.4 L964.1,524.7 L964.8,524.2 L965.5,524.2 L966.2,524.5 L966.9,524.1 L967.6,525.7 L968.3,526.8 L969.0,526.3 L969.7,526.9 L970.4,526.7 L971.1,526.8 L971.8,527.1 L972.5,527.7 L973.2,527.7 L973.9,527.3 L974.6,528.4 L975.3,527.8 L976.0,527.9 L976.7,528.4 L977.4,525.8 L978.1,524.9 L978.8,525.0 L979.5,524.1 L980.2,524.1 L980.9,523.6 L981.6,524.1 L982.3,525.9 L983.0,525.6 L983.7,524.5 L984.4,524.7 L985.1,524.8 L985.8,525.8 L986.5,525.4 L987.2,526.4 L987.9,528.8 L988.6,528.8 L989.3,529.8 L990.0,530.9 L990.7,532.1 L991.4,530.4 L992.1,529.3 L992.8,528.3 L993.5,526.1 L994.2,524.5 L994.9,524.6 L995.6,524.2 L996.3,523.0 L997.0,524.5 L997.7,525.0 L998.4,526.1 L999.1,526.4 L999.8,527.2 L1000.5,527.4 L1001.2,527.9 L1001.9,528.1 L1002.6,527.7 L1003.3,527.4 L1004.0,528.5 L1004.7,528.2 L1005.4,528.7 L1006.1,529.4 L1006.8,530.9 L1007.5,529.7 L1008.2,529.1 L1008.9,526.9 L1009.6,524.2 L1010.3,523.2 L1011.0,524.0 L1011.7,524.7 L1012.4,525.5 L1013.1,527.0 L1013.8,527.0 L1014.5,528.2 L1015.2,528.6 L1015.9,528.1 L1016.6,529.2 L1017.3,530.3 L1018.0,530.3 L1018.7,531.0 L1019.4,532.8" fill="none" stroke="#000" stroke-width="2.8" stroke-linejoin="miter" stroke-miterlimit="5"/>
<path d="M65.30000000000001,10.0 H1019.6 V276.4 M81.4,10.0 V557.2 M65.30000000000001,276.4 H1019.6 M81.4,291.7 H1019.6 M1019.6,291.7 V565.2 M65.30000000000001,557.2 H1019.6 M73.0,249.8 H81.4 M65.3,223.1 H81.4 M73.0,196.5 H81.4 M65.3,169.8 H81.4 M73.0,143.2 H81.4 M65.3,116.6 H81.4 M73.0,89.9 H81.4 M65.3,63.3 H81.4 M73.0,36.6 H81.4 M73.0,544.9 H81.4 M73.0,532.6 H81.4 M73.0,520.3 H81.4 M65.3,508.0 H81.4 M73.0,495.7 H81.4 M73.0,483.4 H81.4 M73.0,471.1 H81.4 M65.3,458.8 H81.4 M73.0,446.5 H81.4 M73.0,434.2 H81.4 M73.0,421.9 H81.4 M65.3,409.6 H81.4 M73.0,397.3 H81.4 M73.0,385.0 H81.4 M73.0,372.7 H81.4 M65.3,360.4 H81.4 M73.0,348.1 H81.4 M73.0,335.8 H81.4 M73.0,323.5 H81.4 M65.3,311.2 H81.4 M73.0,298.9 H81.4 M81.4,557.2 V573.2 M96.8,557.2 V565.2 M96.8,276.4 V291.7 M112.2,557.2 V565.2 M112.2,276.4 V291.7 M127.5,557.2 V565.2 M127.5,276.4 V291.7 M142.9,557.2 V565.2 M142.9,276.4 V291.7 M158.3,557.2 V565.2 M158.3,276.4 V291.7 M173.7,557.2 V565.2 M173.7,276.4 V291.7 M189.1,557.2 V573.2 M189.1,276.4 V291.7 M204.4,557.2 V565.2 M204.4,276.4 V291.7 M219.8,557.2 V565.2 M219.8,276.4 V291.7 M235.2,557.2 V565.2 M235.2,276.4 V291.7 M250.6,557.2 V565.2 M250.6,276.4 V291.7 M266.0,557.2 V565.2 M266.0,276.4 V291.7 M281.3,557.2 V565.2 M281.3,276.4 V291.7 M296.7,557.2 V573.2 M296.7,276.4 V291.7 M312.1,557.2 V565.2 M312.1,276.4 V291.7 M327.5,557.2 V565.2 M327.5,276.4 V291.7 M342.9,557.2 V565.2 M342.9,276.4 V291.7 M358.2,557.2 V565.2 M358.2,276.4 V291.7 M373.6,557.2 V565.2 M373.6,276.4 V291.7 M389.0,557.2 V565.2 M389.0,276.4 V291.7 M404.4,557.2 V573.2 M404.4,276.4 V291.7 M419.8,557.2 V565.2 M419.8,276.4 V291.7 M435.1,557.2 V565.2 M435.1,276.4 V291.7 M450.5,557.2 V565.2 M450.5,276.4 V291.7 M465.9,557.2 V565.2 M465.9,276.4 V291.7 M481.3,557.2 V565.2 M481.3,276.4 V291.7 M496.7,557.2 V565.2 M496.7,276.4 V291.7 M512.0,557.2 V573.2 M512.0,276.4 V291.7 M527.4,557.2 V565.2 M527.4,276.4 V291.7 M542.8,557.2 V565.2 M542.8,276.4 V291.7 M558.2,557.2 V565.2 M558.2,276.4 V291.7 M573.6,557.2 V565.2 M573.6,276.4 V291.7 M589.0,557.2 V565.2 M589.0,276.4 V291.7 M604.3,557.2 V565.2 M604.3,276.4 V291.7 M619.7,557.2 V573.2 M619.7,276.4 V291.7 M635.1,557.2 V565.2 M635.1,276.4 V291.7 M650.5,557.2 V565.2 M650.5,276.4 V291.7 M665.9,557.2 V565.2 M665.9,276.4 V291.7 M681.2,557.2 V565.2 M681.2,276.4 V291.7 M696.6,557.2 V565.2 M696.6,276.4 V291.7 M712.0,557.2 V565.2 M712.0,276.4 V291.7 M727.4,557.2 V573.2 M727.4,276.4 V291.7 M742.8,557.2 V565.2 M742.8,276.4 V291.7 M758.1,557.2 V565.2 M758.1,276.4 V291.7 M773.5,557.2 V565.2 M773.5,276.4 V291.7 M788.9,557.2 V565.2 M788.9,276.4 V291.7 M804.3,557.2 V565.2 M804.3,276.4 V291.7 M819.7,557.2 V565.2 M819.7,276.4 V291.7 M835.0,557.2 V573.2 M835.0,276.4 V291.7 M850.4,557.2 V565.2 M850.4,276.4 V291.7 M865.8,557.2 V565.2 M865.8,276.4 V291.7 M881.2,557.2 V565.2 M881.2,276.4 V291.7 M896.6,557.2 V565.2 M896.6,276.4 V291.7 M911.9,557.2 V565.2 M911.9,276.4 V291.7 M927.3,557.2 V565.2 M927.3,276.4 V291.7 M942.7,557.2 V573.2 M942.7,276.4 V291.7 M958.1,557.2 V565.2 M958.1,276.4 V291.7 M973.5,557.2 V565.2 M973.5,276.4 V291.7 M988.8,557.2 V565.2 M988.8,276.4 V291.7 M1004.2,557.2 V565.2 M1004.2,276.4 V291.7 M1019.6,557.2 V565.2" fill="none" stroke="#222" stroke-width="1.8"/>
<text x="58" y="283.9" font-size="22" text-anchor="end">0.0</text>
<text x="58" y="230.6" font-size="22" text-anchor="end">0.2</text>
<text x="58" y="177.3" font-size="22" text-anchor="end">0.4</text>
<text x="58" y="124.1" font-size="22" text-anchor="end">0.6</text>
<text x="58" y="70.8" font-size="22" text-anchor="end">0.8</text>
<text x="58" y="17.5" font-size="22" text-anchor="end">1.0</text>
<text x="58" y="564.7" font-size="22" text-anchor="end">0.0</text>
<text x="58" y="515.5" font-size="22" text-anchor="end">1.0</text>
<text x="58" y="466.3" font-size="22" text-anchor="end">2.0</text>
<text x="58" y="417.1" font-size="22" text-anchor="end">3.0</text>
<text x="58" y="367.9" font-size="22" text-anchor="end">4.0</text>
<text x="58" y="318.7" font-size="22" text-anchor="end">5.0</text>
<text x="81.4" y="596.7" font-size="22" text-anchor="middle">39356</text>
<text x="189.1" y="596.7" font-size="22" text-anchor="middle">39363</text>
<text x="296.7" y="596.7" font-size="22" text-anchor="middle">39370</text>
<text x="404.4" y="596.7" font-size="22" text-anchor="middle">39377</text>
<text x="512.0" y="596.7" font-size="22" text-anchor="middle">39384</text>
<text x="619.7" y="596.7" font-size="22" text-anchor="middle">39391</text>
<text x="727.4" y="596.7" font-size="22" text-anchor="middle">39398</text>
<text x="835.0" y="596.7" font-size="22" text-anchor="middle">39405</text>
<text x="942.7" y="596.7" font-size="22" text-anchor="middle">39412</text>
<text x="551.2" y="620.6" font-size="22" text-anchor="middle" xml:space="preserve">day from 01/01/1900  (Monday, 10/01/2007)</text>
<text transform="translate(19.6,299) rotate(-90)" font-size="22" text-anchor="middle">relative power, demand and supply</text>
<text x="83" y="27.5" font-size="22">(a)</text>
<text x="83" y="310.9" font-size="22">(b)</text>
</svg></body></html>
